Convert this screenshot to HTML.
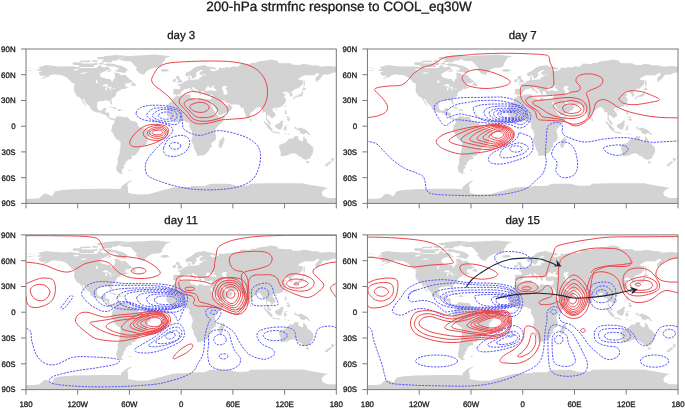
<!DOCTYPE html>
<html><head><meta charset="utf-8"><style>
html,body{margin:0;padding:0;background:#fff;width:685px;height:408px;overflow:hidden}
svg{display:block;will-change:transform}
text{font-family:"Liberation Sans",sans-serif;fill:#1a1a1a;stroke:#1a1a1a;stroke-width:0.3px;text-rendering:geometricPrecision}
</style></head><body>
<svg width="685" height="408" viewBox="0 0 685 408">
<defs>
<clipPath id="cp1"><rect x="26.0" y="49.0" width="310.30" height="154.40"/></clipPath>
<clipPath id="cp2"><rect x="367.45" y="49.0" width="310.55" height="154.40"/></clipPath>
<clipPath id="cp3"><rect x="26.0" y="234.9" width="310.30" height="154.70"/></clipPath>
<clipPath id="cp4"><rect x="367.45" y="234.9" width="310.55" height="154.70"/></clipPath>
</defs>
<text x="339" y="11.2" font-size="13.5" text-anchor="middle">200-hPa strmfnc response to COOL_eq30W</text>
<g clip-path="url(#cp1)"><path d="M40.7 79.0L39.4 79.5L41.5 78.6L45.0 76.6L45.8 75.8L41.5 75.9L39.8 74.7L38.5 73.4L39.4 72.2L42.4 70.9L38.1 70.9L36.3 69.9L40.7 68.7L38.1 67.2L46.3 65.0L51.9 65.8L59.6 66.4L64.8 66.6L70.8 66.2L77.7 67.0L82.0 67.9L88.1 67.9L96.7 67.9L99.3 64.9L103.6 67.4L107.9 66.6L110.5 69.6L107.0 71.3L105.3 71.3L100.1 73.9L100.1 75.6L100.1 75.8L101.9 77.3L106.2 78.6L110.5 79.0L112.2 82.0L113.1 79.5L114.8 78.2L114.8 74.7L113.9 72.8L118.2 73.0L121.7 75.6L125.1 74.5L127.7 77.3L129.4 79.0L132.9 81.6L132.0 82.0L129.4 83.1L125.1 83.7L125.6 84.6L125.1 85.9L126.0 86.7L129.4 86.7L124.3 88.9L120.8 88.9L120.8 90.3L117.4 91.5L116.5 93.2L115.6 94.5L116.1 95.9L113.9 97.0L111.3 99.2L111.8 102.2L112.2 104.3L110.9 104.3L109.6 101.3L107.9 100.5L104.4 100.2L104.0 101.3L100.1 100.7L97.1 102.6L97.1 105.6L97.1 107.8L98.4 109.9L99.7 110.6L102.7 110.2L103.1 108.2L106.2 107.8L105.7 110.3L105.0 112.5L108.7 112.6L109.4 113.3L109.2 115.9L109.0 116.8L110.9 118.5L112.6 118.1L114.3 118.7L114.6 119.4L113.9 119.8L112.2 119.9L110.9 119.7L107.3 117.6L107.2 116.5L105.7 115.0L102.7 114.3L100.1 112.5L98.0 112.7L94.1 111.4L90.2 109.0L90.5 107.5L89.4 106.3L87.2 104.3L85.5 102.4L83.9 99.2L82.2 98.9L82.9 100.5L84.4 103.0L86.8 106.5L86.1 106.0L84.4 104.8L82.5 102.2L81.6 100.0L80.2 98.3L79.0 97.0L77.2 96.6L75.6 94.0L74.4 92.3L74.0 90.2L74.3 86.7L73.7 84.7L75.1 85.0L75.1 84.2L73.4 83.3L71.3 82.5L70.4 80.7L68.7 79.5L66.5 77.3L63.9 76.0L60.9 75.0L57.0 74.7L53.6 74.3L51.4 75.2L50.1 74.9L48.4 76.9L46.3 77.3L44.1 78.2L41.5 79.0ZM118.2 59.3L123.4 57.1L129.4 55.9L142.4 55.3L155.3 54.6L163.9 55.4L170.8 56.3L165.6 58.0L164.8 60.2L162.2 63.6L162.2 65.7L158.7 67.4L152.7 67.9L148.4 70.0L145.8 72.2L144.1 74.7L142.4 74.6L139.8 73.4L137.6 71.3L135.5 69.2L137.2 67.4L134.6 65.7L132.9 63.6L130.3 61.2L124.3 61.0L118.2 59.3ZM125.1 73.0L127.7 69.2L122.5 66.2L113.9 64.0L107.9 63.2L103.6 64.4L108.7 66.2L113.9 66.6L119.1 68.3L117.4 70.0L113.9 70.9L120.8 72.2ZM79.4 67.0L94.1 67.0L94.1 63.6L86.3 63.6L79.4 63.6L78.6 65.3ZM73.4 64.9L81.2 65.0L81.2 62.3L73.4 62.3L72.5 63.6ZM103.6 61.0L116.5 60.6L120.8 58.4L127.7 55.9L116.5 55.0L103.6 56.3ZM101.9 62.3L112.2 62.3L112.2 60.6L101.9 60.6ZM80.3 62.3L90.6 62.0L90.6 60.6L80.3 60.8ZM97.5 59.3L107.0 59.3L107.0 56.7L97.5 57.1ZM94.1 64.9L97.5 64.9L97.5 62.7L94.1 63.2ZM99.3 64.4L103.6 64.4L103.6 62.7L99.3 62.7ZM92.4 61.9L97.5 61.9L97.5 60.2L92.4 60.2ZM105.3 71.7L108.7 71.7L112.2 70.9L108.7 69.6L106.2 70.4ZM160.5 70.0L162.2 69.2L167.4 69.2L169.5 70.4L168.2 71.0L165.6 71.8L161.8 71.5ZM107.9 107.5L110.5 106.4L114.8 107.3L117.2 108.9L114.3 109.1L112.2 107.5L109.6 107.3ZM117.0 110.3L118.4 109.1L120.9 109.4L122.2 110.2L119.6 111.1L117.0 110.5ZM113.7 110.4L115.5 110.4L115.3 110.9L113.9 110.8ZM123.2 110.3L124.6 110.4L124.5 110.8L123.2 110.8ZM130.0 85.4L133.3 81.9L135.5 84.2L135.7 85.9L135.0 86.2L132.9 85.4ZM114.5 118.9L116.1 117.2L119.1 115.6L119.5 117.2L120.8 115.9L122.5 117.2L126.0 117.1L128.1 117.2L129.0 118.9L131.6 121.1L134.6 121.2L136.8 122.5L138.1 124.7L138.1 126.6L139.3 127.1L142.8 128.3L145.8 128.7L148.0 129.4L150.7 130.7L151.2 132.6L150.7 134.3L149.3 135.6L147.6 137.5L147.5 141.2L146.7 143.4L145.4 145.5L142.8 146.2L139.8 148.1L139.3 150.6L137.2 152.8L135.5 155.1L133.8 156.1L131.6 155.8L130.7 155.4L132.0 157.5L131.5 158.9L127.7 159.7L127.5 161.2L125.1 161.4L126.0 162.7L124.9 164.8L123.0 166.1L124.3 167.4L122.2 169.3L121.7 171.2L122.1 172.9L124.3 173.4L120.0 173.8L116.9 171.2L116.1 167.4L117.4 163.9L117.8 162.2L117.6 158.4L119.5 154.1L119.6 151.1L120.4 147.6L120.6 142.0L119.5 141.0L116.5 139.3L115.3 137.8L112.6 132.6L111.2 131.3L111.1 130.1L112.2 128.3L111.8 126.6L112.2 125.3L113.5 124.1L114.3 122.8L114.4 120.2L114.1 119.8ZM176.3 95.3L177.4 94.7L179.3 94.7L180.5 93.9L181.3 92.9L180.9 92.3L181.9 91.0L183.9 90.3L183.8 89.2L185.3 89.0L186.8 89.2L187.6 88.6L188.7 88.1L189.9 88.5L190.2 89.4L191.8 90.4L193.2 91.2L194.6 91.8L194.7 93.4L195.0 93.6L195.9 92.7L195.7 91.5L197.1 91.8L196.2 91.2L194.9 90.6L193.2 89.7L191.8 88.3L191.8 87.4L193.0 87.1L193.6 87.4L194.3 88.2L195.8 89.1L197.2 89.8L197.9 90.3L197.9 91.6L198.6 92.2L199.3 93.3L199.9 94.6L200.8 95.0L201.1 93.7L201.8 93.4L200.8 92.6L201.0 91.6L201.8 91.2L203.6 91.2L204.1 91.8L203.7 92.4L204.4 93.3L204.6 94.5L205.5 94.7L206.7 95.1L207.5 94.7L208.7 94.9L210.0 95.1L211.1 94.6L212.4 94.8L212.1 95.7L212.0 96.5L211.3 97.9L210.7 99.4L209.0 99.4L209.2 100.6L210.1 102.0L210.6 102.4L211.2 100.9L211.5 102.1L212.7 104.1L213.5 105.4L214.9 107.5L215.6 109.0L216.7 110.2L217.9 112.0L218.0 113.5L218.5 115.0L218.6 115.4L219.9 115.2L222.5 114.2L224.2 113.3L226.1 112.6L228.9 111.1L230.1 110.3L231.0 109.9L231.6 108.7L232.7 106.9L231.7 106.0L230.3 105.6L229.7 104.5L229.8 103.6L229.0 104.3L227.7 105.5L226.0 105.6L225.6 105.2L225.6 104.0L225.1 103.9L224.5 104.3L224.4 103.7L223.8 103.0L223.0 101.8L222.4 100.6L223.2 100.5L224.3 100.4L225.5 102.3L227.3 103.2L228.4 103.5L229.7 102.9L230.6 104.2L232.4 104.4L234.2 104.6L236.7 104.6L238.6 104.4L239.2 105.0L240.2 106.0L240.6 107.0L241.9 108.4L243.4 107.3L243.7 108.0L243.9 109.7L244.4 112.5L245.4 114.3L246.0 115.9L246.9 117.8L248.0 119.3L248.6 118.6L249.5 117.4L249.9 116.3L250.4 114.7L250.2 113.2L251.2 112.1L252.1 112.0L253.8 110.3L254.8 109.3L256.1 108.4L256.1 107.8L257.2 107.6L257.9 107.4L259.2 106.9L260.3 107.0L260.7 108.2L261.3 109.0L262.4 110.1L262.5 112.5L263.4 112.6L264.8 111.7L265.4 112.0L265.9 114.6L266.1 116.8L265.9 119.2L267.6 121.7L267.9 122.8L268.5 123.8L270.4 125.1L271.0 125.0L270.3 122.3L269.2 120.9L267.6 119.8L267.6 118.9L266.7 117.4L267.3 115.5L267.3 114.6L268.1 115.3L269.5 115.7L269.9 116.8L271.2 117.2L271.7 118.8L273.2 117.3L275.3 116.2L275.4 114.6L274.9 113.1L273.6 112.0L272.3 110.1L273.0 108.5L274.2 107.7L275.9 107.8L276.1 108.8L276.8 107.8L279.0 107.2L281.6 106.5L283.3 105.1L284.2 103.9L285.3 102.2L286.3 100.6L285.4 99.8L286.1 99.2L285.3 98.1L284.0 96.5L284.8 95.3L286.7 94.3L285.3 93.8L283.7 94.3L282.9 93.2L282.6 92.7L283.7 92.3L285.4 91.2L286.3 91.5L285.7 92.9L286.7 92.3L288.3 92.0L289.2 93.9L290.2 94.0L290.0 96.5L291.0 96.5L292.6 95.9L292.7 94.5L291.8 93.1L291.0 92.1L292.9 91.0L293.8 89.9L295.2 89.1L297.8 88.6L299.8 87.0L302.3 84.6L303.0 81.4L302.7 80.3L300.4 80.0L299.2 79.7L297.7 79.2L299.7 77.7L302.4 76.3L304.7 75.3L307.9 75.3L311.3 75.6L314.1 75.3L316.2 73.4L319.3 73.1L319.1 74.3L317.3 76.4L316.2 77.0L315.5 79.0L316.2 82.5L317.8 80.8L319.1 79.7L320.8 78.0L321.2 77.7L321.6 76.4L322.9 74.9L324.4 74.4L327.9 74.7L329.8 73.9L331.6 73.2L334.1 72.6L335.6 72.8L335.9 70.9L338.0 70.4L340.2 71.0L342.8 70.9L345.2 69.6L343.2 68.7L339.7 67.4L336.3 67.0L332.9 66.3L327.7 66.1L324.2 66.5L319.9 66.5L317.3 65.3L312.2 65.4L307.0 64.2L301.8 64.0L300.1 64.9L294.9 64.9L292.3 64.4L290.6 63.2L287.2 63.3L282.9 63.2L278.5 62.9L277.7 61.0L276.0 60.4L270.8 59.6L266.5 60.6L262.2 61.0L257.9 61.4L256.1 62.7L250.5 63.1L250.8 64.3L248.4 64.1L245.8 63.8L243.6 63.8L241.1 63.6L240.2 64.9L238.7 65.5L238.9 66.6L236.7 66.8L233.3 66.2L231.6 67.1L228.1 67.7L227.3 67.1L223.0 68.0L219.2 67.4L218.9 69.4L215.9 70.8L213.0 71.2L211.1 70.8L210.9 69.6L209.6 69.0L211.3 68.8L214.3 69.5L216.7 68.9L216.1 68.0L212.2 66.9L209.6 66.7L207.0 66.2L205.3 65.3L203.4 65.2L201.0 65.7L197.5 66.2L194.9 67.4L193.6 68.3L191.9 69.8L190.2 70.9L188.5 71.8L185.9 72.8L185.5 73.9L185.5 75.2L186.1 75.7L187.2 76.4L188.5 76.2L189.8 75.6L190.3 74.8L190.8 75.5L191.3 76.2L192.0 77.7L192.3 78.6L193.5 78.5L194.9 78.0L195.5 76.9L195.6 76.0L197.3 75.1L196.2 74.1L196.1 72.7L197.5 71.7L199.7 70.4L200.4 69.8L203.0 70.2L202.7 70.6L199.7 72.2L199.5 73.7L200.1 74.5L201.0 74.8L203.6 74.4L207.0 74.7L205.3 75.2L201.8 75.2L201.4 75.8L202.2 76.3L201.8 77.3L199.7 76.9L199.3 78.2L199.4 78.9L198.1 79.5L197.1 79.3L195.4 79.5L193.4 80.0L191.9 79.5L190.6 79.9L189.9 79.5L190.5 77.8L190.2 76.7L188.6 77.2L188.1 78.2L188.6 79.0L188.8 79.9L187.2 80.5L185.3 80.7L184.6 81.8L183.3 82.4L182.5 83.1L181.3 83.7L180.0 83.7L179.5 83.6L179.9 84.4L178.6 84.3L177.1 84.7L177.4 85.2L179.0 85.6L180.1 86.6L180.1 87.9L179.9 89.0L177.9 89.0L174.3 88.7L173.1 89.4L173.6 90.2L173.4 91.9L173.0 93.0L173.6 94.5L174.7 94.3L175.6 94.6ZM-134.0 95.3L-132.9 94.7L-131.0 94.7L-129.8 93.9L-129.0 92.9L-129.4 92.3L-128.4 91.0L-126.4 90.3L-126.5 89.2L-125.0 89.0L-123.5 89.2L-122.7 88.6L-121.6 88.1L-120.4 88.5L-120.1 89.4L-118.5 90.4L-117.1 91.2L-115.7 91.8L-115.6 93.4L-115.3 93.6L-114.4 92.7L-114.6 91.5L-113.2 91.8L-114.1 91.2L-115.4 90.6L-117.1 89.7L-118.5 88.3L-118.5 87.4L-117.3 87.1L-116.7 87.4L-116.0 88.2L-114.5 89.1L-113.1 89.8L-112.4 90.3L-112.4 91.6L-111.7 92.2L-111.0 93.3L-110.4 94.6L-109.5 95.0L-109.2 93.7L-108.5 93.4L-109.5 92.6L-109.3 91.6L-108.5 91.2L-106.7 91.2L-106.2 91.8L-106.6 92.4L-105.9 93.3L-105.7 94.5L-104.8 94.7L-103.6 95.1L-102.8 94.7L-101.6 94.9L-100.3 95.1L-99.2 94.6L-97.9 94.8L-98.2 95.7L-98.3 96.5L-99.0 97.9L-99.6 99.4L-101.3 99.4L-101.1 100.6L-100.2 102.0L-99.7 102.4L-99.1 100.9L-98.8 102.1L-97.6 104.1L-96.8 105.4L-95.4 107.5L-94.7 109.0L-93.6 110.2L-92.4 112.0L-92.3 113.5L-91.8 115.0L-91.7 115.4L-90.4 115.2L-87.8 114.2L-86.1 113.3L-84.2 112.6L-81.4 111.1L-80.2 110.3L-79.3 109.9L-78.7 108.7L-77.6 106.9L-78.6 106.0L-80.0 105.6L-80.6 104.5L-80.5 103.6L-81.3 104.3L-82.6 105.5L-84.3 105.6L-84.7 105.2L-84.7 104.0L-85.2 103.9L-85.8 104.3L-85.9 103.7L-86.5 103.0L-87.3 101.8L-87.9 100.6L-87.1 100.5L-86.0 100.4L-84.8 102.3L-83.0 103.2L-81.9 103.5L-80.6 102.9L-79.7 104.2L-77.9 104.4L-76.1 104.6L-73.6 104.6L-71.7 104.4L-71.1 105.0L-70.1 106.0L-69.7 107.0L-68.4 108.4L-66.9 107.3L-66.6 108.0L-66.4 109.7L-65.9 112.5L-64.9 114.3L-64.3 115.9L-63.4 117.8L-62.3 119.3L-61.7 118.6L-60.8 117.4L-60.4 116.3L-59.9 114.7L-60.1 113.2L-59.1 112.1L-58.2 112.0L-56.5 110.3L-55.5 109.3L-54.2 108.4L-54.2 107.8L-53.1 107.6L-52.4 107.4L-51.1 106.9L-50.0 107.0L-49.6 108.2L-49.0 109.0L-47.9 110.1L-47.8 112.5L-46.9 112.6L-45.5 111.7L-44.9 112.0L-44.4 114.6L-44.2 116.8L-44.4 119.2L-42.7 121.7L-42.4 122.8L-41.8 123.8L-39.9 125.1L-39.3 125.0L-40.0 122.3L-41.1 120.9L-42.7 119.8L-42.7 118.9L-43.6 117.4L-43.0 115.5L-43.0 114.6L-42.2 115.3L-40.8 115.7L-40.4 116.8L-39.1 117.2L-38.6 118.8L-37.1 117.3L-35.0 116.2L-34.9 114.6L-35.4 113.1L-36.7 112.0L-38.0 110.1L-37.3 108.5L-36.1 107.7L-34.4 107.8L-34.2 108.8L-33.5 107.8L-31.3 107.2L-28.7 106.5L-27.0 105.1L-26.1 103.9L-25.0 102.2L-24.0 100.6L-24.9 99.8L-24.2 99.2L-25.0 98.1L-26.3 96.5L-25.5 95.3L-23.6 94.3L-25.0 93.8L-26.6 94.3L-27.4 93.2L-27.7 92.7L-26.6 92.3L-24.9 91.2L-24.0 91.5L-24.6 92.9L-23.6 92.3L-22.0 92.0L-21.1 93.9L-20.1 94.0L-20.3 96.5L-19.3 96.5L-17.7 95.9L-17.6 94.5L-18.5 93.1L-19.3 92.1L-17.4 91.0L-16.5 89.9L-15.1 89.1L-12.5 88.6L-10.5 87.0L-8.0 84.6L-7.3 81.4L-7.6 80.3L-9.9 80.0L-11.1 79.7L-12.6 79.2L-10.6 77.7L-7.9 76.3L-5.6 75.3L-2.4 75.3L1.0 75.6L3.8 75.3L5.9 73.4L9.0 73.1L8.8 74.3L7.0 76.4L5.9 77.0L5.2 79.0L5.9 82.5L7.5 80.8L8.8 79.7L10.5 78.0L10.9 77.7L11.3 76.4L12.6 74.9L14.1 74.4L17.6 74.7L19.5 73.9L21.3 73.2L23.8 72.6L25.3 72.8L25.6 70.9L27.7 70.4L29.9 71.0L32.5 70.9L34.9 69.6L32.9 68.7L29.4 67.4L26.0 67.0L22.6 66.3L17.4 66.1L13.9 66.5L9.6 66.5L7.0 65.3L1.9 65.4L-3.3 64.2L-8.5 64.0L-10.2 64.9L-15.4 64.9L-18.0 64.4L-19.7 63.2L-23.1 63.3L-27.4 63.2L-31.8 62.9L-32.6 61.0L-34.3 60.4L-39.5 59.6L-43.8 60.6L-48.1 61.0L-52.4 61.4L-54.2 62.7L-59.8 63.1L-59.5 64.3L-61.9 64.1L-64.5 63.8L-66.7 63.8L-69.2 63.6L-70.1 64.9L-71.6 65.5L-71.4 66.6L-73.6 66.8L-77.0 66.2L-78.7 67.1L-82.2 67.7L-83.0 67.1L-87.3 68.0L-91.1 67.4L-91.4 69.4L-94.4 70.8L-97.3 71.2L-99.2 70.8L-99.4 69.6L-100.7 69.0L-99.0 68.8L-96.0 69.5L-93.6 68.9L-94.2 68.0L-98.1 66.9L-100.7 66.7L-103.3 66.2L-105.0 65.3L-106.9 65.2L-109.3 65.7L-112.8 66.2L-115.4 67.4L-116.7 68.3L-118.4 69.8L-120.1 70.9L-121.8 71.8L-124.4 72.8L-124.8 73.9L-124.8 75.2L-124.2 75.7L-123.1 76.4L-121.8 76.2L-120.5 75.6L-120.0 74.8L-119.5 75.5L-119.0 76.2L-118.3 77.7L-118.0 78.6L-116.8 78.5L-115.4 78.0L-114.8 76.9L-114.7 76.0L-113.0 75.1L-114.1 74.1L-114.2 72.7L-112.8 71.7L-110.6 70.4L-109.9 69.8L-107.3 70.2L-107.6 70.6L-110.6 72.2L-110.8 73.7L-110.2 74.5L-109.3 74.8L-106.7 74.4L-103.3 74.7L-105.0 75.2L-108.5 75.2L-108.9 75.8L-108.1 76.3L-108.5 77.3L-110.6 76.9L-111.0 78.2L-110.9 78.9L-112.2 79.5L-113.2 79.3L-114.9 79.5L-116.9 80.0L-118.4 79.5L-119.7 79.9L-120.4 79.5L-119.8 77.8L-120.1 76.7L-121.7 77.2L-122.2 78.2L-121.7 79.0L-121.5 79.9L-123.1 80.5L-125.0 80.7L-125.7 81.8L-127.0 82.4L-127.8 83.1L-129.0 83.7L-130.3 83.7L-130.8 83.6L-130.4 84.4L-131.7 84.3L-133.2 84.7L-132.9 85.2L-131.3 85.6L-130.2 86.6L-130.2 87.9L-130.4 89.0L-132.4 89.0L-136.0 88.7L-137.2 89.4L-136.7 90.2L-136.9 91.9L-137.3 93.0L-136.7 94.5L-135.6 94.3L-134.7 94.6ZM209.0 99.4L207.0 99.4L205.3 99.7L202.7 99.1L201.0 98.3L200.1 98.0L198.4 98.8L197.5 100.2L195.8 99.6L194.5 98.5L192.4 98.0L191.1 97.7L189.9 97.0L190.7 96.0L190.2 94.7L190.6 94.4L189.6 94.2L188.0 94.5L185.5 94.6L183.7 94.6L182.0 94.9L180.3 95.7L179.3 96.1L176.6 95.4L176.0 95.5L175.3 97.0L173.8 97.6L172.7 99.3L172.8 100.5L171.2 102.0L169.9 102.6L168.7 103.7L167.4 105.6L166.5 107.8L167.1 109.5L166.9 111.6L166.1 113.6L166.7 114.6L166.8 115.6L167.8 116.3L168.7 117.2L169.7 118.1L170.4 119.5L171.7 120.4L173.0 121.5L174.7 122.4L176.8 121.8L179.4 122.1L181.2 121.4L182.9 120.8L185.0 120.8L186.3 122.5L187.6 122.3L188.7 122.6L189.3 123.6L189.6 125.3L189.2 127.1L190.6 129.2L191.5 130.5L192.4 133.1L192.8 135.2L191.9 137.8L191.3 140.4L191.9 142.1L193.6 145.5L194.1 148.9L195.4 150.7L196.7 153.2L196.9 155.4L198.4 156.1L200.5 155.4L203.1 155.4L204.4 154.9L207.0 152.8L209.2 150.6L209.5 148.5L211.7 146.8L211.6 145.1L211.1 143.4L212.6 142.3L215.2 140.4L216.1 138.6L216.1 135.6L215.2 132.6L214.8 130.5L215.9 128.6L216.9 127.5L218.6 125.5L220.8 123.6L222.5 121.9L223.8 119.3L225.3 116.3L223.4 116.5L220.8 117.0L219.1 117.3L218.4 116.3L218.0 115.5L216.9 114.4L215.6 112.9L214.8 111.6L213.9 110.3L213.2 108.2L212.9 107.3L211.7 106.0L211.3 104.3L210.3 102.6L209.2 100.6ZM223.6 136.5L224.7 139.5L223.8 141.6L223.0 144.2L221.7 147.6L219.9 148.1L218.8 146.4L218.5 144.6L219.4 143.2L219.1 140.8L220.8 139.8L222.5 137.8ZM250.1 117.8L251.0 118.9L251.7 120.2L251.0 121.1L250.2 121.1L249.9 119.8ZM176.2 83.3L178.6 82.8L182.4 82.3L182.6 81.0L181.3 80.3L180.9 79.9L179.9 79.0L179.4 78.2L179.6 76.8L178.4 75.9L176.8 75.9L175.8 76.9L176.3 78.2L177.0 79.2L178.4 79.9L178.6 80.6L177.2 80.9L177.5 81.6L176.7 81.9L178.1 82.1L177.3 82.8ZM176.0 81.4L175.8 80.1L176.3 79.4L176.0 78.9L174.7 78.8L173.8 79.4L172.5 79.9L173.0 80.7L172.3 81.6L173.0 82.0L174.3 81.8L175.7 81.4ZM294.0 97.0L295.4 95.7L297.9 95.6L299.1 94.2L301.4 93.4L301.8 91.9L302.9 90.7L303.5 92.3L302.7 94.0L302.5 95.7L301.6 96.2L300.8 96.5L299.2 96.5L298.2 97.5L297.5 96.5L295.8 96.8L294.1 97.1ZM292.9 97.5L294.1 97.1L294.8 98.3L294.1 99.4L293.4 99.4L293.0 98.2ZM295.4 97.9L296.2 97.6L297.3 97.2L297.1 96.9L295.8 96.9L295.2 97.4ZM301.8 90.6L303.1 89.7L304.7 90.2L306.8 89.1L305.3 88.5L303.4 87.3L302.9 88.9L302.1 89.1L301.8 90.2ZM303.5 86.7L304.8 86.3L304.6 84.2L305.3 84.0L304.2 79.6L303.7 80.3L303.5 82.5L303.5 85.0ZM284.7 106.5L285.3 107.4L286.2 104.9L285.8 104.5L284.8 105.6ZM274.8 109.7L275.5 110.6L276.8 109.4L276.4 109.0L275.1 109.1ZM284.6 112.5L285.0 110.3L286.5 110.3L286.3 112.0L286.7 114.2L288.0 115.0L287.2 114.6L285.4 114.4L285.1 113.8ZM286.3 120.2L287.2 118.9L289.3 118.1L290.2 119.8L289.3 121.3L288.0 120.6ZM286.3 117.2L287.6 116.3L289.3 116.3L288.9 117.6L287.2 118.1ZM263.3 121.4L265.2 121.7L267.6 124.1L270.4 126.6L271.2 127.7L272.5 128.8L272.3 131.2L271.2 131.3L269.5 129.6L268.2 128.3L266.9 126.6L266.1 124.7L264.3 123.2ZM271.8 132.0L272.9 131.3L274.7 131.8L276.4 132.1L278.1 132.1L279.8 132.8L279.8 133.7L276.8 133.2L274.7 132.9L272.9 132.5ZM275.1 124.9L275.7 124.5L277.3 124.1L278.5 123.5L280.7 121.7L282.0 120.2L283.9 121.7L282.9 122.3L282.6 125.3L283.6 125.3L282.4 126.2L281.7 127.9L281.1 129.4L279.8 129.6L277.4 128.8L276.1 127.7L275.1 126.6L275.1 125.3ZM284.2 130.9L285.0 130.9L284.8 128.6L285.7 130.2L287.0 130.1L285.9 127.9L287.3 127.1L285.4 127.1L285.0 125.8L287.2 125.4L288.9 124.9L285.3 125.1L284.4 126.2L283.7 129.2ZM294.1 127.1L295.4 126.5L297.5 129.0L299.7 127.5L302.7 128.4L306.1 130.1L307.0 130.9L308.3 131.8L308.7 133.1L310.9 135.2L308.3 134.8L307.0 133.1L305.3 132.9L304.0 134.2L302.7 134.0L301.0 133.2L300.1 133.4L299.9 130.9L297.9 130.0L296.2 129.5L294.9 128.6L294.5 127.5ZM287.6 135.0L288.9 133.9L290.8 133.4L289.8 134.2L288.3 134.9ZM283.5 133.7L284.6 133.3L287.0 133.3L287.0 133.7L284.6 133.8ZM279.0 145.1L279.4 148.5L280.2 151.1L280.9 153.2L280.3 155.0L281.6 156.2L282.9 156.2L287.6 155.3L289.8 153.9L292.3 153.4L294.1 153.2L296.7 154.3L298.0 156.1L298.8 155.4L299.9 156.8L301.4 157.1L302.3 158.8L304.8 159.5L307.3 159.7L308.7 158.6L310.4 158.4L310.6 156.9L311.6 155.2L312.6 153.6L313.5 150.8L313.2 147.6L311.1 145.5L309.6 143.8L307.3 142.5L306.6 139.9L306.4 139.0L304.8 138.2L304.0 135.4L303.2 137.4L303.1 140.4L302.3 141.4L301.0 140.8L299.2 139.8L297.9 139.1L299.0 136.9L298.4 136.5L295.5 135.9L294.1 136.7L292.8 139.0L291.0 138.2L289.3 138.6L287.6 140.4L286.5 141.6L285.4 142.9L283.3 143.6L281.7 143.9L279.9 144.9ZM305.8 161.1L309.0 161.3L308.7 163.3L307.0 163.6L306.3 162.4ZM330.0 155.7L331.6 157.5L332.8 158.4L335.0 158.5L333.7 159.9L332.9 161.4L332.0 161.8L331.6 160.3L331.0 159.8L331.6 157.9ZM330.0 160.9L331.4 162.0L330.7 163.1L328.8 164.4L327.2 166.2L324.7 165.7L326.0 163.9L328.5 162.2ZM26.0 67.0L30.3 68.3L34.6 69.5L32.9 71.0L29.4 70.1L26.0 70.4ZM26.0 198.8L32.9 198.8L38.9 198.3L42.4 195.3L45.0 193.6L48.4 194.4L51.9 196.5L54.4 192.2L55.3 191.2L62.2 190.1L74.3 189.2L86.3 189.1L97.5 188.8L112.2 188.8L120.8 189.0L121.2 186.7L123.0 185.2L126.0 183.0L129.4 181.1L132.0 180.2L131.2 181.3L128.1 183.2L127.3 185.4L128.1 188.0L128.1 192.7L132.9 194.0L138.1 194.5L148.4 194.2L156.6 191.9L162.6 190.2L168.2 188.8L173.0 187.6L181.2 187.1L189.8 187.1L191.5 186.0L205.3 186.0L207.0 185.0L211.3 183.7L219.9 183.7L228.6 183.7L237.2 185.8L241.5 185.8L248.4 185.4L250.1 183.7L266.5 183.2L302.7 183.2L310.4 185.0L319.1 186.2L328.0 188.0L324.2 189.7L321.6 192.2L322.5 195.7L327.7 198.0L336.3 198.0L337.2 203.4L25.1 203.4ZM-284.3 198.8L-277.4 198.8L-271.4 198.3L-267.9 195.3L-265.3 193.6L-261.9 194.4L-258.4 196.5L-255.9 192.2L-255.0 191.2L-248.1 190.1L-236.0 189.2L-224.0 189.1L-212.8 188.8L-198.1 188.8L-189.5 189.0L-189.1 186.7L-187.3 185.2L-184.3 183.0L-180.9 181.1L-178.3 180.2L-179.1 181.3L-182.2 183.2L-183.0 185.4L-182.2 188.0L-182.2 192.7L-177.4 194.0L-172.2 194.5L-161.9 194.2L-153.7 191.9L-147.7 190.2L-142.1 188.8L-137.3 187.6L-129.2 187.1L-120.5 187.1L-118.8 186.0L-105.0 186.0L-103.3 185.0L-99.0 183.7L-90.4 183.7L-81.7 183.7L-73.1 185.8L-68.8 185.8L-61.9 185.4L-60.2 183.7L-43.8 183.2L-7.6 183.2L0.1 185.0L8.8 186.2L17.7 188.0L13.9 189.7L11.3 192.2L12.2 195.7L17.4 198.0L26.0 198.0L26.9 203.4L-285.2 203.4ZM128.3 170.1L131.0 170.2L131.4 170.5L130.5 171.1L129.0 171.0Z" fill="#d3d3d3"/><path d="M100.1 75.6L101.4 77.3L106.2 78.6L110.2 78.9L112.2 82.0L113.1 79.5L114.8 78.2L114.8 74.7L113.9 72.8L112.2 71.7L108.7 72.2L105.3 71.3L102.7 72.2L100.1 73.9ZM205.3 90.5L205.8 89.0L206.7 87.3L207.7 86.3L209.2 86.7L210.0 88.0L211.7 87.5L212.7 87.3L213.9 88.0L215.2 88.9L217.0 90.5L215.2 91.0L212.6 90.8L210.9 90.2L208.7 90.4L206.3 90.9ZM211.5 87.3L212.9 87.3L214.2 86.5L214.9 85.7L213.5 85.8L211.5 86.6ZM223.4 86.3L225.5 85.9L226.8 86.1L227.0 87.3L225.4 87.9L226.6 90.2L227.7 91.0L226.8 92.3L227.6 94.2L225.1 94.7L223.4 94.0L223.6 91.9L223.0 90.3L221.9 88.9L222.1 87.2ZM101.8 86.1L103.6 86.2L106.2 86.3L108.3 86.3L108.2 85.5L107.0 84.3L104.9 84.3L103.6 84.9L101.9 85.9ZM105.5 90.4L106.4 90.3L106.9 88.9L107.5 87.2L108.1 86.8L106.6 86.7L105.6 87.8L105.4 89.3ZM108.2 86.8L109.2 86.7L110.9 86.7L111.9 87.2L110.8 87.8L110.7 89.1L110.0 89.3L109.2 88.5L109.4 87.6L108.3 87.2ZM109.2 90.4L110.9 90.6L113.1 89.5L111.8 89.6L110.0 90.0ZM112.4 89.1L114.8 89.1L115.5 88.4L113.9 88.5L112.6 88.7ZM95.8 82.9L98.0 82.9L97.7 81.6L96.9 79.9L96.0 80.3L95.8 82.0ZM80.3 73.9L83.8 73.7L87.2 72.8L85.5 72.3L82.0 72.8ZM73.4 70.4L76.9 70.3L79.4 69.2L76.9 68.7L74.3 69.2Z" fill="#fff"/>
<path d="M151.6 79.6C151.6 77.9 152.7 76.3 153.8 74.4C154.9 72.5 155.8 69.8 158.0 68.0C160.2 66.2 162.3 64.5 166.9 63.4C171.5 62.4 178.7 62.1 185.8 61.7C193.0 61.3 201.8 61.0 209.8 61.0C217.8 61.0 227.0 61.1 233.8 62.0C240.7 62.9 246.2 64.1 250.9 66.2C255.6 68.3 259.2 71.3 261.9 74.7C264.6 78.1 266.4 82.4 267.1 86.7C267.9 91.0 267.7 96.3 266.4 100.5C265.1 104.7 262.6 109.0 259.5 111.8C256.4 114.6 252.3 116.3 247.5 117.5C242.7 118.7 235.3 118.8 230.9 119.2C226.5 119.6 224.1 119.5 221.2 120.0C218.3 120.5 216.2 121.4 213.3 122.0C210.4 122.6 206.6 123.6 203.7 123.8C200.8 124.0 198.2 124.1 195.8 123.4C193.5 122.7 191.3 121.0 189.6 119.4C187.8 117.9 186.9 115.8 185.3 114.1C183.7 112.4 181.7 111.2 180.0 109.5C178.3 107.8 176.9 106.1 175.0 103.9C173.1 101.7 170.8 98.7 168.5 96.5C166.2 94.3 163.6 92.6 161.2 90.6C158.8 88.6 155.4 86.5 153.8 84.7C152.2 82.9 151.6 81.3 151.6 79.6Z" fill="none" stroke="#e8454a" stroke-width="1.0"/>
<path d="M179.1 101.4C179.1 99.4 181.1 96.8 183.2 95.2C185.2 93.6 188.5 92.0 191.4 91.6C194.3 91.2 197.3 91.9 200.5 92.7C203.7 93.5 207.4 94.8 210.8 96.2C214.2 97.6 218.2 99.2 221.0 101.3C223.8 103.3 226.7 106.4 227.6 108.5C228.5 110.6 227.6 112.6 226.5 114.1C225.4 115.6 223.1 116.7 221.2 117.6C219.3 118.5 217.6 119.0 215.1 119.6C212.6 120.2 209.2 121.0 206.3 121.2C203.4 121.4 200.0 121.3 197.5 120.7C195.0 120.1 193.0 119.0 191.4 117.6C189.8 116.2 189.3 114.1 187.9 112.4C186.5 110.7 184.5 109.3 183.0 107.5C181.5 105.7 179.1 103.5 179.1 101.4Z" fill="none" stroke="#e8454a" stroke-width="1.0"/>
<path d="M184.2 103.4C184.5 102.4 185.4 101.1 187.3 100.3C189.2 99.5 192.3 98.8 195.4 98.8C198.5 98.8 202.6 99.3 205.7 100.3C208.8 101.3 211.8 103.4 213.8 104.9C215.8 106.4 217.1 107.9 217.5 109.2C217.9 110.5 217.2 111.5 216.5 112.6C215.8 113.7 215.0 115.1 213.3 115.9C211.6 116.7 208.9 117.4 206.3 117.6C203.7 117.8 199.7 117.7 197.5 117.2C195.3 116.7 194.6 115.8 193.2 114.6C191.8 113.4 190.1 111.1 188.8 109.8C187.5 108.5 186.3 107.6 185.5 106.5C184.7 105.4 183.9 104.4 184.2 103.4Z" fill="none" stroke="#e8454a" stroke-width="1.0"/>
<path d="M190.3 105.4C191.5 104.2 195.9 102.7 198.5 102.4C201.1 102.1 203.9 102.5 205.7 103.4C207.5 104.3 209.4 106.6 209.2 108.0C209.0 109.4 206.5 111.1 204.6 111.8C202.7 112.5 199.7 112.5 197.5 112.1C195.3 111.7 192.6 110.6 191.4 109.5C190.2 108.4 189.1 106.6 190.3 105.4Z" fill="none" stroke="#e8454a" stroke-width="1.0"/>
<path d="M129.7 142.6C129.7 141.1 130.9 139.0 132.1 137.2C133.3 135.4 135.1 133.4 136.9 131.7C138.7 130.0 140.8 128.1 143.1 126.9C145.4 125.7 148.0 124.9 150.6 124.5C153.2 124.1 156.4 124.2 158.9 124.5C161.4 124.8 164.1 125.2 165.7 126.2C167.3 127.2 168.3 128.8 168.5 130.3C168.7 131.8 168.1 133.6 167.1 135.1C166.1 136.6 164.2 137.9 162.3 139.2C160.4 140.4 158.0 141.6 155.5 142.6C153.0 143.6 150.1 144.7 147.2 145.4C144.3 146.1 140.8 146.7 138.3 146.8C135.8 146.9 133.5 146.8 132.1 146.1C130.7 145.4 129.7 144.1 129.7 142.6Z" fill="none" stroke="#e8454a" stroke-width="1.0"/>
<path d="M167.5 132.4C167.5 133.4 167.3 134.4 166.9 135.3C166.5 136.2 165.8 137.1 164.9 137.8C164.1 138.5 162.9 139.1 161.8 139.6C160.6 140.0 159.2 140.3 157.8 140.4C156.5 140.6 155.0 140.5 153.6 140.3C152.2 140.2 150.8 139.8 149.6 139.4C148.4 139.0 147.2 138.4 146.3 137.9C145.4 137.3 144.6 136.6 144.1 135.9C143.6 135.2 143.3 134.4 143.2 133.7C143.2 132.9 143.4 132.1 143.8 131.4C144.3 130.6 145.0 129.8 145.8 129.2C146.7 128.5 147.8 127.8 149.0 127.3C150.2 126.8 151.5 126.3 152.9 126.0C154.2 125.7 155.7 125.5 157.1 125.5C158.4 125.5 159.9 125.6 161.1 125.9C162.3 126.2 163.5 126.7 164.4 127.4C165.3 128.0 166.1 128.8 166.6 129.6C167.1 130.5 167.4 131.5 167.5 132.4Z" fill="none" stroke="#e8454a" stroke-width="1.0"/>
<path d="M166.0 132.3C166.0 133.1 165.8 134.0 165.4 134.7C165.0 135.5 164.3 136.2 163.5 136.8C162.7 137.3 161.6 137.8 160.5 138.0C159.4 138.3 158.2 138.4 157.0 138.4C155.8 138.4 154.5 138.2 153.4 137.9C152.3 137.6 151.2 137.2 150.3 136.7C149.5 136.3 148.7 135.7 148.2 135.1C147.7 134.6 147.4 133.9 147.4 133.3C147.4 132.6 147.6 132.0 148.0 131.3C148.4 130.7 149.1 130.1 150.0 129.5C150.8 129.0 151.8 128.4 152.9 128.0C154.0 127.7 155.2 127.3 156.4 127.2C157.6 127.1 158.9 127.1 160.0 127.2C161.1 127.4 162.2 127.7 163.1 128.2C163.9 128.6 164.7 129.3 165.2 130.0C165.7 130.7 165.9 131.5 166.0 132.3Z" fill="none" stroke="#e8454a" stroke-width="1.0"/>
<path d="M164.5 132.3C164.5 132.8 164.3 133.4 164.0 133.9C163.6 134.4 163.1 134.9 162.4 135.3C161.8 135.6 160.9 135.9 160.0 136.1C159.1 136.3 158.1 136.4 157.2 136.4C156.2 136.4 155.2 136.3 154.3 136.1C153.4 135.9 152.5 135.6 151.8 135.3C151.1 135.0 150.5 134.6 150.1 134.2C149.7 133.8 149.5 133.3 149.5 132.9C149.5 132.5 149.7 132.0 150.0 131.6C150.4 131.1 150.9 130.7 151.6 130.3C152.3 129.9 153.1 129.6 154.0 129.3C154.9 129.1 155.9 128.9 156.8 128.8C157.8 128.7 158.8 128.7 159.7 128.8C160.6 129.0 161.5 129.2 162.2 129.5C162.9 129.8 163.5 130.3 163.9 130.7C164.2 131.2 164.5 131.8 164.5 132.3Z" fill="none" stroke="#e8454a" stroke-width="1.0"/>
<path d="M162.5 132.4C162.5 132.8 162.3 133.2 162.0 133.5C161.7 133.8 161.2 134.2 160.6 134.4C160.0 134.6 159.2 134.8 158.5 134.8C157.7 134.9 156.9 134.9 156.1 134.8C155.4 134.8 154.6 134.6 154.0 134.4C153.4 134.2 152.9 133.9 152.6 133.6C152.2 133.4 152.0 133.0 152.0 132.7C152.0 132.4 152.2 132.0 152.5 131.7C152.8 131.4 153.3 131.1 153.9 130.9C154.5 130.7 155.3 130.5 156.0 130.3C156.8 130.2 157.6 130.2 158.3 130.2C159.1 130.2 159.9 130.3 160.5 130.5C161.1 130.7 161.6 131.0 161.9 131.3C162.3 131.6 162.5 132.0 162.5 132.4Z" fill="none" stroke="#e8454a" stroke-width="1.0"/>
<path d="M136.1 113.1C136.4 111.5 137.8 109.1 140.2 107.8C142.6 106.5 146.7 105.6 150.8 105.3C154.9 105.0 160.8 105.3 164.7 105.7C168.6 106.1 171.9 106.8 174.5 107.8C177.1 108.8 179.0 109.7 180.2 111.4C181.4 113.1 181.5 115.8 181.9 118.0C182.3 120.2 182.4 122.7 182.7 124.5C183.0 126.3 182.2 127.3 183.6 128.8C185.0 130.3 188.3 132.4 191.2 133.5C194.0 134.6 197.5 135.6 200.7 135.4C203.9 135.2 207.0 133.4 210.2 132.6C213.4 131.8 215.6 130.5 219.7 130.7C223.8 130.8 230.2 132.2 234.9 133.5C239.7 134.8 244.4 136.2 248.2 138.3C252.0 140.4 255.6 143.1 257.6 145.9C259.7 148.8 260.3 151.6 260.5 155.4C260.7 159.2 260.0 164.5 258.6 168.6C257.2 172.7 255.3 177.0 252.0 180.0C248.7 183.0 244.1 185.1 238.7 186.7C233.3 188.3 226.7 189.0 219.7 189.5C212.7 190.0 203.8 190.0 196.9 189.5C190.0 189.0 184.3 188.1 178.0 186.7C171.7 185.3 164.1 182.9 159.0 181.0C153.9 179.1 149.9 177.7 147.6 175.3C145.3 172.9 145.3 169.4 145.3 166.7C145.3 164.0 145.9 162.0 147.6 159.2C149.2 156.4 152.3 152.9 155.2 149.7C158.0 146.5 162.2 142.7 164.7 140.2C167.2 137.7 169.0 136.3 170.4 134.6C171.8 132.9 172.9 131.4 172.9 130.0C172.9 128.6 171.8 127.2 170.4 126.2C169.0 125.2 166.6 124.4 164.7 123.7C162.8 123.0 161.1 122.5 159.0 122.1C156.9 121.7 154.8 121.6 152.4 121.3C150.0 121.0 146.6 120.7 144.3 120.0C142.0 119.3 139.9 118.4 138.5 117.2C137.1 116.0 135.8 114.7 136.1 113.1Z" fill="none" stroke="#5656fa" stroke-width="1.0" stroke-dasharray="2.2 1.1"/>
<path d="M146.7 114.7C147.1 113.1 150.1 110.2 152.4 109.0C154.7 107.8 157.9 107.9 160.6 107.8C163.3 107.7 166.2 107.8 168.8 108.2C171.4 108.6 174.3 109.2 176.2 110.2C178.1 111.2 179.5 112.3 180.2 113.9C180.9 115.5 180.6 118.0 180.2 119.6C179.8 121.2 179.0 122.9 177.8 123.7C176.6 124.5 175.1 124.6 172.9 124.5C170.7 124.4 167.4 123.4 164.7 122.9C162.0 122.4 158.9 122.0 156.5 121.3C154.1 120.6 151.6 119.9 150.0 118.8C148.4 117.7 146.3 116.3 146.7 114.7Z" fill="none" stroke="#5656fa" stroke-width="1.0" stroke-dasharray="2.2 1.1"/>
<path d="M152.4 114.7C153.2 113.4 156.5 111.1 159.0 110.2C161.5 109.3 164.6 109.2 167.2 109.4C169.8 109.6 172.9 110.4 174.5 111.4C176.1 112.4 176.9 114.1 177.0 115.5C177.1 116.9 176.7 118.6 175.3 119.6C173.9 120.6 171.4 121.2 168.8 121.3C166.2 121.4 162.2 121.0 159.8 120.4C157.4 119.9 155.3 119.0 154.1 118.0C152.9 117.0 151.6 116.0 152.4 114.7Z" fill="none" stroke="#5656fa" stroke-width="1.0" stroke-dasharray="2.2 1.1"/>
<path d="M158.2 115.1C158.8 114.2 161.2 112.8 163.1 112.3C165.0 111.8 168.0 111.8 169.6 112.3C171.2 112.8 172.6 114.1 172.9 115.1C173.2 116.1 172.6 117.7 171.2 118.4C169.8 119.1 166.6 119.3 164.7 119.2C162.8 119.1 160.9 118.3 159.8 117.6C158.7 116.9 157.6 116.0 158.2 115.1Z" fill="none" stroke="#5656fa" stroke-width="1.0" stroke-dasharray="2.2 1.1"/>
<path d="M163.7 147.8C164.5 145.7 165.8 141.3 168.5 139.2C171.2 137.1 176.7 135.7 179.8 135.4C183.0 135.1 185.8 135.9 187.4 137.3C189.1 138.7 190.0 141.6 189.7 144.0C189.4 146.4 187.8 149.5 185.5 151.6C183.2 153.7 179.2 155.7 176.1 156.3C172.9 156.9 168.7 156.2 166.6 155.4C164.5 154.6 164.2 152.9 163.7 151.6C163.2 150.3 162.9 149.9 163.7 147.8Z" fill="none" stroke="#5656fa" stroke-width="1.0" stroke-dasharray="2.2 1.1"/>
<path d="M180.8 145.9C180.8 146.6 180.4 147.4 179.7 147.9C179.1 148.4 177.9 148.9 176.9 149.1C175.8 149.3 174.4 149.3 173.3 149.1C172.3 148.9 171.1 148.4 170.5 147.9C169.8 147.4 169.4 146.6 169.4 145.9C169.4 145.2 169.8 144.4 170.5 143.9C171.1 143.4 172.3 142.9 173.3 142.7C174.4 142.5 175.8 142.5 176.9 142.7C177.9 142.9 179.1 143.4 179.7 143.9C180.4 144.4 180.8 145.2 180.8 145.9Z" fill="none" stroke="#5656fa" stroke-width="1.0" stroke-dasharray="2.2 1.1"/>
</g>
<rect x="26.0" y="49.0" width="310.30" height="154.40" fill="none" stroke="#7a7a7a" stroke-width="1"/>
<line x1="21.0" y1="49.0" x2="26.0" y2="49.0" stroke="#7a7a7a" stroke-width="1"/>
<text x="15.6" y="51.8" font-size="7.9" text-anchor="end">90N</text>
<line x1="21.0" y1="74.7" x2="26.0" y2="74.7" stroke="#7a7a7a" stroke-width="1"/>
<text x="15.6" y="77.5" font-size="7.9" text-anchor="end">60N</text>
<line x1="21.0" y1="100.5" x2="26.0" y2="100.5" stroke="#7a7a7a" stroke-width="1"/>
<text x="15.6" y="103.3" font-size="7.9" text-anchor="end">30N</text>
<line x1="21.0" y1="126.2" x2="26.0" y2="126.2" stroke="#7a7a7a" stroke-width="1"/>
<text x="15.6" y="129.0" font-size="7.9" text-anchor="end">0</text>
<line x1="21.0" y1="151.9" x2="26.0" y2="151.9" stroke="#7a7a7a" stroke-width="1"/>
<text x="15.6" y="154.7" font-size="7.9" text-anchor="end">30S</text>
<line x1="21.0" y1="177.7" x2="26.0" y2="177.7" stroke="#7a7a7a" stroke-width="1"/>
<text x="15.6" y="180.5" font-size="7.9" text-anchor="end">60S</text>
<line x1="21.0" y1="203.4" x2="26.0" y2="203.4" stroke="#7a7a7a" stroke-width="1"/>
<text x="15.6" y="206.2" font-size="7.9" text-anchor="end">90S</text>
<line x1="26.0" y1="203.4" x2="26.0" y2="208.4" stroke="#7a7a7a" stroke-width="1"/>
<line x1="77.7" y1="203.4" x2="77.7" y2="208.4" stroke="#7a7a7a" stroke-width="1"/>
<line x1="129.4" y1="203.4" x2="129.4" y2="208.4" stroke="#7a7a7a" stroke-width="1"/>
<line x1="181.2" y1="203.4" x2="181.2" y2="208.4" stroke="#7a7a7a" stroke-width="1"/>
<line x1="232.9" y1="203.4" x2="232.9" y2="208.4" stroke="#7a7a7a" stroke-width="1"/>
<line x1="284.6" y1="203.4" x2="284.6" y2="208.4" stroke="#7a7a7a" stroke-width="1"/>
<line x1="336.3" y1="203.4" x2="336.3" y2="208.4" stroke="#7a7a7a" stroke-width="1"/>
<text x="181.2" y="38.5" font-size="11.5" text-anchor="middle">day 3</text>
<g clip-path="url(#cp2)"><path d="M382.1 79.0L380.8 79.5L383.0 78.6L386.4 76.6L387.3 75.8L383.0 75.9L381.3 74.7L380.0 73.4L380.8 72.2L383.8 70.9L379.5 70.9L377.8 69.9L382.1 68.7L379.5 67.2L387.7 65.0L393.3 65.8L401.1 66.4L406.3 66.6L412.3 66.2L419.2 67.0L423.5 67.9L429.6 67.9L438.2 67.9L440.8 64.9L445.1 67.4L449.4 66.6L452.0 69.6L448.5 71.3L446.8 71.3L441.6 73.9L441.6 75.6L441.6 75.8L443.4 77.3L447.7 78.6L452.0 79.0L453.7 82.0L454.6 79.5L456.3 78.2L456.3 74.7L455.4 72.8L459.8 73.0L463.2 75.6L466.7 74.5L469.2 77.3L471.0 79.0L474.4 81.6L473.6 82.0L471.0 83.1L466.7 83.7L467.1 84.6L466.7 85.9L467.5 86.7L471.0 86.7L465.8 88.9L462.3 88.9L462.3 90.3L458.9 91.5L458.0 93.2L457.2 94.5L457.6 95.9L455.4 97.0L452.9 99.2L453.3 102.2L453.7 104.3L452.4 104.3L451.1 101.3L449.4 100.5L446.0 100.2L445.5 101.3L441.6 100.7L438.6 102.6L438.6 105.6L438.6 107.8L439.9 109.9L441.2 110.6L444.2 110.2L444.7 108.2L447.7 107.8L447.2 110.3L446.6 112.5L450.3 112.6L450.9 113.3L450.7 115.9L450.5 116.8L452.4 118.5L454.1 118.1L455.9 118.7L456.1 119.4L455.4 119.8L453.7 119.9L452.4 119.7L448.8 117.6L448.7 116.5L447.2 115.0L444.2 114.3L441.6 112.5L439.5 112.7L435.6 111.4L431.7 109.0L432.0 107.5L430.9 106.3L428.7 104.3L427.0 102.4L425.4 99.2L423.7 98.9L424.4 100.5L425.9 103.0L428.3 106.5L427.6 106.0L425.9 104.8L424.0 102.2L423.1 100.0L421.7 98.3L420.5 97.0L418.7 96.6L417.1 94.0L415.9 92.3L415.5 90.2L415.8 86.7L415.2 84.7L416.6 85.0L416.6 84.2L414.9 83.3L412.7 82.5L411.9 80.7L410.2 79.5L408.0 77.3L405.4 76.0L402.4 75.0L398.5 74.7L395.1 74.3L392.9 75.2L391.6 74.9L389.9 76.9L387.7 77.3L385.6 78.2L383.0 79.0ZM459.8 59.3L464.9 57.1L471.0 55.9L483.9 55.3L496.8 54.6L505.5 55.4L512.4 56.3L507.2 58.0L506.3 60.2L503.7 63.6L503.7 65.7L500.3 67.4L494.3 67.9L489.9 70.0L487.4 72.2L485.6 74.7L483.9 74.6L481.3 73.4L479.2 71.3L477.0 69.2L478.7 67.4L476.1 65.7L474.4 63.6L471.8 61.2L465.8 61.0L459.8 59.3ZM466.7 73.0L469.2 69.2L464.1 66.2L455.4 64.0L449.4 63.2L445.1 64.4L450.3 66.2L455.4 66.6L460.6 68.3L458.9 70.0L455.4 70.9L462.3 72.2ZM420.9 67.0L435.6 67.0L435.6 63.6L427.8 63.6L420.9 63.6L420.1 65.3ZM414.9 64.9L422.7 65.0L422.7 62.3L414.9 62.3L414.0 63.6ZM445.1 61.0L458.0 60.6L462.3 58.4L469.2 55.9L458.0 55.0L445.1 56.3ZM443.4 62.3L453.7 62.3L453.7 60.6L443.4 60.6ZM421.8 62.3L432.1 62.0L432.1 60.6L421.8 60.8ZM439.0 59.3L448.5 59.3L448.5 56.7L439.0 57.1ZM435.6 64.9L439.0 64.9L439.0 62.7L435.6 63.2ZM440.8 64.4L445.1 64.4L445.1 62.7L440.8 62.7ZM433.9 61.9L439.0 61.9L439.0 60.2L433.9 60.2ZM446.8 71.7L450.3 71.7L453.7 70.9L450.3 69.6L447.7 70.4ZM502.0 70.0L503.7 69.2L508.9 69.2L511.1 70.4L509.8 71.0L507.2 71.8L503.3 71.5ZM449.4 107.5L452.0 106.4L456.3 107.3L458.7 108.9L455.9 109.1L453.7 107.5L451.1 107.3ZM458.5 110.3L459.9 109.1L462.4 109.4L463.7 110.2L461.1 111.1L458.5 110.5ZM455.2 110.4L457.0 110.4L456.8 110.9L455.4 110.8ZM464.8 110.3L466.1 110.4L466.0 110.8L464.8 110.8ZM471.6 85.4L474.8 81.9L477.0 84.2L477.3 85.9L476.6 86.2L474.4 85.4ZM456.0 118.9L457.6 117.2L460.6 115.6L461.0 117.2L462.3 115.9L464.1 117.2L467.5 117.1L469.7 117.2L470.5 118.9L473.1 121.1L476.1 121.2L478.3 122.5L479.6 124.7L479.6 126.6L480.9 127.1L484.3 128.3L487.4 128.7L489.5 129.4L492.3 130.7L492.7 132.6L492.3 134.3L490.8 135.6L489.2 137.5L489.1 141.2L488.2 143.4L486.9 145.5L484.3 146.2L481.3 148.1L480.8 150.6L478.7 152.8L477.0 155.1L475.4 156.1L473.1 155.8L472.3 155.4L473.6 157.5L473.0 158.9L469.2 159.7L469.0 161.2L466.7 161.4L467.5 162.7L466.4 164.8L464.5 166.1L465.8 167.4L463.7 169.3L463.2 171.2L463.6 172.9L465.8 173.4L461.5 173.8L458.5 171.2L457.6 167.4L458.9 163.9L459.3 162.2L459.1 158.4L461.0 154.1L461.1 151.1L461.9 147.6L462.2 142.0L461.0 141.0L458.0 139.3L456.8 137.8L454.1 132.6L452.7 131.3L452.6 130.1L453.7 128.3L453.3 126.6L453.7 125.3L455.0 124.1L455.9 122.8L456.0 120.2L455.6 119.8ZM517.9 95.3L518.9 94.7L520.9 94.7L522.1 93.9L522.9 92.9L522.5 92.3L523.5 91.0L525.5 90.3L525.4 89.2L526.9 89.0L528.4 89.2L529.2 88.6L530.3 88.1L531.5 88.5L531.8 89.4L533.3 90.4L534.8 91.2L536.2 91.8L536.3 93.4L536.6 93.6L537.5 92.7L537.3 91.5L538.7 91.8L537.8 91.2L536.5 90.6L534.8 89.7L533.4 88.3L533.3 87.4L534.5 87.1L535.2 87.4L535.9 88.2L537.4 89.1L538.8 89.8L539.5 90.3L539.5 91.6L540.2 92.2L540.9 93.3L541.4 94.6L542.4 95.0L542.7 93.7L543.4 93.4L542.4 92.6L542.6 91.6L543.4 91.2L545.2 91.2L545.7 91.8L545.3 92.4L546.0 93.3L546.2 94.5L547.1 94.7L548.3 95.1L549.1 94.7L550.3 94.9L551.6 95.1L552.7 94.6L554.0 94.8L553.7 95.7L553.6 96.5L552.9 97.9L552.3 99.4L550.6 99.4L550.8 100.6L551.7 102.0L552.2 102.4L552.8 100.9L553.1 102.1L554.3 104.1L555.1 105.4L556.5 107.5L557.2 109.0L558.3 110.2L559.5 112.0L559.6 113.5L560.1 115.0L560.2 115.4L561.5 115.2L564.1 114.2L565.9 113.3L567.8 112.6L570.5 111.1L571.7 110.3L572.6 109.9L573.2 108.7L574.3 106.9L573.3 106.0L571.9 105.6L571.3 104.5L571.4 103.6L570.6 104.3L569.3 105.5L567.6 105.6L567.2 105.2L567.2 104.0L566.7 103.9L566.1 104.3L566.0 103.7L565.4 103.0L564.6 101.8L564.0 100.6L564.8 100.5L565.9 100.4L567.1 102.3L568.9 103.2L570.0 103.5L571.3 102.9L572.2 104.2L574.1 104.4L575.9 104.6L578.4 104.6L580.3 104.4L580.8 105.0L581.8 106.0L582.2 107.0L583.5 108.4L585.0 107.3L585.4 108.0L585.5 109.7L586.0 112.5L587.0 114.3L587.6 115.9L588.5 117.8L589.6 119.3L590.2 118.6L591.1 117.4L591.6 116.3L592.0 114.7L591.8 113.2L592.9 112.1L593.7 112.0L595.4 110.3L596.5 109.3L597.7 108.4L597.8 107.8L598.8 107.6L599.5 107.4L600.8 106.9L601.9 107.0L602.3 108.2L603.0 109.0L604.1 110.1L604.2 112.5L605.0 112.6L606.4 111.7L607.0 112.0L607.5 114.6L607.8 116.8L607.5 119.2L609.2 121.7L609.5 122.8L610.1 123.8L612.0 125.1L612.6 125.0L611.9 122.3L610.9 120.9L609.2 119.8L609.2 118.9L608.4 117.4L608.9 115.5L609.0 114.6L609.8 115.3L611.1 115.7L611.6 116.8L612.9 117.2L613.3 118.8L614.9 117.3L616.9 116.2L617.0 114.6L616.6 113.1L615.2 112.0L613.9 110.1L614.7 108.5L615.9 107.7L617.5 107.8L617.8 108.8L618.5 107.8L620.6 107.2L623.2 106.5L624.9 105.1L625.9 103.9L626.9 102.2L628.0 100.6L627.1 99.8L627.8 99.2L626.9 98.1L625.6 96.5L626.5 95.3L628.4 94.3L626.9 93.8L625.4 94.3L624.5 93.2L624.3 92.7L625.4 92.3L627.1 91.2L628.0 91.5L627.4 92.9L628.4 92.3L630.0 92.0L630.8 93.9L631.8 94.0L631.7 96.5L632.7 96.5L634.3 95.9L634.4 94.5L633.5 93.1L632.7 92.1L634.6 91.0L635.5 89.9L636.9 89.1L639.4 88.6L641.5 87.0L643.9 84.6L644.7 81.4L644.4 80.3L642.0 80.0L640.9 79.7L639.4 79.2L641.3 77.7L644.1 76.3L646.3 75.3L649.5 75.3L653.0 75.6L655.7 75.3L657.9 73.4L661.0 73.1L660.7 74.3L659.0 76.4L657.9 77.0L657.2 79.0L657.9 82.5L659.5 80.8L660.8 79.7L662.5 78.0L662.9 77.7L663.3 76.4L664.6 74.9L666.1 74.4L669.6 74.7L671.5 73.9L673.3 73.2L675.8 72.6L677.3 72.8L677.6 70.9L679.7 70.4L681.9 71.0L684.5 70.9L686.9 69.6L684.9 68.7L681.5 67.4L678.0 67.0L674.5 66.3L669.4 66.1L665.9 66.5L661.6 66.5L659.0 65.3L653.8 65.4L648.7 64.2L643.5 64.0L641.8 64.9L636.6 64.9L634.0 64.4L632.3 63.2L628.8 63.3L624.5 63.2L620.2 62.9L619.3 61.0L617.6 60.4L612.4 59.6L608.1 60.6L603.8 61.0L599.5 61.4L597.8 62.7L592.2 63.1L592.4 64.3L590.0 64.1L587.4 63.8L585.3 63.8L582.7 63.6L581.8 64.9L580.3 65.5L580.5 66.6L578.4 66.8L574.9 66.2L573.2 67.1L569.7 67.7L568.9 67.1L564.6 68.0L560.9 67.4L560.5 69.4L557.5 70.8L554.6 71.2L552.7 70.8L552.5 69.6L551.2 69.0L552.9 68.8L555.9 69.5L558.3 68.9L557.7 68.0L553.8 66.9L551.2 66.7L548.6 66.2L546.9 65.3L545.0 65.2L542.6 65.7L539.1 66.2L536.5 67.4L535.2 68.3L533.5 69.8L531.8 70.9L530.1 71.8L527.5 72.8L527.0 73.9L527.0 75.2L527.6 75.7L528.8 76.4L530.1 76.2L531.4 75.6L531.9 74.8L532.4 75.5L532.9 76.2L533.6 77.7L533.9 78.6L535.1 78.5L536.5 78.0L537.0 76.9L537.2 76.0L538.9 75.1L537.8 74.1L537.6 72.7L539.1 71.7L541.3 70.4L542.0 69.8L544.6 70.2L544.3 70.6L541.3 72.2L541.1 73.7L541.7 74.5L542.6 74.8L545.2 74.4L548.6 74.7L546.9 75.2L543.4 75.2L543.0 75.8L543.8 76.3L543.4 77.3L541.3 76.9L540.8 78.2L541.0 78.9L539.7 79.5L538.7 79.3L537.0 79.5L535.0 80.0L533.5 79.5L532.2 79.9L531.5 79.5L532.1 77.8L531.8 76.7L530.1 77.2L529.7 78.2L530.1 79.0L530.4 79.9L528.8 80.5L526.9 80.7L526.2 81.8L524.9 82.4L524.1 83.1L522.9 83.7L521.6 83.7L521.1 83.6L521.4 84.4L520.1 84.3L518.7 84.7L519.0 85.2L520.6 85.6L521.7 86.6L521.7 87.9L521.4 89.0L519.4 89.0L515.8 88.7L514.7 89.4L515.1 90.2L515.0 91.9L514.5 93.0L515.1 94.5L516.3 94.3L517.2 94.6ZM207.3 95.3L208.4 94.7L210.4 94.7L211.6 93.9L212.3 92.9L211.9 92.3L213.0 91.0L214.9 90.3L214.8 89.2L216.3 89.0L217.9 89.2L218.6 88.6L219.8 88.1L221.0 88.5L221.2 89.4L222.8 90.4L224.3 91.2L225.6 91.8L225.7 93.4L226.1 93.6L226.9 92.7L226.8 91.5L228.1 91.8L227.3 91.2L226.0 90.6L224.3 89.7L222.9 88.3L222.8 87.4L224.0 87.1L224.7 87.4L225.4 88.2L226.8 89.1L228.2 89.8L228.9 90.3L228.9 91.6L229.6 92.2L230.4 93.3L230.9 94.6L231.8 95.0L232.2 93.7L232.9 93.4L231.8 92.6L232.0 91.6L232.9 91.2L234.6 91.2L235.1 91.8L234.8 92.4L235.5 93.3L235.6 94.5L236.6 94.7L237.8 95.1L238.6 94.7L239.8 94.9L241.1 95.1L242.1 94.6L243.4 94.8L243.1 95.7L243.1 96.5L242.4 97.9L241.8 99.4L240.0 99.4L240.2 100.6L241.2 102.0L241.7 102.4L242.3 100.9L242.5 102.1L243.7 104.1L244.5 105.4L245.9 107.5L246.7 109.0L247.7 110.2L248.9 112.0L249.1 113.5L249.5 115.0L249.7 115.4L251.0 115.2L253.6 114.2L255.3 113.3L257.2 112.6L260.0 111.1L261.2 110.3L262.0 109.9L262.6 108.7L263.8 106.9L262.7 106.0L261.3 105.6L260.7 104.5L260.8 103.6L260.1 104.3L258.8 105.5L257.0 105.6L256.7 105.2L256.7 104.0L256.2 103.9L255.6 104.3L255.5 103.7L254.9 103.0L254.0 101.8L253.5 100.6L254.3 100.5L255.4 100.4L256.5 102.3L258.3 103.2L259.4 103.5L260.7 102.9L261.7 104.2L263.5 104.4L265.3 104.6L267.8 104.6L269.7 104.4L270.2 105.0L271.3 106.0L271.7 107.0L273.0 108.4L274.5 107.3L274.8 108.0L275.0 109.7L275.5 112.5L276.4 114.3L277.0 115.9L278.0 117.8L279.0 119.3L279.6 118.6L280.6 117.4L281.0 116.3L281.4 114.7L281.3 113.2L282.3 112.1L283.2 112.0L284.9 110.3L285.9 109.3L287.1 108.4L287.2 107.8L288.3 107.6L288.9 107.4L290.2 106.9L291.4 107.0L291.8 108.2L292.4 109.0L293.5 110.1L293.6 112.5L294.5 112.6L295.9 111.7L296.5 112.0L297.0 114.6L297.2 116.8L297.0 119.2L298.7 121.7L299.0 122.8L299.6 123.8L301.5 125.1L302.1 125.0L301.4 122.3L300.3 120.9L298.7 119.8L298.7 118.9L297.8 117.4L298.4 115.5L298.4 114.6L299.2 115.3L300.6 115.7L301.0 116.8L302.3 117.2L302.8 118.8L304.3 117.3L306.4 116.2L306.5 114.6L306.0 113.1L304.6 112.0L303.4 110.1L304.1 108.5L305.3 107.7L307.0 107.8L307.2 108.8L307.9 107.8L310.1 107.2L312.7 106.5L314.4 105.1L315.3 103.9L316.4 102.2L317.4 100.6L316.6 99.8L317.2 99.2L316.4 98.1L315.1 96.5L316.0 95.3L317.8 94.3L316.4 93.8L314.8 94.3L314.0 93.2L313.7 92.7L314.8 92.3L316.6 91.2L317.4 91.5L316.8 92.9L317.8 92.3L319.4 92.0L320.3 93.9L321.3 94.0L321.1 96.5L322.2 96.5L323.7 95.9L323.8 94.5L322.9 93.1L322.2 92.1L324.1 91.0L324.9 89.9L326.3 89.1L328.9 88.6L331.0 87.0L333.4 84.6L334.2 81.4L333.8 80.3L331.5 80.0L330.4 79.7L328.8 79.2L330.8 77.7L333.5 76.3L335.8 75.3L339.0 75.3L342.4 75.6L345.2 75.3L347.4 73.4L350.5 73.1L350.2 74.3L348.5 76.4L347.4 77.0L346.7 79.0L347.4 82.5L348.9 80.8L350.3 79.7L351.9 78.0L352.4 77.7L352.8 76.4L354.1 74.9L355.5 74.4L359.1 74.7L361.0 73.9L362.7 73.2L365.3 72.6L366.8 72.8L367.0 70.9L369.2 70.4L371.3 71.0L373.9 70.9L376.3 69.6L374.4 68.7L370.9 67.4L367.4 67.0L364.0 66.3L358.8 66.1L355.4 66.5L351.1 66.5L348.5 65.3L343.3 65.4L338.1 64.2L332.9 64.0L331.2 64.9L326.0 64.9L323.5 64.4L321.7 63.2L318.3 63.3L314.0 63.2L309.7 62.9L308.8 61.0L307.1 60.4L301.9 59.6L297.6 60.6L293.3 61.0L288.9 61.4L287.2 62.7L281.6 63.1L281.9 64.3L279.5 64.1L276.9 63.8L274.7 63.8L272.1 63.6L271.3 64.9L269.8 65.5L270.0 66.6L267.8 66.8L264.4 66.2L262.6 67.1L259.2 67.7L258.3 67.1L254.0 68.0L250.3 67.4L250.0 69.4L246.9 70.8L244.1 71.2L242.2 70.8L241.9 69.6L240.6 69.0L242.4 68.8L245.4 69.5L247.7 68.9L247.1 68.0L243.2 66.9L240.6 66.7L238.1 66.2L236.3 65.3L234.4 65.2L232.0 65.7L228.6 66.2L226.0 67.4L224.7 68.3L223.0 69.8L221.2 70.9L219.5 71.8L216.9 72.8L216.5 73.9L216.5 75.2L217.1 75.7L218.2 76.4L219.5 76.2L220.8 75.6L221.3 74.8L221.8 75.5L222.4 76.2L223.0 77.7L223.3 78.6L224.5 78.5L226.0 78.0L226.5 76.9L226.7 76.0L228.3 75.1L227.3 74.1L227.1 72.7L228.6 71.7L230.7 70.4L231.4 69.8L234.1 70.2L233.7 70.6L230.7 72.2L230.5 73.7L231.2 74.5L232.0 74.8L234.6 74.4L238.1 74.7L236.3 75.2L232.9 75.2L232.4 75.8L233.2 76.3L232.9 77.3L230.7 76.9L230.3 78.2L230.5 78.9L229.2 79.5L228.1 79.3L226.4 79.5L224.4 80.0L223.0 79.5L221.7 79.9L221.0 79.5L221.6 77.8L221.2 76.7L219.6 77.2L219.2 78.2L219.6 79.0L219.9 79.9L218.2 80.5L216.3 80.7L215.6 81.8L214.3 82.4L213.6 83.1L212.3 83.7L211.1 83.7L210.5 83.6L210.9 84.4L209.6 84.3L208.1 84.7L208.5 85.2L210.0 85.6L211.1 86.6L211.1 87.9L210.9 89.0L208.9 89.0L205.3 88.7L204.2 89.4L204.6 90.2L204.4 91.9L204.0 93.0L204.6 94.5L205.7 94.3L206.7 94.6ZM550.6 99.4L548.6 99.4L546.9 99.7L544.3 99.1L542.6 98.3L541.7 98.0L540.0 98.8L539.1 100.2L537.4 99.6L536.1 98.5L533.9 98.0L532.6 97.7L531.4 97.0L532.3 96.0L531.8 94.7L532.2 94.4L531.2 94.2L529.6 94.5L527.0 94.6L525.3 94.6L523.6 94.9L521.9 95.7L520.8 96.1L518.2 95.4L517.5 95.5L516.9 97.0L515.4 97.6L514.3 99.3L514.4 100.5L512.8 102.0L511.5 102.6L510.2 103.7L508.9 105.6L508.1 107.8L508.7 109.5L508.5 111.6L507.6 113.6L508.2 114.6L508.3 115.6L509.4 116.3L510.2 117.2L511.3 118.1L511.9 119.5L513.2 120.4L514.5 121.5L516.3 122.4L518.4 121.8L521.0 122.1L522.7 121.4L524.5 120.8L526.6 120.8L527.9 122.5L529.2 122.3L530.3 122.6L530.9 123.6L531.2 125.3L530.7 127.1L532.2 129.2L533.1 130.5L533.9 133.1L534.4 135.2L533.5 137.8L532.9 140.4L533.5 142.1L535.1 145.5L535.7 148.9L537.0 150.7L538.3 153.2L538.5 155.4L540.0 156.1L542.1 155.4L544.7 155.4L546.0 154.9L548.6 152.8L550.8 150.6L551.1 148.5L553.3 146.8L553.2 145.1L552.7 143.4L554.2 142.3L556.8 140.4L557.7 138.6L557.7 135.6L556.8 132.6L556.4 130.5L557.5 128.6L558.5 127.5L560.2 125.5L562.4 123.6L564.1 121.9L565.4 119.3L566.9 116.3L565.0 116.5L562.4 117.0L560.7 117.3L560.0 116.3L559.6 115.5L558.5 114.4L557.2 112.9L556.4 111.6L555.5 110.3L554.8 108.2L554.5 107.3L553.3 106.0L552.9 104.3L551.9 102.6L550.8 100.6ZM565.3 136.5L566.3 139.5L565.4 141.6L564.6 144.2L563.3 147.6L561.5 148.1L560.4 146.4L560.1 144.6L561.0 143.2L560.7 140.8L562.4 139.8L564.1 137.8ZM591.7 117.8L592.6 118.9L593.4 120.2L592.6 121.1L591.8 121.1L591.6 119.8ZM517.8 83.3L520.1 82.8L523.9 82.3L524.2 81.0L522.9 80.3L522.5 79.9L521.4 79.0L521.0 78.2L521.2 76.8L520.0 75.9L518.4 75.9L517.4 76.9L517.9 78.2L518.6 79.2L520.0 79.9L520.1 80.6L518.8 80.9L519.1 81.6L518.2 81.9L519.7 82.1L518.8 82.8ZM517.5 81.4L517.4 80.1L517.9 79.4L517.5 78.9L516.3 78.8L515.4 79.4L514.1 79.9L514.5 80.7L513.8 81.6L514.5 82.0L515.8 81.8L517.3 81.4ZM635.6 97.0L637.0 95.7L639.6 95.6L640.7 94.2L643.1 93.4L643.5 91.9L644.6 90.7L645.2 92.3L644.4 94.0L644.2 95.7L643.2 96.2L642.5 96.5L640.9 96.5L639.9 97.5L639.2 96.5L637.5 96.8L635.7 97.1ZM634.6 97.5L635.7 97.1L636.4 98.3L635.7 99.4L635.0 99.4L634.7 98.2ZM637.0 97.9L637.9 97.6L638.9 97.2L638.7 96.9L637.5 96.9L636.9 97.4ZM643.5 90.6L644.8 89.7L646.3 90.2L648.5 89.1L646.9 88.5L645.0 87.3L644.6 88.9L643.8 89.1L643.5 90.2ZM645.2 86.7L646.5 86.3L646.3 84.2L646.9 84.0L645.9 79.6L645.4 80.3L645.2 82.5L645.1 85.0ZM626.3 106.5L626.9 107.4L627.9 104.9L627.4 104.5L626.4 105.6ZM616.4 109.7L617.2 110.6L618.5 109.4L618.0 109.0L616.8 109.1ZM626.2 112.5L626.7 110.3L628.1 110.3L628.0 112.0L628.4 114.2L629.7 115.0L628.8 114.6L627.1 114.4L626.8 113.8ZM628.0 120.2L628.8 118.9L631.0 118.1L631.8 119.8L631.0 121.3L629.7 120.6ZM628.0 117.2L629.3 116.3L631.0 116.3L630.6 117.6L628.8 118.1ZM604.9 121.4L606.8 121.7L609.2 124.1L612.0 126.6L612.9 127.7L614.2 128.8L614.0 131.2L612.9 131.3L611.1 129.6L609.9 128.3L608.6 126.6L607.7 124.7L606.0 123.2ZM613.5 132.0L614.6 131.3L616.3 131.8L618.0 132.1L619.8 132.1L621.4 132.8L621.5 133.7L618.5 133.2L616.3 132.9L614.6 132.5ZM616.8 124.9L617.4 124.5L618.9 124.1L620.2 123.5L622.4 121.7L623.7 120.2L625.6 121.7L624.5 122.3L624.3 125.3L625.3 125.3L624.1 126.2L623.4 127.9L622.8 129.4L621.5 129.6L619.1 128.8L617.7 127.7L616.8 126.6L616.8 125.3ZM625.8 130.9L626.7 130.9L626.5 128.6L627.4 130.2L628.7 130.1L627.5 127.9L629.0 127.1L627.1 127.1L626.7 125.8L628.8 125.4L630.6 124.9L626.9 125.1L626.1 126.2L625.4 129.2ZM635.7 127.1L637.0 126.5L639.2 129.0L641.3 127.5L644.4 128.4L647.8 130.1L648.7 130.9L650.0 131.8L650.4 133.1L652.6 135.2L650.0 134.8L648.7 133.1L646.9 132.9L645.7 134.2L644.4 134.0L642.6 133.2L641.8 133.4L641.6 130.9L639.6 130.0L637.9 129.5L636.6 128.6L636.2 127.5ZM629.3 135.0L630.6 133.9L632.5 133.4L631.4 134.2L630.0 134.9ZM625.2 133.7L626.2 133.3L628.7 133.3L628.7 133.7L626.2 133.8ZM620.6 145.1L621.1 148.5L621.8 151.1L622.5 153.2L621.9 155.0L623.2 156.2L624.5 156.2L629.3 155.3L631.4 153.9L634.0 153.4L635.7 153.2L638.3 154.3L639.7 156.1L640.5 155.4L641.6 156.8L643.1 157.1L643.9 158.8L646.5 159.5L648.9 159.7L650.4 158.6L652.0 158.4L652.3 156.9L653.2 155.2L654.3 153.6L655.2 150.8L654.9 147.6L652.8 145.5L651.3 143.8L648.9 142.5L648.2 139.9L648.1 139.0L646.5 138.2L645.7 135.4L644.9 137.4L644.8 140.4L643.9 141.4L642.6 140.8L640.9 139.8L639.6 139.1L640.6 136.9L640.0 136.5L637.2 135.9L635.7 136.7L634.4 139.0L632.7 138.2L631.0 138.6L629.3 140.4L628.1 141.6L627.1 142.9L624.9 143.6L623.4 143.9L621.6 144.9ZM647.5 161.1L650.7 161.3L650.4 163.3L648.7 163.6L648.0 162.4ZM671.7 155.7L673.3 157.5L674.5 158.4L676.7 158.5L675.4 159.9L674.5 161.4L673.7 161.8L673.3 160.3L672.7 159.8L673.3 157.9ZM671.7 160.9L673.1 162.0L672.4 163.1L670.5 164.4L668.9 166.2L666.4 165.7L667.6 163.9L670.2 162.2ZM367.4 67.0L371.8 68.3L376.1 69.5L374.4 71.0L370.9 70.1L367.4 70.4ZM367.4 198.8L374.4 198.8L380.4 198.3L383.8 195.3L386.4 193.6L389.9 194.4L393.3 196.5L395.9 192.2L396.8 191.2L403.7 190.1L415.8 189.2L427.8 189.1L439.0 188.8L453.7 188.8L462.3 189.0L462.8 186.7L464.5 185.2L467.5 183.0L471.0 181.1L473.6 180.2L472.7 181.3L469.7 183.2L468.8 185.4L469.7 188.0L469.7 192.7L474.4 194.0L479.6 194.5L489.9 194.2L498.1 191.9L504.2 190.2L509.8 188.8L514.5 187.6L522.7 187.1L531.4 187.1L533.1 186.0L546.9 186.0L548.6 185.0L552.9 183.7L561.5 183.7L570.2 183.7L578.8 185.8L583.1 185.8L590.0 185.4L591.7 183.7L608.1 183.2L644.4 183.2L652.1 185.0L660.7 186.2L669.7 188.0L665.9 189.7L663.3 192.2L664.2 195.7L669.4 198.0L678.0 198.0L678.9 203.4L366.6 203.4ZM56.9 198.8L63.8 198.8L69.8 198.3L73.3 195.3L75.9 193.6L79.3 194.4L82.8 196.5L85.4 192.2L86.2 191.2L93.1 190.1L105.2 189.2L117.3 189.1L128.5 188.8L143.2 188.8L151.8 189.0L152.2 186.7L153.9 185.2L157.0 183.0L160.4 181.1L163.0 180.2L162.1 181.3L159.1 183.2L158.3 185.4L159.1 188.0L159.1 192.7L163.9 194.0L169.0 194.5L179.4 194.2L187.6 191.9L193.6 190.2L199.2 188.8L204.0 187.6L212.2 187.1L220.8 187.1L222.5 186.0L236.3 186.0L238.1 185.0L242.4 183.7L251.0 183.7L259.6 183.7L268.2 185.8L272.6 185.8L279.5 185.4L281.2 183.7L297.6 183.2L333.8 183.2L341.6 185.0L350.2 186.2L359.2 188.0L355.4 189.7L352.8 192.2L353.6 195.7L358.8 198.0L367.4 198.0L368.3 203.4L56.0 203.4ZM469.8 170.1L472.5 170.2L473.0 170.5L472.0 171.1L470.5 171.0Z" fill="#d3d3d3"/><path d="M441.6 75.6L442.9 77.3L447.7 78.6L451.7 78.9L453.7 82.0L454.6 79.5L456.3 78.2L456.3 74.7L455.4 72.8L453.7 71.7L450.3 72.2L446.8 71.3L444.2 72.2L441.6 73.9ZM546.9 90.5L547.4 89.0L548.3 87.3L549.3 86.3L550.8 86.7L551.6 88.0L553.3 87.5L554.3 87.3L555.5 88.0L556.8 88.9L558.6 90.5L556.8 91.0L554.2 90.8L552.5 90.2L550.3 90.4L547.9 90.9ZM553.1 87.3L554.5 87.3L555.8 86.5L556.5 85.7L555.1 85.8L553.1 86.6ZM565.0 86.3L567.2 85.9L568.4 86.1L568.6 87.3L567.0 87.9L568.2 90.2L569.3 91.0L568.4 92.3L569.2 94.2L566.7 94.7L565.0 94.0L565.3 91.9L564.6 90.3L563.5 88.9L563.7 87.2ZM443.3 86.1L445.1 86.2L447.7 86.3L449.8 86.3L449.7 85.5L448.5 84.3L446.4 84.3L445.1 84.9L443.4 85.9ZM447.0 90.4L447.9 90.3L448.4 88.9L449.0 87.2L449.6 86.8L448.1 86.7L447.2 87.8L446.9 89.3ZM449.7 86.8L450.7 86.7L452.4 86.7L453.5 87.2L452.3 87.8L452.2 89.1L451.6 89.3L450.7 88.5L450.9 87.6L449.8 87.2ZM450.7 90.4L452.4 90.6L454.6 89.5L453.3 89.6L451.6 90.0ZM453.9 89.1L456.3 89.1L457.0 88.4L455.4 88.5L454.1 88.7ZM437.3 82.9L439.5 82.9L439.2 81.6L438.4 79.9L437.5 80.3L437.3 82.0ZM421.8 73.9L425.2 73.7L428.7 72.8L427.0 72.3L423.5 72.8ZM414.9 70.4L418.3 70.3L420.9 69.2L418.3 68.7L415.8 69.2Z" fill="#fff"/>
<path d="M360.0 118.0C361.2 118.0 364.1 118.0 367.0 117.7C369.9 117.4 374.3 116.8 377.3 116.0C380.3 115.2 383.3 114.0 385.0 112.6C386.7 111.2 387.6 109.3 387.6 107.4C387.6 105.5 386.4 103.5 385.0 101.4C383.6 99.3 380.7 96.4 379.0 94.6C377.3 92.8 375.0 91.4 374.7 90.3C374.4 89.2 374.9 88.4 377.3 87.7C379.7 87.0 385.3 86.4 389.3 86.0C393.3 85.6 398.2 86.1 401.3 85.1C404.4 84.1 406.2 81.8 408.2 79.9C410.2 78.0 411.0 75.9 413.3 73.9C415.6 71.9 419.0 69.3 421.9 67.9C424.8 66.5 427.9 66.3 430.5 65.3C433.1 64.3 435.0 63.2 437.3 61.9C439.6 60.6 441.1 58.6 444.2 57.6C447.3 56.6 452.4 56.3 456.2 55.9C460.0 55.5 463.5 55.3 467.0 55.0C470.5 54.7 471.2 54.4 477.2 54.1C483.2 53.8 494.3 53.3 502.9 53.3C511.5 53.2 521.5 53.5 528.6 53.8C535.8 54.1 542.4 54.4 545.8 55.0C549.2 55.6 548.5 56.3 549.2 57.6C549.9 58.9 549.4 61.0 550.0 62.7C550.6 64.4 552.0 65.9 552.6 67.9C553.2 69.9 553.3 72.0 553.5 74.7C553.7 77.4 554.0 82.0 553.8 84.0C553.6 86.0 553.5 86.2 552.3 86.9C551.1 87.6 549.0 88.5 546.4 88.4C543.8 88.3 540.2 87.0 536.6 86.5C533.0 86.0 527.4 85.4 524.8 85.5C522.2 85.6 521.6 85.9 520.9 86.9C520.2 88.0 520.3 89.8 520.4 91.8C520.5 93.8 520.5 96.6 521.4 98.7C522.3 100.8 524.1 103.0 525.8 104.6C527.5 106.2 530.1 107.2 531.7 108.5C533.3 109.8 534.8 110.9 535.6 112.4C536.4 113.9 536.0 116.1 536.6 117.3C537.2 118.5 537.9 119.3 539.5 119.8C541.1 120.3 543.6 120.1 546.4 120.3C549.2 120.5 552.9 120.5 556.2 120.8C559.5 121.0 563.2 121.0 566.0 121.8C568.8 122.6 570.6 125.1 572.9 125.6C575.2 126.1 577.4 125.8 579.7 125.0C582.0 124.2 584.6 122.5 586.6 120.8C588.6 119.1 590.5 116.8 591.8 114.7C593.1 112.6 593.6 109.9 594.3 107.9C595.0 105.9 595.0 104.0 596.0 102.7C597.0 101.4 598.7 100.7 600.0 100.2C601.3 99.7 602.3 99.3 603.9 99.6C605.5 99.9 607.3 100.5 609.8 101.8C612.2 103.1 615.7 106.0 618.6 107.6C621.5 109.2 624.0 110.2 627.4 111.3C630.8 112.4 635.3 113.4 639.2 114.3C643.1 115.2 646.7 116.0 650.9 116.5C655.1 117.0 659.7 117.4 664.2 117.6C668.7 117.8 674.5 117.8 678.0 117.9C681.5 118.0 683.8 118.0 685.0 118.0" fill="none" stroke="#e8454a" stroke-width="1.0"/>
<path d="M462.6 76.4C463.5 75.0 465.3 72.6 468.0 71.5C470.7 70.4 474.5 69.3 478.9 69.6C483.3 69.8 489.2 71.2 494.3 73.0C499.4 74.8 508.0 78.5 509.7 80.7C511.4 82.9 508.6 84.6 504.6 85.9C500.6 87.2 491.7 88.5 485.7 88.5C479.7 88.5 472.5 87.3 468.6 85.9C464.8 84.5 463.6 81.5 462.6 79.9C461.6 78.3 461.7 77.8 462.6 76.4Z" fill="none" stroke="#e8454a" stroke-width="1.0"/>
<path d="M619.3 98.1C620.5 96.5 624.1 92.7 627.4 91.5C630.7 90.3 635.5 90.7 639.2 91.2C642.9 91.7 646.1 93.0 649.5 94.4C652.9 95.8 659.5 98.2 659.5 99.6C659.5 100.9 653.6 101.7 649.5 102.5C645.4 103.3 639.0 104.5 634.8 104.7C630.6 104.9 627.0 104.1 624.5 103.5C622.0 102.9 621.0 101.9 620.1 101.0C619.2 100.1 618.1 99.7 619.3 98.1Z" fill="none" stroke="#e8454a" stroke-width="1.0"/>
<path d="M525.8 100.7C525.6 99.5 526.5 98.4 527.8 97.7C529.1 97.0 530.6 96.6 533.7 96.3C536.8 96.0 542.3 96.0 546.4 95.8C550.5 95.5 554.8 95.1 558.2 94.8C561.6 94.5 564.7 94.2 567.0 93.8C569.3 93.3 569.8 92.6 571.8 92.1C573.8 91.6 577.8 91.6 579.1 90.6C580.5 89.6 580.4 87.7 579.9 86.2C579.4 84.7 576.7 83.3 576.2 81.8C575.7 80.3 575.9 78.6 576.9 77.4C577.9 76.2 579.5 75.0 582.1 74.4C584.7 73.9 589.2 73.6 592.4 74.1C595.6 74.6 599.5 76.0 601.2 77.4C602.9 78.8 603.1 80.9 602.6 82.5C602.1 84.1 600.4 85.6 598.2 86.9C596.0 88.2 591.4 89.5 589.4 90.6C587.4 91.7 586.6 92.0 586.5 93.5C586.4 95.0 587.9 97.1 588.5 99.5C589.1 101.9 589.9 105.4 590.0 107.9C590.1 110.4 589.9 112.7 589.2 114.7C588.5 116.7 587.4 118.5 585.8 119.9C584.2 121.3 581.9 122.6 579.7 123.3C577.6 124.0 575.0 124.3 572.9 124.2C570.8 124.1 568.5 123.2 566.9 122.5C565.3 121.8 565.2 120.7 563.4 120.0C561.6 119.3 558.6 119.0 556.0 118.6C553.4 118.2 550.3 117.9 548.0 117.6C545.7 117.2 543.4 117.3 542.0 116.5C540.6 115.7 540.7 114.2 539.5 113.0C538.3 111.8 536.8 110.3 535.0 109.0C533.2 107.7 530.5 106.4 529.0 105.0C527.5 103.6 526.0 101.9 525.8 100.7Z" fill="none" stroke="#e8454a" stroke-width="1.0"/>
<path d="M532.7 102.1C533.1 101.4 534.3 101.1 536.6 100.7C538.9 100.3 542.8 100.1 546.4 99.7C550.0 99.3 554.1 98.7 558.2 98.3C562.3 97.9 567.3 97.3 571.2 97.6C575.1 97.9 578.9 98.8 581.5 100.2C584.1 101.6 585.9 104.2 586.6 106.2C587.3 108.2 586.6 110.5 585.8 112.2C584.9 113.9 583.6 115.4 581.5 116.5C579.4 117.6 575.8 118.3 572.9 118.6C570.0 118.8 567.1 118.3 564.3 118.0C561.5 117.7 558.5 117.2 556.0 116.5C553.5 115.8 551.2 114.7 549.4 113.9C547.6 113.1 547.0 112.6 545.4 111.5C543.8 110.4 541.4 108.7 539.5 107.5C537.6 106.3 535.1 105.5 534.0 104.6C532.9 103.7 532.3 102.8 532.7 102.1Z" fill="none" stroke="#e8454a" stroke-width="1.0"/>
<path d="M553.3 105.6C553.4 104.2 555.9 103.3 558.2 102.6C560.5 101.9 564.8 101.6 567.0 101.2C569.2 100.8 568.9 100.1 571.2 100.4C573.5 100.7 578.5 101.8 580.6 103.2C582.7 104.6 583.9 106.9 584.0 108.7C584.1 110.5 583.4 112.7 581.5 113.9C579.6 115.1 575.8 115.8 572.9 116.0C570.0 116.2 566.6 115.6 564.0 114.8C561.4 114.0 559.3 112.5 557.5 111.0C555.7 109.5 553.2 107.0 553.3 105.6Z" fill="none" stroke="#e8454a" stroke-width="1.0"/>
<path d="M562.6 107.9C562.6 106.7 563.7 105.7 565.0 105.0C566.3 104.3 568.3 103.9 570.3 104.0C572.3 104.1 575.2 104.6 577.0 105.5C578.8 106.4 580.8 108.1 581.0 109.2C581.2 110.3 579.6 111.6 578.0 112.3C576.4 113.0 573.4 113.5 571.2 113.5C569.0 113.5 566.4 112.9 565.0 112.0C563.6 111.1 562.6 109.1 562.6 107.9Z" fill="none" stroke="#e8454a" stroke-width="1.0"/>
<path d="M436.6 139.9C437.7 138.1 440.9 135.7 444.7 134.0C448.5 132.3 454.5 130.8 459.4 129.6C464.3 128.4 469.2 127.4 474.1 126.7C479.0 126.0 484.6 125.6 488.8 125.2C493.0 124.8 495.9 124.2 499.1 124.5C502.3 124.8 505.4 125.5 507.9 126.7C510.3 127.9 513.0 130.0 513.8 131.8C514.5 133.6 514.1 135.5 512.4 137.7C510.7 139.9 507.4 142.9 503.5 145.1C499.6 147.3 493.7 149.6 488.8 150.9C483.9 152.2 479.0 152.6 474.1 153.1C469.2 153.6 464.3 154.5 459.4 153.9C454.5 153.3 448.2 151.0 444.7 149.5C441.1 148.0 439.5 146.7 438.1 145.1C436.8 143.5 435.5 141.8 436.6 139.9Z" fill="none" stroke="#e8454a" stroke-width="1.0"/>
<path d="M449.1 140.9C448.8 138.4 456.9 134.5 463.4 131.8C469.9 129.1 480.7 125.6 488.0 124.9C495.4 124.2 503.2 126.0 507.5 127.9C511.8 129.7 514.2 133.2 514.0 136.0C513.8 138.8 510.5 142.3 506.2 144.6C501.9 146.8 494.9 149.2 488.0 149.5C481.2 149.8 471.8 148.0 465.3 146.5C458.8 145.1 449.4 143.3 449.1 140.9Z" fill="none" stroke="#e8454a" stroke-width="1.0"/>
<path d="M460.9 140.0C460.6 137.9 467.1 134.0 472.2 131.6C477.3 129.2 485.9 126.1 491.7 125.5C497.6 124.9 503.7 126.5 507.2 128.1C510.6 129.7 512.5 132.8 512.3 135.3C512.1 137.7 509.6 140.9 506.1 142.9C502.7 144.8 497.1 146.9 491.7 147.2C486.3 147.5 478.9 145.8 473.8 144.6C468.6 143.4 461.2 142.2 460.9 140.0Z" fill="none" stroke="#e8454a" stroke-width="1.0"/>
<path d="M469.7 139.4C469.5 137.5 474.6 133.9 478.7 131.7C482.8 129.6 489.6 126.9 494.2 126.4C498.8 125.9 503.7 127.3 506.4 128.7C509.1 130.1 510.6 132.8 510.5 135.0C510.4 137.2 508.3 139.9 505.6 141.7C502.9 143.4 498.5 145.2 494.2 145.5C489.9 145.8 484.0 144.2 479.9 143.2C475.8 142.2 469.9 141.3 469.7 139.4Z" fill="none" stroke="#e8454a" stroke-width="1.0"/>
<path d="M477.1 138.8C476.9 137.1 480.9 134.1 484.1 132.2C487.2 130.3 492.5 128.0 496.1 127.6C499.7 127.2 503.5 128.3 505.6 129.6C507.7 130.8 508.9 133.1 508.8 135.0C508.7 136.8 507.1 139.2 505.0 140.7C502.9 142.2 499.4 143.8 496.1 144.0C492.8 144.2 488.2 142.9 485.0 142.0C481.9 141.2 477.3 140.4 477.1 138.8Z" fill="none" stroke="#e8454a" stroke-width="1.0"/>
<path d="M482.9 138.0C482.8 136.7 485.8 134.2 488.2 132.7C490.6 131.1 494.6 129.3 497.4 128.9C500.1 128.5 503.0 129.5 504.6 130.5C506.2 131.5 507.1 133.4 507.0 134.9C506.9 136.4 505.7 138.4 504.1 139.6C502.5 140.8 499.9 142.1 497.4 142.3C494.8 142.5 491.3 141.4 488.9 140.7C486.5 140.0 483.0 139.4 482.9 138.0Z" fill="none" stroke="#e8454a" stroke-width="1.0"/>
<path d="M488.8 136.9C488.7 135.9 490.8 134.3 492.4 133.2C494.1 132.1 496.8 130.6 498.7 130.3C500.6 130.0 502.6 130.8 503.7 131.5C504.8 132.3 505.4 133.7 505.3 134.9C505.2 136.0 504.4 137.5 503.3 138.5C502.2 139.4 500.4 140.4 498.7 140.5C497.0 140.6 494.6 139.9 492.9 139.3C491.3 138.7 488.9 138.0 488.8 136.9Z" fill="none" stroke="#e8454a" stroke-width="1.0"/>
<path d="M503.5 134.6C503.5 135.2 503.3 135.9 502.8 136.5C502.3 137.0 501.5 137.5 500.7 137.8C499.8 138.1 498.7 138.3 497.7 138.3C496.7 138.3 495.5 138.1 494.6 137.8C493.8 137.6 492.9 137.2 492.4 136.7C491.9 136.3 491.5 135.7 491.5 135.2C491.5 134.7 491.8 134.1 492.2 133.6C492.7 133.1 493.5 132.6 494.4 132.3C495.2 131.9 496.3 131.6 497.3 131.5C498.3 131.4 499.5 131.4 500.3 131.7C501.2 131.9 502.1 132.3 502.6 132.8C503.1 133.3 503.5 134.0 503.5 134.6Z" fill="none" stroke="#e8454a" stroke-width="1.0"/>
<path d="M434.3 107.0C434.6 105.5 435.5 104.2 436.9 103.1C438.3 102.0 440.5 101.3 442.9 100.6C445.3 99.9 447.8 99.4 451.4 98.9C455.0 98.4 459.5 97.8 464.3 97.6C469.1 97.3 474.9 97.5 480.0 97.4C485.1 97.3 491.1 97.1 495.0 97.1C498.9 97.1 500.4 96.8 503.7 97.3C507.0 97.8 512.0 99.0 514.9 100.1C517.8 101.1 519.0 102.2 520.9 103.6C522.8 105.0 524.4 107.0 526.0 108.7C527.6 110.4 529.8 112.1 530.5 114.0C531.2 115.9 530.8 118.1 530.0 120.0C529.2 121.9 527.8 124.2 526.0 125.5C524.2 126.8 521.7 128.2 519.0 128.0C516.3 127.8 513.2 125.2 510.0 124.5C506.8 123.8 503.3 123.7 500.0 123.5C496.7 123.3 493.3 123.4 490.0 123.2C486.7 123.0 482.9 122.7 480.0 122.4C477.1 122.1 475.5 121.9 472.9 121.6C470.3 121.2 467.2 120.6 464.3 120.3C461.4 120.0 458.0 119.6 455.7 119.9C453.4 120.2 452.2 121.5 450.6 122.4C449.0 123.3 447.6 125.1 446.3 125.4C445.0 125.7 444.2 125.4 442.9 124.2C441.6 123.0 439.9 120.2 438.6 118.2C437.3 116.2 435.8 114.1 435.1 112.2C434.4 110.3 434.0 108.5 434.3 107.0Z" fill="none" stroke="#5656fa" stroke-width="1.0" stroke-dasharray="2.2 1.1"/>
<path d="M446.3 113.9C446.4 112.6 446.9 110.9 448.0 109.6C449.1 108.3 451.2 107.1 453.2 106.1C455.2 105.1 457.4 104.2 460.0 103.6C462.6 103.0 465.3 102.8 468.6 102.3C471.9 101.8 475.6 100.9 480.0 100.6C484.4 100.3 490.6 100.2 495.0 100.4C499.4 100.6 502.7 101.1 506.3 101.9C509.9 102.7 513.6 103.9 516.6 105.3C519.6 106.7 522.4 108.6 524.3 110.4C526.2 112.2 527.6 114.2 528.0 116.0C528.4 117.8 527.7 120.1 526.5 121.5C525.3 122.9 523.4 124.3 521.0 124.5C518.6 124.7 515.5 123.0 512.0 122.5C508.5 122.0 503.7 121.9 500.0 121.6C496.3 121.3 493.3 121.1 490.0 120.5C486.7 119.9 483.6 119.0 480.0 118.2C476.4 117.4 471.9 116.3 468.6 115.6C465.3 114.9 462.9 113.8 460.0 113.9C457.1 114.0 453.5 115.8 451.4 116.4C449.3 117.0 448.0 118.1 447.2 117.7C446.4 117.3 446.2 115.2 446.3 113.9Z" fill="none" stroke="#5656fa" stroke-width="1.0" stroke-dasharray="2.2 1.1"/>
<path d="M473.3 108.7C473.3 107.0 474.7 106.8 476.5 106.1C478.3 105.4 480.5 104.9 484.0 104.6C487.5 104.2 492.3 104.0 497.5 104.0C502.7 104.0 510.5 103.7 515.2 104.5C519.9 105.3 523.5 107.2 525.5 109.0C527.5 110.7 527.0 113.3 527.0 115.0C527.0 116.7 527.5 117.7 525.5 118.8C523.5 120.0 519.9 121.5 515.2 122.0C510.5 122.5 502.7 122.3 497.5 122.0C492.3 121.7 487.5 121.4 484.0 120.4C480.5 119.4 478.3 118.0 476.5 116.0C474.7 114.1 473.3 110.4 473.3 108.7Z" fill="none" stroke="#5656fa" stroke-width="1.0" stroke-dasharray="2.2 1.1"/>
<path d="M484.0 112.2C484.0 110.8 485.1 109.7 486.5 108.8C487.9 108.0 489.6 107.3 492.3 106.8C495.0 106.4 498.7 106.1 502.7 106.1C506.7 106.1 512.8 105.9 516.4 106.6C519.9 107.3 522.5 108.7 524.0 110.1C525.5 111.5 525.5 113.6 525.5 115.0C525.5 116.4 525.5 117.4 524.0 118.4C522.5 119.4 519.9 120.7 516.4 121.2C512.8 121.7 506.7 121.4 502.7 121.2C498.7 121.0 495.0 120.8 492.3 120.1C489.6 119.4 487.9 118.5 486.5 117.2C485.1 115.8 484.0 113.6 484.0 112.2Z" fill="none" stroke="#5656fa" stroke-width="1.0" stroke-dasharray="2.2 1.1"/>
<path d="M489.1 113.0C489.1 111.9 490.0 111.1 491.2 110.4C492.4 109.7 493.8 109.2 496.1 108.9C498.3 108.5 501.4 108.3 504.8 108.3C508.2 108.3 513.4 108.3 516.3 108.8C519.3 109.3 521.2 110.3 522.5 111.3C523.8 112.3 524.0 113.9 524.0 115.0C524.0 116.1 523.8 117.0 522.5 117.9C521.2 118.8 519.3 119.9 516.3 120.3C513.4 120.7 508.2 120.4 504.8 120.3C501.4 120.2 498.3 120.0 496.1 119.4C493.8 118.9 492.4 118.1 491.2 117.0C490.0 115.9 489.1 114.1 489.1 113.0Z" fill="none" stroke="#5656fa" stroke-width="1.0" stroke-dasharray="2.2 1.1"/>
<path d="M493.4 113.4C493.4 112.5 494.2 112.0 495.1 111.5C496.1 111.0 497.3 110.7 499.2 110.4C501.1 110.2 503.7 110.0 506.5 110.0C509.3 110.0 513.7 110.1 516.1 110.5C518.5 110.9 519.9 111.5 521.0 112.2C522.1 113.0 522.5 114.1 522.5 115.0C522.5 115.9 522.1 116.7 521.0 117.4C519.9 118.2 518.5 119.1 516.1 119.4C513.7 119.7 509.3 119.5 506.5 119.4C503.7 119.3 501.1 119.1 499.2 118.7C497.3 118.2 496.1 117.6 495.1 116.7C494.2 115.8 493.4 114.3 493.4 113.4Z" fill="none" stroke="#5656fa" stroke-width="1.0" stroke-dasharray="2.2 1.1"/>
<path d="M497.7 113.9C497.7 113.2 498.3 112.8 499.1 112.4C499.8 112.0 500.8 111.7 502.3 111.5C503.7 111.3 505.8 111.2 508.0 111.2C510.2 111.2 513.6 111.4 515.5 111.7C517.3 112.0 518.2 112.4 519.0 112.9C519.8 113.5 520.5 114.3 520.5 115.0C520.5 115.7 519.8 116.3 519.0 116.9C518.2 117.5 517.3 118.2 515.5 118.5C513.6 118.8 510.2 118.6 508.0 118.5C505.8 118.4 503.7 118.3 502.3 117.9C500.8 117.6 499.8 117.1 499.1 116.4C498.3 115.8 497.7 114.6 497.7 113.9Z" fill="none" stroke="#5656fa" stroke-width="1.0" stroke-dasharray="2.2 1.1"/>
<path d="M500.5 114.3C500.5 113.8 501.0 113.5 501.5 113.1C502.1 112.8 502.8 112.6 503.9 112.5C505.0 112.3 506.5 112.2 508.1 112.2C509.8 112.2 512.5 112.5 513.8 112.7C515.1 112.9 515.4 113.1 516.0 113.5C516.6 113.8 517.5 114.5 517.5 115.0C517.5 115.5 516.6 116.0 516.0 116.4C515.4 116.9 515.1 117.4 513.8 117.6C512.5 117.8 509.8 117.7 508.1 117.6C506.5 117.5 505.0 117.5 503.9 117.2C502.8 117.0 502.1 116.6 501.5 116.1C501.0 115.6 500.5 114.8 500.5 114.3Z" fill="none" stroke="#5656fa" stroke-width="1.0" stroke-dasharray="2.2 1.1"/>
<path d="M519.4 133.0C520.8 132.6 523.6 134.1 525.5 134.8C527.4 135.6 529.7 135.9 530.9 137.5C532.1 139.1 532.7 142.1 532.9 144.3C533.1 146.6 533.2 149.0 532.2 151.0C531.2 153.0 529.5 154.8 526.8 156.4C524.1 158.0 520.0 159.2 516.0 160.5C511.9 161.8 506.6 163.5 502.5 163.9C498.4 164.3 494.1 164.0 491.7 163.2C489.3 162.4 488.4 160.7 488.4 159.1C488.4 157.5 489.6 155.5 491.7 153.7C493.8 151.9 497.8 150.2 501.2 148.3C504.6 146.4 509.3 144.1 512.0 142.3C514.7 140.5 516.2 139.1 517.4 137.5C518.6 135.9 518.0 133.4 519.4 133.0Z" fill="none" stroke="#5656fa" stroke-width="1.0" stroke-dasharray="2.2 1.1"/>
<path d="M499.8 155.8C499.7 154.5 500.6 151.6 502.0 150.0C503.4 148.4 505.1 147.5 507.9 146.3C510.7 145.1 515.6 143.0 518.7 142.9C521.9 142.8 525.2 144.6 526.8 145.6C528.4 146.6 528.9 147.7 528.2 149.0C527.5 150.3 525.5 152.3 522.8 153.7C520.1 155.0 515.4 156.4 512.0 157.1C508.6 157.8 504.5 158.0 502.5 157.8C500.5 157.6 499.9 157.1 499.8 155.8Z" fill="none" stroke="#5656fa" stroke-width="1.0" stroke-dasharray="2.2 1.1"/>
<path d="M522.2 149.0C522.2 149.6 521.7 150.4 521.0 150.9C520.3 151.4 519.1 151.8 517.9 152.0C516.8 152.2 515.2 152.2 514.1 152.0C512.9 151.8 511.7 151.4 511.0 150.9C510.3 150.4 509.8 149.6 509.8 149.0C509.8 148.4 510.3 147.6 511.0 147.1C511.7 146.6 512.9 146.2 514.1 146.0C515.2 145.8 516.8 145.8 517.9 146.0C519.1 146.2 520.3 146.6 521.0 147.1C521.7 147.6 522.2 148.4 522.2 149.0Z" fill="none" stroke="#5656fa" stroke-width="1.0" stroke-dasharray="2.2 1.1"/>
<path d="M360.0 140.5C361.2 140.7 364.3 140.9 367.0 141.4C369.7 141.9 373.6 142.1 376.3 143.7C379.0 145.2 380.7 148.0 383.4 150.7C386.1 153.4 389.2 157.1 392.7 160.0C396.2 162.9 400.5 166.0 404.4 168.2C408.3 170.3 413.0 171.5 416.1 172.9C419.2 174.3 421.6 174.7 423.1 176.4C424.7 178.2 424.8 181.1 425.4 183.4C426.0 185.7 425.4 188.7 426.6 190.4C427.8 192.2 428.7 193.1 432.4 193.9C436.1 194.7 442.2 194.8 448.8 195.1C455.4 195.4 464.3 195.6 472.1 195.6C479.9 195.6 488.9 195.6 495.5 195.1C502.1 194.6 506.6 194.0 511.9 192.8C517.1 191.6 522.9 190.3 527.0 188.1C531.1 185.9 533.8 182.3 536.5 179.8C539.2 177.3 541.4 176.2 543.0 173.3C544.6 170.4 545.8 165.7 546.2 162.5C546.6 159.3 545.4 157.5 545.4 153.9C545.4 150.3 545.9 145.2 546.2 140.9C546.5 136.6 546.4 130.9 547.3 128.0C548.2 125.1 549.8 124.5 551.6 123.6C553.4 122.7 556.3 122.2 558.1 122.6C559.9 123.0 561.7 124.2 562.4 125.8C563.1 127.4 561.7 130.5 562.4 132.3C563.1 134.1 563.1 135.0 566.7 136.6C570.3 138.2 577.5 141.6 584.0 142.0C590.5 142.4 598.4 139.5 605.6 138.8C612.8 138.1 620.0 137.2 627.2 137.7C634.4 138.2 643.4 141.3 648.8 142.0C654.2 142.7 654.7 142.2 659.6 142.0C664.5 141.8 673.8 141.2 678.0 140.9C682.2 140.7 683.8 140.6 685.0 140.5" fill="none" stroke="#5656fa" stroke-width="1.0" stroke-dasharray="2.2 1.1"/>
<path d="M551.6 153.9C551.8 150.7 555.2 144.9 558.1 143.1C561.0 141.3 566.0 141.7 568.9 143.1C571.8 144.5 574.0 147.8 575.4 151.7C576.8 155.6 577.9 162.8 577.5 166.8C577.1 170.8 575.7 173.7 573.2 175.5C570.7 177.3 565.3 178.3 562.4 177.6C559.5 176.9 556.8 173.7 555.9 171.2C555.0 168.7 557.7 165.4 557.0 162.5C556.3 159.6 551.4 157.1 551.6 153.9Z" fill="none" stroke="#5656fa" stroke-width="1.0" stroke-dasharray="2.2 1.1"/>
<path d="M603.4 148.5C603.4 147.1 606.6 146.2 609.9 145.7C613.1 145.1 619.8 144.5 622.9 145.2C626.0 145.8 628.7 148.0 628.3 149.6C627.9 151.2 623.8 154.3 620.7 155.0C617.6 155.7 612.8 155.0 609.9 153.9C607.0 152.8 603.4 149.9 603.4 148.5Z" fill="none" stroke="#5656fa" stroke-width="1.0" stroke-dasharray="2.2 1.1"/>
</g>
<rect x="367.45" y="49.0" width="310.55" height="154.40" fill="none" stroke="#7a7a7a" stroke-width="1"/>
<line x1="362.4" y1="49.0" x2="367.45" y2="49.0" stroke="#7a7a7a" stroke-width="1"/>
<text x="357.1" y="51.8" font-size="7.9" text-anchor="end">90N</text>
<line x1="362.4" y1="74.7" x2="367.45" y2="74.7" stroke="#7a7a7a" stroke-width="1"/>
<text x="357.1" y="77.5" font-size="7.9" text-anchor="end">60N</text>
<line x1="362.4" y1="100.5" x2="367.45" y2="100.5" stroke="#7a7a7a" stroke-width="1"/>
<text x="357.1" y="103.3" font-size="7.9" text-anchor="end">30N</text>
<line x1="362.4" y1="126.2" x2="367.45" y2="126.2" stroke="#7a7a7a" stroke-width="1"/>
<text x="357.1" y="129.0" font-size="7.9" text-anchor="end">0</text>
<line x1="362.4" y1="151.9" x2="367.45" y2="151.9" stroke="#7a7a7a" stroke-width="1"/>
<text x="357.1" y="154.7" font-size="7.9" text-anchor="end">30S</text>
<line x1="362.4" y1="177.7" x2="367.45" y2="177.7" stroke="#7a7a7a" stroke-width="1"/>
<text x="357.1" y="180.5" font-size="7.9" text-anchor="end">60S</text>
<line x1="362.4" y1="203.4" x2="367.45" y2="203.4" stroke="#7a7a7a" stroke-width="1"/>
<text x="357.1" y="206.2" font-size="7.9" text-anchor="end">90S</text>
<line x1="367.4" y1="203.4" x2="367.4" y2="208.4" stroke="#7a7a7a" stroke-width="1"/>
<line x1="419.2" y1="203.4" x2="419.2" y2="208.4" stroke="#7a7a7a" stroke-width="1"/>
<line x1="471.0" y1="203.4" x2="471.0" y2="208.4" stroke="#7a7a7a" stroke-width="1"/>
<line x1="522.7" y1="203.4" x2="522.7" y2="208.4" stroke="#7a7a7a" stroke-width="1"/>
<line x1="574.5" y1="203.4" x2="574.5" y2="208.4" stroke="#7a7a7a" stroke-width="1"/>
<line x1="626.2" y1="203.4" x2="626.2" y2="208.4" stroke="#7a7a7a" stroke-width="1"/>
<line x1="678.0" y1="203.4" x2="678.0" y2="208.4" stroke="#7a7a7a" stroke-width="1"/>
<text x="522.7" y="38.5" font-size="11.5" text-anchor="middle">day 7</text>
<g clip-path="url(#cp3)"><path d="M40.7 265.0L39.4 265.4L41.5 264.6L45.0 262.6L45.8 261.7L41.5 261.9L39.8 260.7L38.5 259.4L39.4 258.1L42.4 256.8L38.1 256.8L36.3 255.9L40.7 254.7L38.1 253.1L46.3 251.0L51.9 251.7L59.6 252.3L64.8 252.5L70.8 252.1L77.7 252.9L82.0 253.8L88.1 253.8L96.7 253.8L99.3 250.8L103.6 253.4L107.9 252.5L110.5 255.5L107.0 257.2L105.3 257.2L100.1 259.8L100.1 261.5L100.1 261.8L101.9 263.3L106.2 264.6L110.5 265.0L112.2 268.0L113.1 265.4L114.8 264.1L114.8 260.7L113.9 258.7L118.2 259.0L121.7 261.5L125.1 260.4L127.7 263.3L129.4 265.0L132.9 267.6L132.0 268.0L129.4 269.1L125.1 269.7L125.6 270.6L125.1 271.9L126.0 272.7L129.4 272.7L124.3 274.9L120.8 274.9L120.8 276.3L117.4 277.4L116.5 279.2L115.6 280.5L116.1 281.9L113.9 283.0L111.3 285.2L111.8 288.2L112.2 290.3L110.9 290.3L109.6 287.3L107.9 286.5L104.4 286.2L104.0 287.3L100.1 286.7L97.1 288.6L97.1 291.6L97.1 293.8L98.4 295.9L99.7 296.6L102.7 296.2L103.1 294.2L106.2 293.8L105.7 296.4L105.0 298.5L108.7 298.6L109.4 299.4L109.2 301.9L109.0 302.8L110.9 304.5L112.6 304.1L114.3 304.8L114.6 305.5L113.9 305.8L112.2 306.0L110.9 305.7L107.3 303.7L107.2 302.5L105.7 301.1L102.7 300.3L100.1 298.5L98.0 298.8L94.1 297.4L90.2 295.1L90.5 293.5L89.4 292.3L87.2 290.3L85.5 288.4L83.9 285.2L82.2 284.9L82.9 286.5L84.4 289.0L86.8 292.5L86.1 292.1L84.4 290.8L82.5 288.2L81.6 286.0L80.2 284.3L79.0 283.0L77.2 282.6L75.6 280.0L74.4 278.3L74.0 276.2L74.3 272.7L73.7 270.7L75.1 271.0L75.1 270.1L73.4 269.3L71.3 268.4L70.4 266.7L68.7 265.4L66.5 263.3L63.9 262.0L60.9 260.9L57.0 260.7L53.6 260.3L51.4 261.1L50.1 260.9L48.4 262.8L46.3 263.3L44.1 264.1L41.5 265.0ZM118.2 245.2L123.4 243.1L129.4 241.8L142.4 241.2L155.3 240.5L163.9 241.3L170.8 242.2L165.6 243.9L164.8 246.1L162.2 249.5L162.2 251.7L158.7 253.4L152.7 253.8L148.4 256.0L145.8 258.1L144.1 260.7L142.4 260.6L139.8 259.4L137.6 257.2L135.5 255.1L137.2 253.4L134.6 251.7L132.9 249.5L130.3 247.1L124.3 246.9L118.2 245.2ZM125.1 259.0L127.7 255.1L122.5 252.1L113.9 249.9L107.9 249.1L103.6 250.4L108.7 252.1L113.9 252.5L119.1 254.2L117.4 256.0L113.9 256.8L120.8 258.1ZM79.4 252.9L94.1 252.9L94.1 249.5L86.3 249.5L79.4 249.5L78.6 251.2ZM73.4 250.8L81.2 251.0L81.2 248.2L73.4 248.2L72.5 249.5ZM103.6 246.9L116.5 246.5L120.8 244.4L127.7 241.8L116.5 240.9L103.6 242.2ZM101.9 248.2L112.2 248.2L112.2 246.5L101.9 246.5ZM80.3 248.2L90.6 248.0L90.6 246.5L80.3 246.8ZM97.5 245.2L107.0 245.2L107.0 242.6L97.5 243.1ZM94.1 250.8L97.5 250.8L97.5 248.7L94.1 249.1ZM99.3 250.4L103.6 250.4L103.6 248.7L99.3 248.7ZM92.4 247.8L97.5 247.8L97.5 246.1L92.4 246.1ZM105.3 257.7L108.7 257.7L112.2 256.8L108.7 255.5L106.2 256.4ZM160.5 256.0L162.2 255.2L167.4 255.1L169.5 256.4L168.2 257.0L165.6 257.8L161.8 257.4ZM107.9 293.5L110.5 292.4L114.8 293.3L117.2 294.9L114.3 295.1L112.2 293.5L109.6 293.3ZM117.0 296.4L118.4 295.1L120.9 295.4L122.2 296.3L119.6 297.1L117.0 296.5ZM113.7 296.4L115.5 296.4L115.3 297.0L113.9 296.8ZM123.2 296.4L124.6 296.4L124.5 296.8L123.2 296.8ZM130.0 271.3L133.3 267.9L135.5 270.1L135.7 271.9L135.0 272.2L132.9 271.3ZM114.5 304.9L116.1 303.2L119.1 301.6L119.5 303.2L120.8 301.9L122.5 303.2L126.0 303.1L128.1 303.2L129.0 304.9L131.6 307.1L134.6 307.3L136.8 308.6L138.1 310.7L138.1 312.7L139.3 313.1L142.8 314.4L145.8 314.7L148.0 315.4L150.7 316.7L151.2 318.7L150.7 320.4L149.3 321.7L147.6 323.6L147.5 327.3L146.7 329.4L145.4 331.6L142.8 332.3L139.8 334.2L139.3 336.7L137.2 338.9L135.5 341.2L133.8 342.2L131.6 341.9L130.7 341.5L132.0 343.6L131.5 345.0L127.7 345.8L127.5 347.3L125.1 347.5L126.0 348.8L124.9 350.9L123.0 352.2L124.3 353.5L122.2 355.4L121.7 357.4L122.1 359.1L124.3 359.5L120.0 359.9L116.9 357.4L116.1 353.5L117.4 350.1L117.8 348.3L117.6 344.5L119.5 340.2L119.6 337.2L120.4 333.7L120.6 328.1L119.5 327.1L116.5 325.4L115.3 323.9L112.6 318.7L111.2 317.4L111.1 316.1L112.2 314.4L111.8 312.7L112.2 311.4L113.5 310.1L114.3 308.8L114.4 306.2L114.1 305.8ZM176.3 281.3L177.4 280.7L179.3 280.7L180.5 279.9L181.3 278.9L180.9 278.3L181.9 277.0L183.9 276.2L183.8 275.2L185.3 275.0L186.8 275.2L187.6 274.6L188.7 274.1L189.9 274.5L190.2 275.4L191.8 276.4L193.2 277.2L194.6 277.8L194.7 279.4L195.0 279.6L195.9 278.7L195.7 277.5L197.1 277.8L196.2 277.2L194.9 276.6L193.2 275.6L191.8 274.3L191.8 273.4L193.0 273.1L193.6 273.4L194.3 274.2L195.8 275.1L197.2 275.8L197.9 276.2L197.9 277.6L198.6 278.2L199.3 279.3L199.9 280.6L200.8 281.0L201.1 279.7L201.8 279.4L200.8 278.6L201.0 277.6L201.8 277.2L203.6 277.2L204.1 277.8L203.7 278.4L204.4 279.2L204.6 280.5L205.5 280.7L206.7 281.1L207.5 280.7L208.7 280.9L210.0 281.1L211.1 280.6L212.4 280.8L212.1 281.7L212.0 282.5L211.3 283.9L210.7 285.3L209.0 285.4L209.2 286.6L210.1 288.0L210.6 288.4L211.2 286.9L211.5 288.1L212.7 290.1L213.5 291.4L214.9 293.5L215.6 295.1L216.7 296.3L217.9 298.1L218.0 299.5L218.5 301.1L218.6 301.4L219.9 301.2L222.5 300.2L224.2 299.4L226.1 298.6L228.9 297.1L230.1 296.4L231.0 295.9L231.6 294.7L232.7 292.9L231.7 292.0L230.3 291.6L229.7 290.5L229.8 289.6L229.0 290.3L227.7 291.5L226.0 291.6L225.6 291.2L225.6 290.0L225.1 289.9L224.5 290.3L224.4 289.7L223.8 289.0L223.0 287.8L222.4 286.6L223.2 286.5L224.3 286.4L225.5 288.3L227.3 289.2L228.4 289.5L229.7 288.9L230.6 290.2L232.4 290.4L234.2 290.6L236.7 290.6L238.6 290.4L239.2 291.0L240.2 292.1L240.6 293.0L241.9 294.4L243.4 293.3L243.7 294.0L243.9 295.7L244.4 298.5L245.4 300.3L246.0 301.9L246.9 303.8L248.0 305.3L248.6 304.6L249.5 303.4L249.9 302.4L250.4 300.7L250.2 299.2L251.2 298.2L252.1 298.0L253.8 296.4L254.8 295.3L256.1 294.4L256.1 293.8L257.2 293.6L257.9 293.4L259.2 292.9L260.3 293.0L260.7 294.2L261.3 295.1L262.4 296.1L262.5 298.5L263.4 298.7L264.8 297.7L265.4 298.1L265.9 300.6L266.1 302.8L265.9 305.2L267.6 307.7L267.9 308.8L268.5 309.8L270.4 311.1L271.0 311.0L270.3 308.4L269.2 306.9L267.6 305.8L267.6 304.9L266.7 303.4L267.3 301.5L267.3 300.6L268.1 301.3L269.5 301.8L269.9 302.8L271.2 303.2L271.7 304.9L273.2 303.3L275.3 302.3L275.4 300.6L274.9 299.1L273.6 298.0L272.3 296.1L273.0 294.5L274.2 293.7L275.9 293.8L276.1 294.8L276.8 293.8L279.0 293.2L281.6 292.5L283.3 291.1L284.2 289.9L285.3 288.2L286.3 286.6L285.4 285.8L286.1 285.2L285.3 284.1L284.0 282.5L284.8 281.3L286.7 280.3L285.3 279.8L283.7 280.3L282.9 279.2L282.6 278.7L283.7 278.3L285.4 277.2L286.3 277.4L285.7 278.9L286.7 278.3L288.3 278.0L289.2 279.8L290.2 280.0L290.0 282.5L291.0 282.5L292.6 281.9L292.7 280.5L291.8 279.1L291.0 278.1L292.9 277.0L293.8 275.9L295.2 275.1L297.8 274.6L299.8 273.0L302.3 270.6L303.0 267.4L302.7 266.3L300.4 265.9L299.2 265.7L297.7 265.2L299.7 263.7L302.4 262.2L304.7 261.3L307.9 261.3L311.3 261.5L314.1 261.3L316.2 259.3L319.3 259.1L319.1 260.3L317.3 262.4L316.2 263.0L315.5 265.0L316.2 268.4L317.8 266.8L319.1 265.7L320.8 263.9L321.2 263.7L321.6 262.4L322.9 260.9L324.4 260.3L327.9 260.7L329.8 259.8L331.6 259.1L334.1 258.5L335.6 258.7L335.9 256.8L338.0 256.4L340.2 256.9L342.8 256.8L345.2 255.5L343.2 254.7L339.7 253.4L336.3 252.9L332.9 252.3L327.7 252.0L324.2 252.4L319.9 252.4L317.3 251.2L312.2 251.3L307.0 250.1L301.8 249.9L300.1 250.8L294.9 250.8L292.3 250.4L290.6 249.1L287.2 249.3L282.9 249.1L278.5 248.8L277.7 246.9L276.0 246.3L270.8 245.5L266.5 246.5L262.2 246.9L257.9 247.4L256.1 248.7L250.5 249.0L250.8 250.2L248.4 250.0L245.8 249.7L243.6 249.7L241.1 249.5L240.2 250.8L238.7 251.4L238.9 252.5L236.7 252.7L233.3 252.2L231.6 253.0L228.1 253.6L227.3 253.0L223.0 254.0L219.2 253.4L218.9 255.4L215.9 256.7L213.0 257.2L211.1 256.7L210.9 255.5L209.6 254.9L211.3 254.8L214.3 255.4L216.7 254.8L216.1 254.0L212.2 252.9L209.6 252.6L207.0 252.1L205.3 251.2L203.4 251.1L201.0 251.7L197.5 252.1L194.9 253.3L193.6 254.2L191.9 255.7L190.2 256.8L188.5 257.8L185.9 258.7L185.5 259.8L185.5 261.1L186.1 261.6L187.2 262.4L188.5 262.1L189.8 261.5L190.3 260.8L190.8 261.5L191.3 262.1L192.0 263.7L192.3 264.6L193.5 264.5L194.9 263.9L195.5 262.8L195.6 262.0L197.3 261.0L196.2 260.1L196.1 258.6L197.5 257.7L199.7 256.4L200.4 255.7L203.0 256.1L202.7 256.6L199.7 258.1L199.5 259.7L200.1 260.4L201.0 260.8L203.6 260.3L207.0 260.7L205.3 261.1L201.8 261.2L201.4 261.7L202.2 262.2L201.8 263.3L199.7 262.8L199.3 264.1L199.4 264.8L198.1 265.5L197.1 265.2L195.4 265.4L193.4 265.9L191.9 265.5L190.6 265.8L189.9 265.5L190.5 263.8L190.2 262.7L188.6 263.2L188.1 264.1L188.6 265.0L188.8 265.8L187.2 266.4L185.3 266.7L184.6 267.7L183.3 268.3L182.5 269.1L181.3 269.6L180.0 269.6L179.5 269.5L179.9 270.4L178.6 270.3L177.1 270.7L177.4 271.2L179.0 271.6L180.1 272.5L180.1 273.9L179.9 275.0L177.9 275.0L174.3 274.7L173.1 275.4L173.6 276.2L173.4 277.9L173.0 279.0L173.6 280.5L174.7 280.3L175.6 280.6ZM-134.0 281.3L-132.9 280.7L-131.0 280.7L-129.8 279.9L-129.0 278.9L-129.4 278.3L-128.4 277.0L-126.4 276.2L-126.5 275.2L-125.0 275.0L-123.5 275.2L-122.7 274.6L-121.6 274.1L-120.4 274.5L-120.1 275.4L-118.5 276.4L-117.1 277.2L-115.7 277.8L-115.6 279.4L-115.3 279.6L-114.4 278.7L-114.6 277.5L-113.2 277.8L-114.1 277.2L-115.4 276.6L-117.1 275.6L-118.5 274.3L-118.5 273.4L-117.3 273.1L-116.7 273.4L-116.0 274.2L-114.5 275.1L-113.1 275.8L-112.4 276.2L-112.4 277.6L-111.7 278.2L-111.0 279.3L-110.4 280.6L-109.5 281.0L-109.2 279.7L-108.5 279.4L-109.5 278.6L-109.3 277.6L-108.5 277.2L-106.7 277.2L-106.2 277.8L-106.6 278.4L-105.9 279.2L-105.7 280.5L-104.8 280.7L-103.6 281.1L-102.8 280.7L-101.6 280.9L-100.3 281.1L-99.2 280.6L-97.9 280.8L-98.2 281.7L-98.3 282.5L-99.0 283.9L-99.6 285.3L-101.3 285.4L-101.1 286.6L-100.2 288.0L-99.7 288.4L-99.1 286.9L-98.8 288.1L-97.6 290.1L-96.8 291.4L-95.4 293.5L-94.7 295.1L-93.6 296.3L-92.4 298.1L-92.3 299.5L-91.8 301.1L-91.7 301.4L-90.4 301.2L-87.8 300.2L-86.1 299.4L-84.2 298.6L-81.4 297.1L-80.2 296.4L-79.3 295.9L-78.7 294.7L-77.6 292.9L-78.6 292.0L-80.0 291.6L-80.6 290.5L-80.5 289.6L-81.3 290.3L-82.6 291.5L-84.3 291.6L-84.7 291.2L-84.7 290.0L-85.2 289.9L-85.8 290.3L-85.9 289.7L-86.5 289.0L-87.3 287.8L-87.9 286.6L-87.1 286.5L-86.0 286.4L-84.8 288.3L-83.0 289.2L-81.9 289.5L-80.6 288.9L-79.7 290.2L-77.9 290.4L-76.1 290.6L-73.6 290.6L-71.7 290.4L-71.1 291.0L-70.1 292.1L-69.7 293.0L-68.4 294.4L-66.9 293.3L-66.6 294.0L-66.4 295.7L-65.9 298.5L-64.9 300.3L-64.3 301.9L-63.4 303.8L-62.3 305.3L-61.7 304.6L-60.8 303.4L-60.4 302.4L-59.9 300.7L-60.1 299.2L-59.1 298.2L-58.2 298.0L-56.5 296.4L-55.5 295.3L-54.2 294.4L-54.2 293.8L-53.1 293.6L-52.4 293.4L-51.1 292.9L-50.0 293.0L-49.6 294.2L-49.0 295.1L-47.9 296.1L-47.8 298.5L-46.9 298.7L-45.5 297.7L-44.9 298.1L-44.4 300.6L-44.2 302.8L-44.4 305.2L-42.7 307.7L-42.4 308.8L-41.8 309.8L-39.9 311.1L-39.3 311.0L-40.0 308.4L-41.1 306.9L-42.7 305.8L-42.7 304.9L-43.6 303.4L-43.0 301.5L-43.0 300.6L-42.2 301.3L-40.8 301.8L-40.4 302.8L-39.1 303.2L-38.6 304.9L-37.1 303.3L-35.0 302.3L-34.9 300.6L-35.4 299.1L-36.7 298.0L-38.0 296.1L-37.3 294.5L-36.1 293.7L-34.4 293.8L-34.2 294.8L-33.5 293.8L-31.3 293.2L-28.7 292.5L-27.0 291.1L-26.1 289.9L-25.0 288.2L-24.0 286.6L-24.9 285.8L-24.2 285.2L-25.0 284.1L-26.3 282.5L-25.5 281.3L-23.6 280.3L-25.0 279.8L-26.6 280.3L-27.4 279.2L-27.7 278.7L-26.6 278.3L-24.9 277.2L-24.0 277.4L-24.6 278.9L-23.6 278.3L-22.0 278.0L-21.1 279.8L-20.1 280.0L-20.3 282.5L-19.3 282.5L-17.7 281.9L-17.6 280.5L-18.5 279.1L-19.3 278.1L-17.4 277.0L-16.5 275.9L-15.1 275.1L-12.5 274.6L-10.5 273.0L-8.0 270.6L-7.3 267.4L-7.6 266.3L-9.9 265.9L-11.1 265.7L-12.6 265.2L-10.6 263.7L-7.9 262.2L-5.6 261.3L-2.4 261.3L1.0 261.5L3.8 261.3L5.9 259.3L9.0 259.1L8.8 260.3L7.0 262.4L5.9 263.0L5.2 265.0L5.9 268.4L7.5 266.8L8.8 265.7L10.5 263.9L10.9 263.7L11.3 262.4L12.6 260.9L14.1 260.3L17.6 260.7L19.5 259.8L21.3 259.1L23.8 258.5L25.3 258.7L25.6 256.8L27.7 256.4L29.9 256.9L32.5 256.8L34.9 255.5L32.9 254.7L29.4 253.4L26.0 252.9L22.6 252.3L17.4 252.0L13.9 252.4L9.6 252.4L7.0 251.2L1.9 251.3L-3.3 250.1L-8.5 249.9L-10.2 250.8L-15.4 250.8L-18.0 250.4L-19.7 249.1L-23.1 249.3L-27.4 249.1L-31.8 248.8L-32.6 246.9L-34.3 246.3L-39.5 245.5L-43.8 246.5L-48.1 246.9L-52.4 247.4L-54.2 248.7L-59.8 249.0L-59.5 250.2L-61.9 250.0L-64.5 249.7L-66.7 249.7L-69.2 249.5L-70.1 250.8L-71.6 251.4L-71.4 252.5L-73.6 252.7L-77.0 252.2L-78.7 253.0L-82.2 253.6L-83.0 253.0L-87.3 254.0L-91.1 253.4L-91.4 255.4L-94.4 256.7L-97.3 257.2L-99.2 256.7L-99.4 255.5L-100.7 254.9L-99.0 254.8L-96.0 255.4L-93.6 254.8L-94.2 254.0L-98.1 252.9L-100.7 252.6L-103.3 252.1L-105.0 251.2L-106.9 251.1L-109.3 251.7L-112.8 252.1L-115.4 253.3L-116.7 254.2L-118.4 255.7L-120.1 256.8L-121.8 257.8L-124.4 258.7L-124.8 259.8L-124.8 261.1L-124.2 261.6L-123.1 262.4L-121.8 262.1L-120.5 261.5L-120.0 260.8L-119.5 261.5L-119.0 262.1L-118.3 263.7L-118.0 264.6L-116.8 264.5L-115.4 263.9L-114.8 262.8L-114.7 262.0L-113.0 261.0L-114.1 260.1L-114.2 258.6L-112.8 257.7L-110.6 256.4L-109.9 255.7L-107.3 256.1L-107.6 256.6L-110.6 258.1L-110.8 259.7L-110.2 260.4L-109.3 260.8L-106.7 260.3L-103.3 260.7L-105.0 261.1L-108.5 261.2L-108.9 261.7L-108.1 262.2L-108.5 263.3L-110.6 262.8L-111.0 264.1L-110.9 264.8L-112.2 265.5L-113.2 265.2L-114.9 265.4L-116.9 265.9L-118.4 265.5L-119.7 265.8L-120.4 265.5L-119.8 263.8L-120.1 262.7L-121.7 263.2L-122.2 264.1L-121.7 265.0L-121.5 265.8L-123.1 266.4L-125.0 266.7L-125.7 267.7L-127.0 268.3L-127.8 269.1L-129.0 269.6L-130.3 269.6L-130.8 269.5L-130.4 270.4L-131.7 270.3L-133.2 270.7L-132.9 271.2L-131.3 271.6L-130.2 272.5L-130.2 273.9L-130.4 275.0L-132.4 275.0L-136.0 274.7L-137.2 275.4L-136.7 276.2L-136.9 277.9L-137.3 279.0L-136.7 280.5L-135.6 280.3L-134.7 280.6ZM209.0 285.4L207.0 285.3L205.3 285.7L202.7 285.1L201.0 284.3L200.1 284.0L198.4 284.7L197.5 286.2L195.8 285.6L194.5 284.5L192.4 284.0L191.1 283.7L189.9 283.0L190.7 282.0L190.2 280.7L190.6 280.4L189.6 280.2L188.0 280.5L185.5 280.6L183.7 280.6L182.0 280.9L180.3 281.7L179.3 282.1L176.6 281.4L176.0 281.5L175.3 283.0L173.8 283.6L172.7 285.3L172.8 286.5L171.2 288.0L169.9 288.6L168.7 289.7L167.4 291.6L166.5 293.8L167.1 295.5L166.9 297.6L166.1 299.6L166.7 300.6L166.8 301.7L167.8 302.4L168.7 303.2L169.7 304.2L170.4 305.5L171.7 306.4L173.0 307.5L174.7 308.5L176.8 307.9L179.4 308.1L181.2 307.4L182.9 306.8L185.0 306.8L186.3 308.6L187.6 308.4L188.7 308.6L189.3 309.7L189.6 311.4L189.2 313.1L190.6 315.3L191.5 316.5L192.4 319.1L192.8 321.3L191.9 323.9L191.3 326.4L191.9 328.1L193.6 331.6L194.1 335.0L195.4 336.8L196.7 339.3L196.9 341.5L198.4 342.2L200.5 341.5L203.1 341.5L204.4 341.0L207.0 338.9L209.2 336.7L209.5 334.6L211.7 332.9L211.6 331.2L211.1 329.4L212.6 328.4L215.2 326.4L216.1 324.7L216.1 321.7L215.2 318.7L214.8 316.5L215.9 314.7L216.9 313.5L218.6 311.6L220.8 309.7L222.5 308.0L223.8 305.4L225.3 302.4L223.4 302.5L220.8 303.1L219.1 303.3L218.4 302.4L218.0 301.5L216.9 300.4L215.6 298.9L214.8 297.6L213.9 296.4L213.2 294.2L212.9 293.3L211.7 292.1L211.3 290.3L210.3 288.6L209.2 286.6ZM223.6 322.6L224.7 325.6L223.8 327.7L223.0 330.3L221.7 333.7L219.9 334.2L218.8 332.4L218.5 330.7L219.4 329.3L219.1 326.9L220.8 325.8L222.5 323.9ZM250.1 303.8L251.0 304.9L251.7 306.2L251.0 307.1L250.2 307.1L249.9 305.8ZM176.2 269.3L178.6 268.8L182.4 268.2L182.6 267.0L181.3 266.3L180.9 265.8L179.9 265.0L179.4 264.1L179.6 262.7L178.4 261.9L176.8 261.9L175.8 262.8L176.3 264.1L177.0 265.2L178.4 265.8L178.6 266.5L177.2 266.9L177.5 267.6L176.7 267.8L178.1 268.1L177.3 268.8ZM176.0 267.4L175.8 266.0L176.3 265.3L176.0 264.8L174.7 264.7L173.8 265.3L172.5 265.8L173.0 266.7L172.3 267.6L173.0 268.0L174.3 267.7L175.7 267.4ZM294.0 283.0L295.4 281.7L297.9 281.6L299.1 280.2L301.4 279.4L301.8 277.9L302.9 276.7L303.5 278.3L302.7 280.0L302.5 281.7L301.6 282.2L300.8 282.5L299.2 282.5L298.2 283.5L297.5 282.5L295.8 282.8L294.1 283.1ZM292.9 283.5L294.1 283.1L294.8 284.3L294.1 285.3L293.4 285.4L293.0 284.1ZM295.4 283.9L296.2 283.6L297.3 283.2L297.1 282.9L295.8 282.9L295.2 283.4ZM301.8 276.6L303.1 275.7L304.7 276.2L306.8 275.0L305.3 274.4L303.4 273.2L302.9 274.9L302.1 275.1L301.8 276.2ZM303.5 272.7L304.8 272.3L304.6 270.1L305.3 270.0L304.2 265.6L303.7 266.3L303.5 268.4L303.5 271.0ZM284.7 292.5L285.3 293.4L286.2 290.9L285.8 290.5L284.8 291.6ZM274.8 295.7L275.5 296.6L276.8 295.4L276.4 295.0L275.1 295.1ZM284.6 298.5L285.0 296.4L286.5 296.4L286.3 298.1L286.7 300.2L288.0 301.1L287.2 300.6L285.4 300.4L285.1 299.8ZM286.3 306.2L287.2 304.9L289.3 304.1L290.2 305.8L289.3 307.4L288.0 306.7ZM286.3 303.2L287.6 302.4L289.3 302.4L288.9 303.7L287.2 304.1ZM263.3 307.4L265.2 307.8L267.6 310.1L270.4 312.7L271.2 313.8L272.5 314.8L272.3 317.2L271.2 317.3L269.5 315.7L268.2 314.4L266.9 312.7L266.1 310.7L264.3 309.2ZM271.8 318.1L272.9 317.4L274.7 317.8L276.4 318.2L278.1 318.2L279.8 318.9L279.8 319.7L276.8 319.3L274.7 319.0L272.9 318.6ZM275.1 311.0L275.7 310.5L277.3 310.1L278.5 309.5L280.7 307.7L282.0 306.2L283.9 307.8L282.9 308.4L282.6 311.4L283.6 311.4L282.4 312.2L281.7 314.0L281.1 315.4L279.8 315.7L277.4 314.8L276.1 313.8L275.1 312.7L275.1 311.4ZM284.2 317.0L285.0 317.0L284.8 314.7L285.7 316.3L287.0 316.1L285.9 314.0L287.3 313.1L285.4 313.1L285.0 311.8L287.2 311.5L288.9 311.0L285.3 311.1L284.4 312.2L283.7 315.3ZM294.1 313.1L295.4 312.6L297.5 315.1L299.7 313.5L302.7 314.5L306.1 316.1L307.0 317.0L308.3 317.8L308.7 319.1L310.9 321.3L308.3 320.8L307.0 319.1L305.3 319.0L304.0 320.2L302.7 320.1L301.0 319.3L300.1 319.5L299.9 317.0L297.9 316.0L296.2 315.5L294.9 314.7L294.5 313.5ZM287.6 321.1L288.9 320.0L290.8 319.5L289.8 320.2L288.3 321.0ZM283.5 319.8L284.6 319.4L287.0 319.4L287.0 319.8L284.6 319.9ZM279.0 331.2L279.4 334.6L280.2 337.2L280.9 339.3L280.3 341.1L281.6 342.3L282.9 342.3L287.6 341.4L289.8 340.0L292.3 339.5L294.1 339.3L296.7 340.4L298.0 342.2L298.8 341.5L299.9 342.9L301.4 343.2L302.3 344.9L304.8 345.6L307.3 345.9L308.7 344.7L310.4 344.5L310.6 343.0L311.6 341.3L312.6 339.8L313.5 336.9L313.2 333.7L311.1 331.6L309.6 329.9L307.3 328.6L306.6 326.0L306.4 325.1L304.8 324.3L304.0 321.4L303.2 323.4L303.1 326.4L302.3 327.5L301.0 326.9L299.2 325.8L297.9 325.1L299.0 323.0L298.4 322.6L295.5 322.0L294.1 322.7L292.8 325.1L291.0 324.3L289.3 324.7L287.6 326.4L286.5 327.7L285.4 329.0L283.3 329.7L281.7 330.0L279.9 331.0ZM305.8 347.2L309.0 347.4L308.7 349.4L307.0 349.7L306.3 348.5ZM330.0 341.8L331.6 343.6L332.8 344.5L335.0 344.7L333.7 346.0L332.9 347.5L332.0 347.9L331.6 346.5L331.0 345.9L331.6 344.0ZM330.0 347.1L331.4 348.1L330.7 349.2L328.8 350.5L327.2 352.3L324.7 351.8L326.0 350.1L328.5 348.3ZM26.0 252.9L30.3 254.2L34.6 255.4L32.9 256.9L29.4 256.0L26.0 256.4ZM26.0 385.0L32.9 385.0L38.9 384.4L42.4 381.4L45.0 379.8L48.4 380.6L51.9 382.7L54.4 378.4L55.3 377.4L62.2 376.3L74.3 375.4L86.3 375.2L97.5 375.0L112.2 375.0L120.8 375.2L121.2 372.8L123.0 371.4L126.0 369.1L129.4 367.3L132.0 366.4L131.2 367.4L128.1 369.4L127.3 371.6L128.1 374.1L128.1 378.9L132.9 380.1L138.1 380.7L148.4 380.4L156.6 378.1L162.6 376.4L168.2 375.0L173.0 373.8L181.2 373.3L189.8 373.3L191.5 372.2L205.3 372.2L207.0 371.1L211.3 369.8L219.9 369.8L228.6 369.8L237.2 372.0L241.5 372.0L248.4 371.6L250.1 369.8L266.5 369.4L302.7 369.4L310.4 371.1L319.1 372.4L328.0 374.1L324.2 375.8L321.6 378.4L322.5 381.9L327.7 384.2L336.3 384.2L337.2 389.6L25.1 389.6ZM-284.3 385.0L-277.4 385.0L-271.4 384.4L-267.9 381.4L-265.3 379.8L-261.9 380.6L-258.4 382.7L-255.9 378.4L-255.0 377.4L-248.1 376.3L-236.0 375.4L-224.0 375.2L-212.8 375.0L-198.1 375.0L-189.5 375.2L-189.1 372.8L-187.3 371.4L-184.3 369.1L-180.9 367.3L-178.3 366.4L-179.1 367.4L-182.2 369.4L-183.0 371.6L-182.2 374.1L-182.2 378.9L-177.4 380.1L-172.2 380.7L-161.9 380.4L-153.7 378.1L-147.7 376.4L-142.1 375.0L-137.3 373.8L-129.2 373.3L-120.5 373.3L-118.8 372.2L-105.0 372.2L-103.3 371.1L-99.0 369.8L-90.4 369.8L-81.7 369.8L-73.1 372.0L-68.8 372.0L-61.9 371.6L-60.2 369.8L-43.8 369.4L-7.6 369.4L0.1 371.1L8.8 372.4L17.7 374.1L13.9 375.8L11.3 378.4L12.2 381.9L17.4 384.2L26.0 384.2L26.9 389.6L-285.2 389.6ZM128.3 356.3L131.0 356.3L131.4 356.7L130.5 357.2L129.0 357.1Z" fill="#d3d3d3"/><path d="M100.1 261.5L101.4 263.3L106.2 264.6L110.2 264.9L112.2 268.0L113.1 265.4L114.8 264.1L114.8 260.7L113.9 258.7L112.2 257.7L108.7 258.1L105.3 257.2L102.7 258.1L100.1 259.8ZM205.3 276.5L205.8 275.0L206.7 273.3L207.7 272.3L209.2 272.7L210.0 274.0L211.7 273.5L212.7 273.3L213.9 274.0L215.2 274.9L217.0 276.5L215.2 277.0L212.6 276.8L210.9 276.2L208.7 276.4L206.3 276.8ZM211.5 273.2L212.9 273.2L214.2 272.5L214.9 271.7L213.5 271.8L211.5 272.5ZM223.4 272.3L225.5 271.9L226.8 272.0L227.0 273.3L225.4 273.9L226.6 276.2L227.7 277.0L226.8 278.3L227.6 280.2L225.1 280.7L223.4 280.0L223.6 277.9L223.0 276.3L221.9 274.9L222.1 273.1ZM101.8 272.1L103.6 272.2L106.2 272.3L108.3 272.3L108.2 271.4L107.0 270.3L104.9 270.3L103.6 270.9L101.9 271.9ZM105.5 276.4L106.4 276.3L106.9 274.9L107.5 273.1L108.1 272.8L106.6 272.7L105.6 273.7L105.4 275.3ZM108.2 272.8L109.2 272.6L110.9 272.7L111.9 273.1L110.8 273.7L110.7 275.0L110.0 275.3L109.2 274.5L109.4 273.6L108.3 273.1ZM109.2 276.4L110.9 276.6L113.1 275.5L111.8 275.6L110.0 276.0ZM112.4 275.0L114.8 275.1L115.5 274.3L113.9 274.5L112.6 274.7ZM95.8 268.8L98.0 268.8L97.7 267.6L96.9 265.8L96.0 266.3L95.8 268.0ZM80.3 259.8L83.8 259.7L87.2 258.7L85.5 258.3L82.0 258.7ZM73.4 256.4L76.9 256.2L79.4 255.1L76.9 254.7L74.3 255.1Z" fill="#fff"/>
<path d="M18.0 235.7C19.3 235.7 20.4 235.7 26.0 235.7C31.6 235.7 43.1 235.6 51.7 235.7C60.3 235.8 70.9 235.9 77.5 236.1C84.1 236.3 87.8 236.6 91.2 237.1C94.6 237.6 96.3 237.9 98.0 239.1C99.7 240.3 100.2 242.3 101.5 244.3C102.8 246.3 103.6 249.2 105.8 251.1C108.0 253.0 110.7 254.5 114.6 255.5C118.5 256.5 124.3 256.3 129.2 257.0C134.1 257.7 139.7 258.4 143.8 259.9C147.9 261.3 151.3 263.8 154.0 265.7C156.7 267.6 159.2 270.0 159.9 271.6C160.6 273.2 160.4 274.1 158.4 275.2C156.4 276.3 152.3 277.6 148.2 278.1C144.1 278.6 138.0 278.7 133.6 278.1C129.2 277.5 125.1 276.1 121.9 274.5C118.7 272.9 116.8 270.6 114.6 268.7C112.4 266.8 111.2 264.1 108.8 262.8C106.4 261.5 102.4 260.8 100.0 260.6C97.6 260.4 97.2 260.8 94.6 261.4C92.0 262.0 87.4 262.7 84.3 264.0C81.2 265.3 78.5 267.8 75.7 269.2C72.9 270.6 70.3 272.0 67.2 272.1C64.1 272.2 60.3 271.1 56.9 270.0C53.5 268.9 50.0 266.8 46.6 265.7C43.2 264.6 39.7 263.8 36.3 263.2C32.9 262.6 29.1 262.5 26.0 262.3C22.9 262.1 19.3 262.1 18.0 262.0" fill="none" stroke="#e8454a" stroke-width="1.0"/>
<path d="M146.0 270.8C146.0 271.4 145.4 272.2 144.6 272.7C143.8 273.2 142.3 273.6 141.0 273.8C139.6 274.0 137.8 274.0 136.4 273.8C135.1 273.6 133.6 273.2 132.8 272.7C132.0 272.2 131.4 271.4 131.4 270.8C131.4 270.2 132.0 269.4 132.8 268.9C133.6 268.4 135.1 268.0 136.4 267.8C137.8 267.6 139.6 267.6 141.0 267.8C142.3 268.0 143.8 268.4 144.6 268.9C145.4 269.4 146.0 270.2 146.0 270.8Z" fill="none" stroke="#e8454a" stroke-width="1.0"/>
<path d="M18.0 285.0C19.3 284.8 23.4 284.3 26.0 283.6C28.6 282.9 30.8 281.5 33.4 280.6C36.0 279.7 39.0 278.4 41.9 278.1C44.8 277.8 48.5 278.1 50.5 278.7C52.5 279.3 53.4 279.9 54.2 281.8C55.0 283.8 55.6 287.5 55.4 290.4C55.2 293.3 54.4 296.6 53.0 299.0C51.6 301.4 49.5 303.1 46.8 304.5C44.1 305.9 39.9 307.2 37.0 307.5C34.1 307.8 31.4 307.3 29.7 306.3C28.0 305.3 27.2 303.0 26.6 301.4C26.0 299.8 27.1 298.1 26.0 296.5C24.9 294.9 21.0 292.8 20.0 292.0" fill="none" stroke="#e8454a" stroke-width="1.0"/>
<path d="M30.3 290.4C30.3 288.4 32.0 287.0 33.5 286.0C35.0 285.0 37.4 284.3 39.5 284.3C41.6 284.3 44.3 284.8 46.0 286.0C47.7 287.2 49.7 289.6 49.9 291.6C50.1 293.6 48.5 296.5 47.0 298.0C45.5 299.5 43.0 300.9 40.7 300.8C38.4 300.8 35.1 299.4 33.4 297.7C31.7 296.0 30.3 292.3 30.3 290.4Z" fill="none" stroke="#e8454a" stroke-width="1.0"/>
<path d="M344.0 281.5C342.6 281.9 337.6 282.8 335.5 283.7C333.4 284.6 331.9 285.6 331.1 286.6C330.3 287.6 330.6 288.6 330.8 289.6C331.1 290.6 331.7 291.3 332.6 292.5C333.5 293.7 334.4 295.6 336.3 296.9C338.2 298.1 342.7 299.5 344.0 300.0" fill="none" stroke="#e8454a" stroke-width="1.0"/>
<path d="M60.9 307.5C61.0 306.9 61.4 306.9 62.8 305.1C64.2 303.3 68.0 298.0 69.5 296.5C71.0 295.0 71.5 295.7 72.0 295.9C72.5 296.1 73.7 295.8 72.6 297.7C71.5 299.6 66.9 305.6 65.2 307.5C63.5 309.4 62.9 308.8 62.2 308.8C61.5 308.8 60.8 308.1 60.9 307.5Z" fill="none" stroke="#5656fa" stroke-width="1.0" stroke-dasharray="2.2 1.1"/>
<path d="M345.0 235.3C343.5 235.3 343.5 235.3 336.0 235.3C328.5 235.3 309.3 235.3 300.0 235.3C290.7 235.3 286.5 235.3 280.0 235.5C273.5 235.7 266.5 235.8 260.9 236.2C255.3 236.6 251.1 237.0 246.2 237.7C241.3 238.4 235.7 239.4 231.5 240.6C227.3 241.8 223.5 243.7 221.2 245.0C218.9 246.3 218.4 246.8 217.5 248.7C216.6 250.5 216.5 253.7 216.0 256.1C215.5 258.6 214.9 261.4 214.6 263.4C214.3 265.4 214.7 266.4 214.2 268.0C213.7 269.6 212.8 271.5 211.8 272.9C210.8 274.3 210.2 275.9 208.1 276.6C206.0 277.3 203.0 277.3 199.5 277.2C196.0 277.1 190.8 276.1 187.3 276.0C183.8 275.9 180.5 275.9 178.7 276.6C176.8 277.3 176.7 278.7 176.2 280.3C175.7 281.9 175.4 284.6 175.6 286.4C175.8 288.2 176.0 290.0 177.5 291.3C179.0 292.6 182.4 293.5 184.8 294.3C187.2 295.1 190.6 295.3 192.2 296.2C193.8 297.1 194.4 298.7 194.6 299.9C194.8 301.1 193.0 302.5 193.4 303.5C193.8 304.5 195.1 305.5 197.1 306.0C199.1 306.5 202.1 306.0 205.6 306.3C209.1 306.6 214.3 307.1 217.9 308.0C221.5 308.9 223.9 310.4 227.0 311.5C230.1 312.6 233.8 314.4 236.5 314.5C239.2 314.6 241.7 313.6 243.5 312.0C245.3 310.4 246.6 308.2 247.5 305.0C248.4 301.8 248.8 296.6 248.8 292.5C248.9 288.4 248.4 283.3 247.8 280.3C247.2 277.3 246.4 275.9 245.5 274.5C244.6 273.1 243.9 272.4 242.4 271.7C240.9 271.0 238.0 271.2 236.3 270.5C234.6 269.8 233.2 269.1 232.0 267.5C230.8 265.9 229.5 263.0 229.3 261.0C229.1 259.0 229.7 256.9 231.0 255.5C232.3 254.1 233.7 253.5 237.0 252.8C240.3 252.1 246.5 251.6 250.7 251.4C254.9 251.2 259.0 251.2 262.0 251.6C265.0 251.9 266.8 252.4 268.5 253.5C270.2 254.6 272.2 256.4 272.2 258.3C272.2 260.2 271.4 263.4 268.7 265.2C266.0 267.0 259.7 268.3 255.9 269.4C252.1 270.4 248.4 270.6 246.0 271.5C243.6 272.4 242.1 272.8 241.5 274.6C240.9 276.4 241.9 279.9 242.2 282.3C242.5 284.7 243.2 286.9 243.5 289.2C243.8 291.5 244.1 294.9 244.2 296.0" fill="none" stroke="#e8454a" stroke-width="1.0"/>
<path d="M178.7 282.7C178.9 281.5 178.6 280.7 181.1 280.3C183.6 279.9 189.3 280.0 193.4 280.3C197.5 280.6 202.5 281.5 205.6 282.1C208.7 282.7 210.1 284.1 211.8 283.9C213.5 283.7 214.3 282.0 216.0 281.0C217.7 280.0 219.3 278.6 222.0 278.0C224.7 277.4 228.9 277.3 232.0 277.5C235.1 277.7 238.2 277.9 240.5 279.0C242.8 280.1 244.8 281.3 246.0 284.0C247.2 286.7 247.6 291.5 247.5 295.0C247.4 298.5 247.0 301.9 245.5 305.0C244.0 308.1 241.1 312.2 238.5 313.5C235.9 314.8 233.1 313.7 230.0 312.8C226.9 311.9 223.7 309.8 220.0 308.3C216.3 306.8 211.4 305.1 208.0 304.0C204.6 302.9 201.1 302.6 199.5 301.7C197.9 300.8 198.9 299.8 198.3 298.6C197.7 297.4 197.2 295.3 195.8 294.3C194.4 293.3 191.9 293.0 189.7 292.5C187.5 292.0 184.0 292.1 182.4 291.3C180.8 290.5 180.5 289.0 179.9 287.6C179.3 286.2 178.5 283.9 178.7 282.7Z" fill="none" stroke="#e8454a" stroke-width="1.0"/>
<path d="M194.6 288.8C194.6 289.2 194.2 289.6 193.7 289.9C193.1 290.1 192.1 290.4 191.2 290.5C190.3 290.6 189.1 290.6 188.2 290.5C187.3 290.4 186.3 290.1 185.7 289.9C185.2 289.6 184.8 289.2 184.8 288.8C184.8 288.4 185.2 288.0 185.7 287.7C186.3 287.5 187.3 287.2 188.2 287.1C189.1 287.0 190.3 287.0 191.2 287.1C192.1 287.2 193.1 287.5 193.7 287.7C194.2 288.0 194.6 288.4 194.6 288.8Z" fill="none" stroke="#e8454a" stroke-width="1.0"/>
<path d="M222.8 295.2C222.5 293.3 223.3 290.9 224.5 289.5C225.7 288.1 228.2 287.0 230.1 286.8C232.0 286.6 234.6 287.3 236.0 288.5C237.4 289.7 238.5 292.2 238.6 294.1C238.7 296.0 237.6 298.4 236.5 300.0C235.4 301.6 233.9 303.4 232.2 303.6C230.5 303.8 228.1 302.4 226.5 301.0C224.9 299.6 223.1 297.1 222.8 295.2Z" fill="none" stroke="#e8454a" stroke-width="1.0"/>
<path d="M220.1 295.2C219.6 292.8 221.0 289.8 222.5 288.0C224.0 286.2 226.8 284.9 229.1 284.6C231.4 284.4 234.6 285.1 236.5 286.5C238.4 287.9 240.4 290.8 240.7 293.1C241.0 295.4 239.7 298.4 238.5 300.5C237.3 302.6 235.5 305.4 233.3 305.7C231.1 306.0 227.7 304.2 225.5 302.5C223.3 300.8 220.6 297.6 220.1 295.2Z" fill="none" stroke="#e8454a" stroke-width="1.0"/>
<path d="M218.0 295.2C217.3 292.3 218.8 288.6 220.5 286.5C222.2 284.4 225.2 282.8 228.0 282.5C230.8 282.2 234.5 282.7 237.0 284.5C239.5 286.3 242.2 290.2 242.8 293.1C243.4 296.0 241.9 299.6 240.5 302.0C239.1 304.4 237.0 307.5 234.3 307.8C231.6 308.1 227.2 306.1 224.5 304.0C221.8 301.9 218.7 298.1 218.0 295.2Z" fill="none" stroke="#e8454a" stroke-width="1.0"/>
<path d="M215.4 296.2C214.6 292.8 216.6 287.6 218.5 285.0C220.4 282.4 223.8 280.8 227.0 280.4C230.2 280.0 234.6 280.4 237.5 282.5C240.4 284.6 243.6 289.7 244.4 293.1C245.2 296.5 244.0 300.2 242.5 303.0C241.0 305.8 238.6 309.5 235.4 309.9C232.2 310.3 226.8 307.8 223.5 305.5C220.2 303.2 216.2 299.6 215.4 296.2Z" fill="none" stroke="#e8454a" stroke-width="1.0"/>
<path d="M212.7 297.3C211.7 293.5 214.2 286.7 216.0 283.5C217.8 280.3 220.2 278.9 223.8 278.3C227.4 277.7 233.8 277.5 237.5 280.0C241.2 282.5 244.8 289.1 245.9 293.1C247.0 297.1 245.6 300.9 244.0 304.0C242.4 307.1 240.2 311.6 236.5 312.0C232.8 312.4 226.0 308.9 222.0 306.5C218.0 304.1 213.7 301.1 212.7 297.3Z" fill="none" stroke="#e8454a" stroke-width="1.0"/>
<path d="M234.9 294.1C234.9 294.9 234.6 295.9 234.1 296.6C233.6 297.2 232.8 297.8 232.0 298.1C231.2 298.3 230.2 298.3 229.4 298.1C228.6 297.8 227.8 297.2 227.3 296.6C226.8 295.9 226.5 294.9 226.5 294.1C226.5 293.3 226.8 292.3 227.3 291.6C227.8 291.0 228.6 290.4 229.4 290.1C230.2 289.9 231.2 289.9 232.0 290.1C232.8 290.4 233.6 291.0 234.1 291.6C234.6 292.3 234.9 293.3 234.9 294.1Z" fill="none" stroke="#e8454a" stroke-width="1.0"/>
<path d="M262.0 274.9C260.8 274.9 256.9 274.6 255.0 275.0C253.1 275.4 251.6 276.3 250.5 277.5C249.4 278.7 249.0 279.8 248.5 282.3C248.0 284.8 247.9 289.7 247.6 292.6C247.3 295.6 247.5 297.7 246.8 300.0C246.1 302.3 245.1 304.8 243.5 306.5C241.9 308.2 238.1 309.4 237.0 310.0" fill="none" stroke="#e8454a" stroke-width="1.0"/>
<path d="M262.0 274.9C263.5 274.9 268.4 274.4 270.8 274.9C273.2 275.4 275.2 276.3 276.7 277.8C278.2 279.3 278.6 282.0 279.6 283.7C280.6 285.4 280.6 286.6 282.6 288.1C284.6 289.6 288.0 291.0 291.4 292.5C294.8 294.0 300.0 296.2 303.2 296.9C306.4 297.6 307.8 297.9 310.5 296.9C313.2 295.9 317.2 293.1 319.4 291.1C321.6 289.2 323.8 287.2 323.8 285.2C323.8 283.2 321.1 281.3 319.4 279.3C317.7 277.3 314.4 275.1 313.5 273.4C312.6 271.7 313.0 270.4 314.2 269.0C315.4 267.6 318.2 266.3 320.8 265.3C323.4 264.3 327.1 263.3 329.6 262.8C332.1 262.3 333.6 262.2 336.0 262.1C338.4 262.0 342.7 262.0 344.0 262.0" fill="none" stroke="#e8454a" stroke-width="1.0"/>
<path d="M282.6 282.2C282.9 280.0 285.8 276.2 288.5 274.9C291.2 273.5 295.1 273.6 298.8 274.1C302.5 274.6 307.9 276.2 310.5 277.8C313.1 279.4 314.4 281.7 314.2 283.7C314.0 285.7 311.7 288.4 309.1 289.6C306.5 290.8 302.5 291.4 298.8 291.1C295.1 290.9 289.7 289.6 287.0 288.1C284.3 286.6 282.4 284.4 282.6 282.2Z" fill="none" stroke="#e8454a" stroke-width="1.0"/>
<path d="M286.3 283.7C286.3 282.5 288.4 280.8 290.0 280.0C291.6 279.2 293.6 279.0 295.8 279.0C298.0 279.0 300.9 279.3 303.0 280.0C305.1 280.7 308.2 282.2 308.3 283.4C308.4 284.6 305.3 286.2 303.5 287.0C301.7 287.8 299.6 288.1 297.3 288.1C295.1 288.1 291.8 287.7 290.0 287.0C288.2 286.3 286.3 284.9 286.3 283.7Z" fill="none" stroke="#e8454a" stroke-width="1.0"/>
<path d="M299.0 284.0C299.0 284.2 298.7 284.5 298.3 284.7C297.9 284.9 297.2 285.0 296.6 285.0C296.0 285.0 295.3 284.9 294.9 284.7C294.5 284.5 294.2 284.2 294.2 284.0C294.2 283.8 294.5 283.5 294.9 283.3C295.3 283.1 296.0 283.0 296.6 283.0C297.2 283.0 297.9 283.1 298.3 283.3C298.7 283.5 299.0 283.8 299.0 284.0Z" fill="none" stroke="#e8454a" stroke-width="1.0"/>
<path d="M81.5 293.5C81.8 291.4 83.8 288.2 86.1 286.3C88.4 284.4 92.1 283.0 95.3 282.2C98.5 281.4 102.1 281.6 105.5 281.7C108.9 281.8 112.4 282.4 115.8 282.7C119.2 283.0 122.0 283.4 126.0 283.5C130.0 283.6 135.2 283.6 140.0 283.6C144.8 283.7 150.3 283.6 155.0 283.8C159.7 284.0 164.2 284.3 168.0 285.0C171.8 285.7 175.2 286.8 178.0 288.0C180.8 289.2 183.4 290.5 185.0 292.0C186.6 293.5 187.2 295.0 187.5 297.0C187.8 299.0 187.2 301.7 186.5 304.0C185.8 306.3 184.3 308.2 183.0 311.0C181.7 313.8 179.8 320.2 178.5 321.0C177.2 321.8 176.6 317.3 175.5 316.0C174.4 314.7 173.8 313.6 172.0 313.0C170.2 312.4 167.8 312.8 165.0 312.5C162.2 312.2 158.3 312.1 155.0 311.5C151.7 310.9 148.3 310.0 145.0 309.0C141.7 308.0 138.1 306.6 135.0 305.5C131.9 304.4 129.4 302.4 126.3 302.5C123.2 302.6 119.4 304.7 116.5 306.1C113.6 307.5 111.5 310.2 109.1 311.0C106.6 311.8 104.0 311.5 101.8 311.0C99.5 310.5 97.5 309.1 95.6 308.0C93.7 306.9 92.1 306.3 90.2 304.7C88.3 303.1 85.5 300.5 84.1 298.6C82.6 296.7 81.2 295.6 81.5 293.5Z" fill="none" stroke="#5656fa" stroke-width="1.0" stroke-dasharray="2.2 1.1"/>
<path d="M94.3 292.4C94.5 290.5 95.5 289.4 97.4 288.3C99.3 287.2 102.4 286.3 105.5 285.8C108.6 285.3 111.5 285.4 115.8 285.3C120.1 285.2 125.4 285.3 131.1 285.3C136.8 285.3 144.3 285.2 150.0 285.5C155.7 285.8 160.7 286.2 165.0 287.0C169.3 287.8 173.1 288.7 176.0 290.0C178.9 291.3 181.0 293.2 182.5 295.0C184.0 296.8 184.9 298.8 185.0 301.0C185.1 303.2 184.5 306.2 183.0 308.0C181.5 309.8 179.0 311.4 176.0 312.0C173.0 312.6 168.5 311.8 165.0 311.5C161.5 311.2 158.3 311.1 155.0 310.5C151.7 309.9 148.3 309.1 145.0 308.0C141.7 306.9 138.2 305.1 135.0 304.0C131.8 302.9 128.9 301.8 126.0 301.5C123.1 301.2 120.5 301.7 117.7 302.5C114.9 303.3 111.6 305.7 109.1 306.1C106.6 306.5 104.6 306.0 102.5 304.9C100.4 303.8 97.8 301.7 96.4 299.6C95.0 297.5 94.1 294.3 94.3 292.4Z" fill="none" stroke="#5656fa" stroke-width="1.0" stroke-dasharray="2.2 1.1"/>
<path d="M102.0 297.5C102.0 295.5 104.2 293.7 106.9 292.3C109.7 290.9 113.1 289.9 118.4 289.1C123.7 288.4 131.0 288.1 138.9 288.0C146.8 287.9 158.7 287.6 166.0 288.5C173.2 289.4 179.5 291.5 182.5 293.4C185.5 295.3 184.0 298.0 184.0 300.0C184.0 302.0 185.5 303.8 182.5 305.5C179.5 307.2 173.2 309.2 166.0 310.0C158.7 310.8 146.8 310.2 138.9 310.0C131.0 309.8 123.7 309.4 118.4 308.5C113.1 307.6 109.7 306.2 106.9 304.4C104.2 302.5 102.0 299.5 102.0 297.5Z" fill="none" stroke="#5656fa" stroke-width="1.0" stroke-dasharray="2.2 1.1"/>
<path d="M117.0 298.0C117.0 296.2 118.8 294.6 121.0 293.3C123.2 292.1 125.9 291.2 130.2 290.5C134.5 289.9 140.3 289.6 146.7 289.5C153.1 289.4 162.7 289.2 168.5 290.0C174.3 290.8 179.1 292.7 181.5 294.4C183.9 296.2 183.0 298.7 183.0 300.5C183.0 302.3 183.9 303.9 181.5 305.3C179.1 306.8 174.3 308.6 168.5 309.3C162.7 310.0 153.1 309.5 146.7 309.3C140.3 309.1 134.5 308.8 130.2 307.9C125.9 307.1 123.2 305.9 121.0 304.2C118.8 302.6 117.0 299.8 117.0 298.0Z" fill="none" stroke="#5656fa" stroke-width="1.0" stroke-dasharray="2.2 1.1"/>
<path d="M125.0 296.5C125.0 294.9 126.5 294.3 128.4 293.5C130.3 292.7 132.7 292.1 136.4 291.7C140.1 291.2 145.1 291.0 150.7 291.0C156.2 291.0 164.5 290.8 169.5 291.5C174.4 292.2 178.4 293.8 180.5 295.3C182.6 296.8 182.0 298.9 182.0 300.5C182.0 302.1 182.6 303.5 180.5 304.8C178.4 306.1 174.4 307.7 169.5 308.3C164.5 308.9 156.2 308.5 150.7 308.3C145.1 308.1 140.1 307.8 136.4 306.9C132.7 306.0 130.3 304.7 128.4 303.0C126.5 301.3 125.0 298.1 125.0 296.5Z" fill="none" stroke="#5656fa" stroke-width="1.0" stroke-dasharray="2.2 1.1"/>
<path d="M136.7 298.0C136.7 296.7 137.9 295.8 139.3 295.0C140.8 294.2 142.6 293.6 145.5 293.2C148.3 292.7 152.2 292.5 156.4 292.5C160.6 292.5 167.1 292.4 170.9 293.0C174.6 293.6 177.4 294.9 179.0 296.1C180.6 297.4 180.5 299.2 180.5 300.5C180.5 301.8 180.6 303.0 179.0 304.1C177.4 305.2 174.6 306.5 170.9 307.0C167.1 307.5 160.6 307.2 156.4 307.0C152.2 306.8 148.3 306.6 145.5 305.9C142.6 305.2 140.8 304.3 139.3 302.9C137.9 301.6 136.7 299.3 136.7 298.0Z" fill="none" stroke="#5656fa" stroke-width="1.0" stroke-dasharray="2.2 1.1"/>
<path d="M146.5 299.0C146.5 297.9 147.4 297.0 148.4 296.2C149.5 295.5 150.9 295.0 153.0 294.6C155.1 294.2 158.0 294.0 161.1 294.0C164.3 294.0 169.1 294.0 171.8 294.5C174.6 295.0 176.3 295.9 177.5 296.9C178.7 297.9 179.0 299.4 179.0 300.5C179.0 301.6 178.7 302.6 177.5 303.5C176.3 304.4 174.6 305.6 171.8 306.0C169.1 306.4 164.3 306.1 161.1 306.0C158.0 305.9 155.1 305.7 153.0 305.2C150.9 304.6 149.5 303.9 148.4 302.9C147.4 301.8 146.5 300.1 146.5 299.0Z" fill="none" stroke="#5656fa" stroke-width="1.0" stroke-dasharray="2.2 1.1"/>
<path d="M154.3 300.0C154.3 299.2 154.9 298.4 155.7 297.8C156.4 297.2 157.4 296.8 158.8 296.5C160.3 296.2 162.3 296.0 164.5 296.0C166.7 296.0 170.2 296.2 172.0 296.5C173.8 296.8 174.7 297.4 175.5 298.0C176.3 298.7 177.0 299.7 177.0 300.5C177.0 301.3 176.3 302.0 175.5 302.7C174.7 303.4 173.8 304.2 172.0 304.5C170.2 304.8 166.7 304.6 164.5 304.5C162.3 304.4 160.3 304.3 158.8 304.0C157.4 303.6 156.4 303.1 155.7 302.5C154.9 301.8 154.3 300.8 154.3 300.0Z" fill="none" stroke="#5656fa" stroke-width="1.0" stroke-dasharray="2.2 1.1"/>
<path d="M75.4 319.6C75.6 317.6 77.8 314.7 79.7 313.5C81.7 312.3 84.4 312.1 87.1 312.3C89.8 312.5 92.5 313.9 95.6 314.7C98.6 315.5 101.9 317.1 105.4 317.2C108.9 317.3 111.6 315.9 116.5 315.3C121.4 314.7 130.2 314.1 135.0 313.5C139.8 312.9 141.3 312.4 145.0 312.0C148.7 311.6 153.9 311.1 157.2 311.2C160.5 311.3 162.9 311.7 165.0 312.5C167.1 313.3 168.6 314.6 169.5 316.0C170.4 317.4 170.8 319.3 170.5 321.0C170.2 322.7 169.8 324.3 168.0 326.0C166.2 327.7 163.0 329.6 160.0 331.0C157.0 332.4 153.8 333.3 150.0 334.5C146.2 335.7 142.0 336.9 137.0 338.0C132.0 339.1 125.4 340.7 120.1 341.1C114.8 341.5 109.7 340.9 105.4 340.4C101.1 339.9 97.7 339.4 94.4 338.0C91.1 336.6 88.5 333.9 85.8 331.9C83.1 329.8 80.2 327.8 78.5 325.7C76.8 323.6 75.2 321.6 75.4 319.6Z" fill="none" stroke="#e8454a" stroke-width="1.0"/>
<path d="M90.1 322.7C90.5 322.0 92.6 321.9 95.6 321.4C98.6 320.9 103.8 320.3 107.9 319.6C112.0 318.9 115.6 317.8 120.1 317.2C124.6 316.6 130.3 316.5 135.0 315.9C139.7 315.3 143.8 314.0 148.0 313.5C152.2 313.0 156.8 312.6 160.0 313.0C163.2 313.4 165.5 314.7 167.0 316.0C168.5 317.3 169.0 319.3 168.8 321.0C168.6 322.7 167.8 324.4 166.0 326.0C164.2 327.6 161.0 329.2 158.0 330.5C155.0 331.8 151.8 332.5 148.0 333.5C144.2 334.5 139.0 335.9 135.0 336.5C131.0 337.1 127.7 337.2 123.8 336.8C119.9 336.4 115.3 335.3 111.6 334.3C107.9 333.3 104.9 332.0 101.8 330.6C98.7 329.2 95.2 327.0 93.2 325.7C91.2 324.4 89.7 323.4 90.1 322.7Z" fill="none" stroke="#e8454a" stroke-width="1.0"/>
<path d="M106.1 326.3C106.3 325.2 108.0 323.7 110.3 322.7C112.6 321.7 116.0 320.9 120.1 320.2C124.2 319.5 130.3 319.2 135.0 318.4C139.7 317.6 144.0 316.1 148.0 315.5C152.0 314.9 156.1 314.5 159.0 314.8C161.9 315.1 164.1 316.4 165.5 317.5C166.9 318.6 167.5 320.1 167.3 321.5C167.1 322.9 166.4 324.6 164.5 326.0C162.6 327.4 159.2 328.8 156.0 330.0C152.8 331.2 148.5 332.2 145.0 333.0C141.5 333.8 138.1 334.7 135.0 335.0C131.9 335.3 129.4 335.3 126.3 334.9C123.2 334.5 119.4 333.4 116.5 332.5C113.6 331.6 110.8 330.4 109.1 329.4C107.4 328.4 105.9 327.4 106.1 326.3Z" fill="none" stroke="#e8454a" stroke-width="1.0"/>
<path d="M121.4 327.8C121.2 325.4 126.9 320.7 131.5 318.0C136.1 315.2 143.8 312.0 149.0 311.4C154.2 310.8 159.7 312.5 162.8 314.2C165.9 316.0 167.6 319.3 167.4 321.9C167.2 324.6 164.9 328.0 161.9 330.1C158.8 332.3 153.8 334.5 149.0 334.8C144.2 335.1 137.5 333.2 132.9 332.0C128.3 330.8 121.6 330.1 121.4 327.8Z" fill="none" stroke="#e8454a" stroke-width="1.0"/>
<path d="M130.0 326.1C129.8 323.9 134.3 320.3 138.0 318.0C141.6 315.6 147.6 312.6 151.7 312.0C155.8 311.4 160.2 313.0 162.6 314.6C165.0 316.2 166.3 319.2 166.2 321.6C166.1 324.0 164.3 327.1 161.9 329.0C159.4 331.0 155.5 333.0 151.7 333.3C147.9 333.6 142.7 332.0 139.1 330.7C135.4 329.5 130.2 328.2 130.0 326.1Z" fill="none" stroke="#e8454a" stroke-width="1.0"/>
<path d="M133.4 324.7C133.2 322.9 137.2 320.3 140.4 318.4C143.5 316.5 148.8 313.7 152.4 313.2C156.0 312.7 159.8 314.0 161.9 315.4C164.0 316.8 165.2 319.5 165.1 321.6C165.0 323.7 163.4 326.4 161.3 328.1C159.2 329.8 155.7 331.6 152.4 331.8C149.1 332.0 144.5 330.7 141.3 329.6C138.2 328.4 133.6 326.6 133.4 324.7Z" fill="none" stroke="#e8454a" stroke-width="1.0"/>
<path d="M136.9 324.0C136.8 322.4 140.2 320.5 142.9 319.0C145.6 317.4 150.1 315.0 153.2 314.6C156.2 314.2 159.5 315.3 161.3 316.5C163.1 317.6 164.1 319.9 164.0 321.6C163.9 323.4 162.6 325.6 160.7 327.1C158.9 328.5 156.0 330.0 153.2 330.2C150.3 330.4 146.4 329.4 143.7 328.3C141.0 327.3 137.0 325.5 136.9 324.0Z" fill="none" stroke="#e8454a" stroke-width="1.0"/>
<path d="M140.3 323.4C140.2 322.2 143.0 320.9 145.2 319.7C147.5 318.5 151.2 316.5 153.8 316.2C156.4 315.9 159.1 316.8 160.6 317.7C162.1 318.6 162.9 320.4 162.8 321.8C162.7 323.2 161.6 325.0 160.1 326.1C158.6 327.3 156.2 328.4 153.8 328.6C151.4 328.8 148.2 328.0 145.9 327.1C143.7 326.2 140.4 324.6 140.3 323.4Z" fill="none" stroke="#e8454a" stroke-width="1.0"/>
<path d="M161.6 322.0C161.6 322.7 161.4 323.5 160.9 324.2C160.4 324.8 159.6 325.4 158.7 325.9C157.8 326.3 156.6 326.6 155.5 326.7C154.4 326.9 153.1 326.8 152.0 326.6C150.8 326.5 149.6 326.1 148.7 325.7C147.8 325.3 147.0 324.8 146.4 324.2C145.9 323.7 145.6 323.0 145.6 322.4C145.6 321.8 145.9 321.2 146.3 320.6C146.8 320.0 147.6 319.4 148.5 319.0C149.4 318.5 150.6 318.1 151.7 317.9C152.8 317.6 154.1 317.5 155.2 317.6C156.4 317.6 157.6 317.9 158.5 318.2C159.4 318.6 160.2 319.2 160.7 319.8C161.3 320.4 161.6 321.2 161.6 322.0Z" fill="none" stroke="#e8454a" stroke-width="1.0"/>
<path d="M134.9 349.2C135.7 347.9 139.0 346.3 142.3 344.3C145.6 342.3 150.6 339.6 154.5 337.0C158.4 334.4 162.6 330.4 165.5 328.4C168.4 326.3 169.6 325.5 171.7 324.7C173.8 323.9 176.0 323.1 177.8 323.5C179.6 323.9 181.6 325.4 182.7 327.2C183.8 329.0 184.7 332.3 184.5 334.5C184.3 336.7 183.4 338.8 181.5 340.6C179.6 342.4 176.4 343.9 172.9 345.5C169.4 347.1 164.7 349.2 160.6 350.4C156.5 351.6 152.3 352.6 148.4 352.9C144.5 353.2 139.7 352.9 137.4 352.3C135.2 351.7 134.1 350.5 134.9 349.2Z" fill="none" stroke="#5656fa" stroke-width="1.0" stroke-dasharray="2.2 1.1"/>
<path d="M148.4 345.5C148.4 344.5 152.1 342.6 154.5 340.6C156.9 338.6 160.4 335.3 163.1 333.3C165.8 331.3 167.9 329.4 170.4 328.4C172.9 327.4 176.0 326.8 177.8 327.2C179.7 327.6 181.0 329.2 181.5 330.8C182.0 332.4 182.1 335.1 180.9 337.0C179.7 338.9 176.9 340.5 174.1 341.9C171.3 343.3 167.6 344.7 164.3 345.5C161.0 346.3 157.2 346.8 154.5 346.8C151.8 346.8 148.4 346.5 148.4 345.5Z" fill="none" stroke="#5656fa" stroke-width="1.0" stroke-dasharray="2.2 1.1"/>
<path d="M155.7 341.9C155.9 340.8 159.7 338.6 161.9 337.0C164.2 335.4 166.8 333.1 169.2 332.1C171.6 331.1 174.9 330.4 176.6 330.8C178.3 331.2 179.4 333.1 179.6 334.5C179.8 335.9 179.3 338.1 177.8 339.4C176.3 340.7 173.3 341.8 170.4 342.5C167.5 343.2 163.1 343.8 160.6 343.7C158.1 343.6 155.5 343.0 155.7 341.9Z" fill="none" stroke="#5656fa" stroke-width="1.0" stroke-dasharray="2.2 1.1"/>
<path d="M175.1 334.3C175.3 334.8 175.1 335.6 174.7 336.3C174.3 336.9 173.5 337.6 172.7 338.1C171.9 338.5 170.8 338.9 169.8 339.0C168.9 339.1 167.8 338.9 167.2 338.6C166.5 338.3 165.9 337.7 165.7 337.1C165.5 336.6 165.7 335.8 166.1 335.1C166.5 334.5 167.3 333.8 168.1 333.3C168.9 332.9 170.0 332.5 171.0 332.4C171.9 332.3 173.0 332.5 173.6 332.8C174.3 333.1 174.9 333.7 175.1 334.3Z" fill="none" stroke="#5656fa" stroke-width="1.0" stroke-dasharray="2.2 1.1"/>
<path d="M173.2 357.4C173.7 356.2 175.9 353.6 177.7 351.9C179.5 350.2 182.2 348.2 184.0 347.0C185.8 345.8 187.3 344.9 188.7 344.5C190.1 344.1 191.6 343.8 192.2 344.3C192.8 344.8 193.2 346.1 192.2 347.5C191.2 348.9 188.6 351.4 186.4 352.9C184.2 354.4 181.0 355.6 179.0 356.6C177.0 357.6 175.5 358.7 174.5 358.8C173.5 358.9 172.7 358.5 173.2 357.4Z" fill="none" stroke="#e8454a" stroke-width="1.0"/>
<path d="M20.0 327.0C21.0 327.2 24.2 327.4 26.0 328.2C27.8 329.0 29.7 329.6 30.7 331.7C31.7 333.8 30.8 337.1 31.8 341.0C32.8 344.9 34.4 351.3 36.5 355.0C38.6 358.7 41.4 361.6 44.7 363.2C48.0 364.8 51.7 365.4 56.4 364.4C61.1 363.4 66.9 358.6 72.7 357.4C78.5 356.1 84.4 356.7 91.4 356.9C98.4 357.1 110.1 357.9 114.8 358.6C119.5 359.3 119.5 359.9 119.5 360.9C119.5 361.9 118.7 363.2 114.8 364.4C110.9 365.6 103.1 366.7 96.1 367.9C89.1 369.1 79.7 370.0 72.7 371.4C65.7 372.8 57.9 374.6 54.0 376.1C50.1 377.7 49.0 379.3 49.4 380.7C49.8 382.1 50.6 383.3 56.4 384.3C62.2 385.3 73.9 386.2 84.4 386.6C94.9 387.0 107.8 387.0 119.5 386.6C131.2 386.2 146.4 385.2 154.5 384.3C162.6 383.4 163.4 382.7 168.0 381.5C172.6 380.3 177.9 379.0 182.1 377.3C186.3 375.6 190.3 373.8 193.0 371.5C195.7 369.2 196.3 366.6 198.0 363.5C199.7 360.4 202.1 357.6 203.3 352.9C204.5 348.2 204.2 340.3 205.1 335.3C206.0 330.3 207.7 325.5 208.6 322.9C209.5 320.2 210.6 320.6 210.3 319.4C210.0 318.2 207.5 317.4 206.8 315.9C206.1 314.4 205.3 311.9 205.9 310.6C206.5 309.3 208.4 308.3 210.3 307.9C212.2 307.4 215.6 307.2 217.4 307.9C219.2 308.6 220.6 310.7 220.9 312.3C221.2 313.9 220.1 316.1 219.2 317.6C218.3 319.1 215.9 320.3 215.6 321.2C215.3 322.1 215.9 322.2 217.4 322.9C218.9 323.6 221.8 324.1 224.5 325.6C227.2 327.1 231.0 329.2 233.3 331.7C235.7 334.2 236.6 337.4 238.6 340.6C240.6 343.8 243.2 348.5 245.6 351.1C247.9 353.7 250.0 355.1 252.7 356.4C255.4 357.7 259.6 358.7 262.0 359.1C264.4 359.5 265.3 359.5 267.4 358.7C269.4 357.9 273.4 356.1 274.3 354.5C275.2 352.9 274.6 351.0 272.6 349.3C270.6 347.6 264.9 346.2 262.3 344.2C259.7 342.2 257.8 339.4 257.2 337.3C256.6 335.2 256.9 332.9 258.9 331.3C260.9 329.7 265.2 328.6 269.2 327.9C273.2 327.2 279.2 326.9 282.9 327.0C286.6 327.1 289.5 327.8 291.5 328.7C293.5 329.6 294.0 330.2 294.9 332.2C295.8 334.2 295.8 338.6 296.6 340.7C297.5 342.8 298.0 344.3 300.0 345.0C302.0 345.7 306.3 345.7 308.6 345.0C310.9 344.3 312.4 343.1 313.8 340.7C315.2 338.3 315.8 332.7 317.2 330.4C318.6 328.1 320.0 327.7 322.3 327.0C324.6 326.3 328.5 326.0 330.9 326.1C333.3 326.2 334.9 327.4 336.9 327.9C338.9 328.4 342.0 328.8 343.0 329.0" fill="none" stroke="#5656fa" stroke-width="1.0" stroke-dasharray="2.2 1.1"/>
<path d="M217.4 312.3C217.4 312.8 217.0 313.4 216.4 313.8C215.8 314.1 214.7 314.4 213.9 314.4C213.1 314.4 212.0 314.1 211.4 313.8C210.8 313.4 210.4 312.8 210.4 312.3C210.4 311.8 210.8 311.2 211.4 310.8C212.0 310.5 213.1 310.2 213.9 310.2C214.7 310.2 215.8 310.5 216.4 310.8C217.0 311.2 217.4 311.8 217.4 312.3Z" fill="none" stroke="#5656fa" stroke-width="1.0" stroke-dasharray="2.2 1.1"/>
<path d="M287.2 335.6C287.2 336.5 286.6 337.4 285.6 338.2C284.6 338.9 282.9 339.6 281.2 340.0C279.5 340.4 277.2 340.7 275.2 340.7C273.2 340.7 270.9 340.4 269.2 340.0C267.5 339.6 265.8 338.9 264.8 338.2C263.8 337.4 263.2 336.5 263.2 335.6C263.2 334.8 263.8 333.8 264.8 333.1C265.8 332.3 267.5 331.6 269.2 331.2C270.9 330.8 273.2 330.5 275.2 330.5C277.2 330.5 279.5 330.8 281.2 331.2C282.9 331.6 284.6 332.3 285.6 333.1C286.6 333.8 287.2 334.8 287.2 335.6Z" fill="none" stroke="#5656fa" stroke-width="1.0" stroke-dasharray="2.2 1.1"/>
<path d="M208.6 344.1C208.8 340.9 208.2 337.4 208.6 335.3C209.0 333.2 210.0 332.6 211.2 331.7C212.4 330.8 213.4 330.3 215.6 330.0C217.8 329.7 222.3 329.4 224.5 330.0C226.7 330.6 227.7 331.4 228.9 333.5C230.1 335.6 230.5 339.4 231.5 342.3C232.5 345.2 233.5 348.5 235.0 351.1C236.5 353.8 239.7 355.8 240.3 358.2C240.9 360.6 240.4 363.4 238.6 365.3C236.8 367.2 232.9 369.0 229.7 369.7C226.5 370.4 222.4 370.4 219.2 369.7C216.0 369.0 212.2 367.8 210.3 365.3C208.4 362.8 208.0 358.2 207.7 354.7C207.4 351.2 208.4 347.3 208.6 344.1Z" fill="none" stroke="#5656fa" stroke-width="1.0" stroke-dasharray="2.2 1.1"/>
<path d="M226.2 339.7C226.2 340.7 225.7 342.0 225.0 342.8C224.3 343.7 223.1 344.4 221.9 344.7C220.8 345.1 219.2 345.1 218.1 344.7C216.9 344.4 215.7 343.7 215.0 342.8C214.3 342.0 213.8 340.7 213.8 339.7C213.8 338.7 214.3 337.4 215.0 336.6C215.7 335.7 216.9 335.0 218.1 334.7C219.2 334.3 220.8 334.3 221.9 334.7C223.1 335.0 224.3 335.7 225.0 336.6C225.7 337.4 226.2 338.7 226.2 339.7Z" fill="none" stroke="#5656fa" stroke-width="1.0" stroke-dasharray="2.2 1.1"/>
<path d="M228.0 356.4C228.0 356.9 227.7 357.5 227.2 357.9C226.7 358.3 225.8 358.7 225.0 358.9C224.1 359.0 223.1 359.0 222.2 358.9C221.4 358.7 220.5 358.3 220.0 357.9C219.5 357.5 219.2 356.9 219.2 356.4C219.2 355.9 219.5 355.3 220.0 354.9C220.5 354.5 221.4 354.1 222.2 353.9C223.1 353.8 224.1 353.8 225.0 353.9C225.8 354.1 226.7 354.5 227.2 354.9C227.7 355.3 228.0 355.9 228.0 356.4Z" fill="none" stroke="#5656fa" stroke-width="1.0" stroke-dasharray="2.2 1.1"/>
<path d="M251.9 300.7C251.8 298.2 251.0 292.2 251.9 289.6C252.8 287.0 255.0 285.9 257.5 284.8C260.0 283.7 264.7 282.9 267.1 283.2C269.5 283.5 270.6 284.5 271.8 286.4C273.0 288.2 273.1 291.4 274.2 294.3C275.3 297.2 278.6 302.0 278.2 303.9C277.8 305.8 275.0 305.2 271.8 305.5C268.6 305.8 262.3 305.9 259.1 305.8C255.9 305.7 253.9 305.6 252.7 304.7C251.5 303.8 252.0 303.2 251.9 300.7Z" fill="none" stroke="#5656fa" stroke-width="1.0" stroke-dasharray="2.2 1.1"/>
<path d="M268.7 293.5C268.7 294.6 268.2 295.9 267.5 296.8C266.7 297.7 265.5 298.5 264.3 298.8C263.1 299.2 261.5 299.2 260.3 298.8C259.1 298.5 257.9 297.7 257.1 296.8C256.4 295.9 255.9 294.6 255.9 293.5C255.9 292.4 256.4 291.1 257.1 290.2C257.9 289.3 259.1 288.5 260.3 288.2C261.5 287.8 263.1 287.8 264.3 288.2C265.5 288.5 266.7 289.3 267.5 290.2C268.2 291.1 268.7 292.4 268.7 293.5Z" fill="none" stroke="#5656fa" stroke-width="1.0" stroke-dasharray="2.2 1.1"/>
</g>
<rect x="26.0" y="234.9" width="310.30" height="154.70" fill="none" stroke="#7a7a7a" stroke-width="1"/>
<line x1="21.0" y1="234.9" x2="26.0" y2="234.9" stroke="#7a7a7a" stroke-width="1"/>
<text x="15.6" y="237.7" font-size="7.9" text-anchor="end">90N</text>
<line x1="21.0" y1="260.7" x2="26.0" y2="260.7" stroke="#7a7a7a" stroke-width="1"/>
<text x="15.6" y="263.5" font-size="7.9" text-anchor="end">60N</text>
<line x1="21.0" y1="286.5" x2="26.0" y2="286.5" stroke="#7a7a7a" stroke-width="1"/>
<text x="15.6" y="289.3" font-size="7.9" text-anchor="end">30N</text>
<line x1="21.0" y1="312.2" x2="26.0" y2="312.2" stroke="#7a7a7a" stroke-width="1"/>
<text x="15.6" y="315.1" font-size="7.9" text-anchor="end">0</text>
<line x1="21.0" y1="338.0" x2="26.0" y2="338.0" stroke="#7a7a7a" stroke-width="1"/>
<text x="15.6" y="340.8" font-size="7.9" text-anchor="end">30S</text>
<line x1="21.0" y1="363.8" x2="26.0" y2="363.8" stroke="#7a7a7a" stroke-width="1"/>
<text x="15.6" y="366.6" font-size="7.9" text-anchor="end">60S</text>
<line x1="21.0" y1="389.6" x2="26.0" y2="389.6" stroke="#7a7a7a" stroke-width="1"/>
<text x="15.6" y="392.4" font-size="7.9" text-anchor="end">90S</text>
<line x1="26.0" y1="389.6" x2="26.0" y2="394.6" stroke="#7a7a7a" stroke-width="1"/>
<text x="26.0" y="406.8" font-size="7.9" text-anchor="middle">180</text>
<line x1="77.7" y1="389.6" x2="77.7" y2="394.6" stroke="#7a7a7a" stroke-width="1"/>
<text x="77.7" y="406.8" font-size="7.9" text-anchor="middle">120W</text>
<line x1="129.4" y1="389.6" x2="129.4" y2="394.6" stroke="#7a7a7a" stroke-width="1"/>
<text x="129.4" y="406.8" font-size="7.9" text-anchor="middle">60W</text>
<line x1="181.2" y1="389.6" x2="181.2" y2="394.6" stroke="#7a7a7a" stroke-width="1"/>
<text x="181.2" y="406.8" font-size="7.9" text-anchor="middle">0</text>
<line x1="232.9" y1="389.6" x2="232.9" y2="394.6" stroke="#7a7a7a" stroke-width="1"/>
<text x="232.9" y="406.8" font-size="7.9" text-anchor="middle">60E</text>
<line x1="284.6" y1="389.6" x2="284.6" y2="394.6" stroke="#7a7a7a" stroke-width="1"/>
<text x="284.6" y="406.8" font-size="7.9" text-anchor="middle">120E</text>
<line x1="336.3" y1="389.6" x2="336.3" y2="394.6" stroke="#7a7a7a" stroke-width="1"/>
<text x="336.3" y="406.8" font-size="7.9" text-anchor="middle">180</text>
<text x="181.2" y="224.4" font-size="11.5" text-anchor="middle">day 11</text>
<g clip-path="url(#cp4)"><path d="M382.1 265.0L380.8 265.4L383.0 264.6L386.4 262.6L387.3 261.7L383.0 261.9L381.3 260.7L380.0 259.4L380.8 258.1L383.8 256.8L379.5 256.8L377.8 255.9L382.1 254.7L379.5 253.1L387.7 251.0L393.3 251.7L401.1 252.3L406.3 252.5L412.3 252.1L419.2 252.9L423.5 253.8L429.6 253.8L438.2 253.8L440.8 250.8L445.1 253.4L449.4 252.5L452.0 255.5L448.5 257.2L446.8 257.2L441.6 259.8L441.6 261.5L441.6 261.8L443.4 263.3L447.7 264.6L452.0 265.0L453.7 268.0L454.6 265.4L456.3 264.1L456.3 260.7L455.4 258.7L459.8 259.0L463.2 261.5L466.7 260.4L469.2 263.3L471.0 265.0L474.4 267.6L473.6 268.0L471.0 269.1L466.7 269.7L467.1 270.6L466.7 271.9L467.5 272.7L471.0 272.7L465.8 274.9L462.3 274.9L462.3 276.3L458.9 277.4L458.0 279.2L457.2 280.5L457.6 281.9L455.4 283.0L452.9 285.2L453.3 288.2L453.7 290.3L452.4 290.3L451.1 287.3L449.4 286.5L446.0 286.2L445.5 287.3L441.6 286.7L438.6 288.6L438.6 291.6L438.6 293.8L439.9 295.9L441.2 296.6L444.2 296.2L444.7 294.2L447.7 293.8L447.2 296.4L446.6 298.5L450.3 298.6L450.9 299.4L450.7 301.9L450.5 302.8L452.4 304.5L454.1 304.1L455.9 304.8L456.1 305.5L455.4 305.8L453.7 306.0L452.4 305.7L448.8 303.7L448.7 302.5L447.2 301.1L444.2 300.3L441.6 298.5L439.5 298.8L435.6 297.4L431.7 295.1L432.0 293.5L430.9 292.3L428.7 290.3L427.0 288.4L425.4 285.2L423.7 284.9L424.4 286.5L425.9 289.0L428.3 292.5L427.6 292.1L425.9 290.8L424.0 288.2L423.1 286.0L421.7 284.3L420.5 283.0L418.7 282.6L417.1 280.0L415.9 278.3L415.5 276.2L415.8 272.7L415.2 270.7L416.6 271.0L416.6 270.1L414.9 269.3L412.7 268.4L411.9 266.7L410.2 265.4L408.0 263.3L405.4 262.0L402.4 260.9L398.5 260.7L395.1 260.3L392.9 261.1L391.6 260.9L389.9 262.8L387.7 263.3L385.6 264.1L383.0 265.0ZM459.8 245.2L464.9 243.1L471.0 241.8L483.9 241.2L496.8 240.5L505.5 241.3L512.4 242.2L507.2 243.9L506.3 246.1L503.7 249.5L503.7 251.7L500.3 253.4L494.3 253.8L489.9 256.0L487.4 258.1L485.6 260.7L483.9 260.6L481.3 259.4L479.2 257.2L477.0 255.1L478.7 253.4L476.1 251.7L474.4 249.5L471.8 247.1L465.8 246.9L459.8 245.2ZM466.7 259.0L469.2 255.1L464.1 252.1L455.4 249.9L449.4 249.1L445.1 250.4L450.3 252.1L455.4 252.5L460.6 254.2L458.9 256.0L455.4 256.8L462.3 258.1ZM420.9 252.9L435.6 252.9L435.6 249.5L427.8 249.5L420.9 249.5L420.1 251.2ZM414.9 250.8L422.7 251.0L422.7 248.2L414.9 248.2L414.0 249.5ZM445.1 246.9L458.0 246.5L462.3 244.4L469.2 241.8L458.0 240.9L445.1 242.2ZM443.4 248.2L453.7 248.2L453.7 246.5L443.4 246.5ZM421.8 248.2L432.1 248.0L432.1 246.5L421.8 246.8ZM439.0 245.2L448.5 245.2L448.5 242.6L439.0 243.1ZM435.6 250.8L439.0 250.8L439.0 248.7L435.6 249.1ZM440.8 250.4L445.1 250.4L445.1 248.7L440.8 248.7ZM433.9 247.8L439.0 247.8L439.0 246.1L433.9 246.1ZM446.8 257.7L450.3 257.7L453.7 256.8L450.3 255.5L447.7 256.4ZM502.0 256.0L503.7 255.2L508.9 255.1L511.1 256.4L509.8 257.0L507.2 257.8L503.3 257.4ZM449.4 293.5L452.0 292.4L456.3 293.3L458.7 294.9L455.9 295.1L453.7 293.5L451.1 293.3ZM458.5 296.4L459.9 295.1L462.4 295.4L463.7 296.3L461.1 297.1L458.5 296.5ZM455.2 296.4L457.0 296.4L456.8 297.0L455.4 296.8ZM464.8 296.4L466.1 296.4L466.0 296.8L464.8 296.8ZM471.6 271.3L474.8 267.9L477.0 270.1L477.3 271.9L476.6 272.2L474.4 271.3ZM456.0 304.9L457.6 303.2L460.6 301.6L461.0 303.2L462.3 301.9L464.1 303.2L467.5 303.1L469.7 303.2L470.5 304.9L473.1 307.1L476.1 307.3L478.3 308.6L479.6 310.7L479.6 312.7L480.9 313.1L484.3 314.4L487.4 314.7L489.5 315.4L492.3 316.7L492.7 318.7L492.3 320.4L490.8 321.7L489.2 323.6L489.1 327.3L488.2 329.4L486.9 331.6L484.3 332.3L481.3 334.2L480.8 336.7L478.7 338.9L477.0 341.2L475.4 342.2L473.1 341.9L472.3 341.5L473.6 343.6L473.0 345.0L469.2 345.8L469.0 347.3L466.7 347.5L467.5 348.8L466.4 350.9L464.5 352.2L465.8 353.5L463.7 355.4L463.2 357.4L463.6 359.1L465.8 359.5L461.5 359.9L458.5 357.4L457.6 353.5L458.9 350.1L459.3 348.3L459.1 344.5L461.0 340.2L461.1 337.2L461.9 333.7L462.2 328.1L461.0 327.1L458.0 325.4L456.8 323.9L454.1 318.7L452.7 317.4L452.6 316.1L453.7 314.4L453.3 312.7L453.7 311.4L455.0 310.1L455.9 308.8L456.0 306.2L455.6 305.8ZM517.9 281.3L518.9 280.7L520.9 280.7L522.1 279.9L522.9 278.9L522.5 278.3L523.5 277.0L525.5 276.2L525.4 275.2L526.9 275.0L528.4 275.2L529.2 274.6L530.3 274.1L531.5 274.5L531.8 275.4L533.3 276.4L534.8 277.2L536.2 277.8L536.3 279.4L536.6 279.6L537.5 278.7L537.3 277.5L538.7 277.8L537.8 277.2L536.5 276.6L534.8 275.6L533.4 274.3L533.3 273.4L534.5 273.1L535.2 273.4L535.9 274.2L537.4 275.1L538.8 275.8L539.5 276.2L539.5 277.6L540.2 278.2L540.9 279.3L541.4 280.6L542.4 281.0L542.7 279.7L543.4 279.4L542.4 278.6L542.6 277.6L543.4 277.2L545.2 277.2L545.7 277.8L545.3 278.4L546.0 279.2L546.2 280.5L547.1 280.7L548.3 281.1L549.1 280.7L550.3 280.9L551.6 281.1L552.7 280.6L554.0 280.8L553.7 281.7L553.6 282.5L552.9 283.9L552.3 285.3L550.6 285.4L550.8 286.6L551.7 288.0L552.2 288.4L552.8 286.9L553.1 288.1L554.3 290.1L555.1 291.4L556.5 293.5L557.2 295.1L558.3 296.3L559.5 298.1L559.6 299.5L560.1 301.1L560.2 301.4L561.5 301.2L564.1 300.2L565.9 299.4L567.8 298.6L570.5 297.1L571.7 296.4L572.6 295.9L573.2 294.7L574.3 292.9L573.3 292.0L571.9 291.6L571.3 290.5L571.4 289.6L570.6 290.3L569.3 291.5L567.6 291.6L567.2 291.2L567.2 290.0L566.7 289.9L566.1 290.3L566.0 289.7L565.4 289.0L564.6 287.8L564.0 286.6L564.8 286.5L565.9 286.4L567.1 288.3L568.9 289.2L570.0 289.5L571.3 288.9L572.2 290.2L574.1 290.4L575.9 290.6L578.4 290.6L580.3 290.4L580.8 291.0L581.8 292.1L582.2 293.0L583.5 294.4L585.0 293.3L585.4 294.0L585.5 295.7L586.0 298.5L587.0 300.3L587.6 301.9L588.5 303.8L589.6 305.3L590.2 304.6L591.1 303.4L591.6 302.4L592.0 300.7L591.8 299.2L592.9 298.2L593.7 298.0L595.4 296.4L596.5 295.3L597.7 294.4L597.8 293.8L598.8 293.6L599.5 293.4L600.8 292.9L601.9 293.0L602.3 294.2L603.0 295.1L604.1 296.1L604.2 298.5L605.0 298.7L606.4 297.7L607.0 298.1L607.5 300.6L607.8 302.8L607.5 305.2L609.2 307.7L609.5 308.8L610.1 309.8L612.0 311.1L612.6 311.0L611.9 308.4L610.9 306.9L609.2 305.8L609.2 304.9L608.4 303.4L608.9 301.5L609.0 300.6L609.8 301.3L611.1 301.8L611.6 302.8L612.9 303.2L613.3 304.9L614.9 303.3L616.9 302.3L617.0 300.6L616.6 299.1L615.2 298.0L613.9 296.1L614.7 294.5L615.9 293.7L617.5 293.8L617.8 294.8L618.5 293.8L620.6 293.2L623.2 292.5L624.9 291.1L625.9 289.9L626.9 288.2L628.0 286.6L627.1 285.8L627.8 285.2L626.9 284.1L625.6 282.5L626.5 281.3L628.4 280.3L626.9 279.8L625.4 280.3L624.5 279.2L624.3 278.7L625.4 278.3L627.1 277.2L628.0 277.4L627.4 278.9L628.4 278.3L630.0 278.0L630.8 279.8L631.8 280.0L631.7 282.5L632.7 282.5L634.3 281.9L634.4 280.5L633.5 279.1L632.7 278.1L634.6 277.0L635.5 275.9L636.9 275.1L639.4 274.6L641.5 273.0L643.9 270.6L644.7 267.4L644.4 266.3L642.0 265.9L640.9 265.7L639.4 265.2L641.3 263.7L644.1 262.2L646.3 261.3L649.5 261.3L653.0 261.5L655.7 261.3L657.9 259.3L661.0 259.1L660.7 260.3L659.0 262.4L657.9 263.0L657.2 265.0L657.9 268.4L659.5 266.8L660.8 265.7L662.5 263.9L662.9 263.7L663.3 262.4L664.6 260.9L666.1 260.3L669.6 260.7L671.5 259.8L673.3 259.1L675.8 258.5L677.3 258.7L677.6 256.8L679.7 256.4L681.9 256.9L684.5 256.8L686.9 255.5L684.9 254.7L681.5 253.4L678.0 252.9L674.5 252.3L669.4 252.0L665.9 252.4L661.6 252.4L659.0 251.2L653.8 251.3L648.7 250.1L643.5 249.9L641.8 250.8L636.6 250.8L634.0 250.4L632.3 249.1L628.8 249.3L624.5 249.1L620.2 248.8L619.3 246.9L617.6 246.3L612.4 245.5L608.1 246.5L603.8 246.9L599.5 247.4L597.8 248.7L592.2 249.0L592.4 250.2L590.0 250.0L587.4 249.7L585.3 249.7L582.7 249.5L581.8 250.8L580.3 251.4L580.5 252.5L578.4 252.7L574.9 252.2L573.2 253.0L569.7 253.6L568.9 253.0L564.6 254.0L560.9 253.4L560.5 255.4L557.5 256.7L554.6 257.2L552.7 256.7L552.5 255.5L551.2 254.9L552.9 254.8L555.9 255.4L558.3 254.8L557.7 254.0L553.8 252.9L551.2 252.6L548.6 252.1L546.9 251.2L545.0 251.1L542.6 251.7L539.1 252.1L536.5 253.3L535.2 254.2L533.5 255.7L531.8 256.8L530.1 257.8L527.5 258.7L527.0 259.8L527.0 261.1L527.6 261.6L528.8 262.4L530.1 262.1L531.4 261.5L531.9 260.8L532.4 261.5L532.9 262.1L533.6 263.7L533.9 264.6L535.1 264.5L536.5 263.9L537.0 262.8L537.2 262.0L538.9 261.0L537.8 260.1L537.6 258.6L539.1 257.7L541.3 256.4L542.0 255.7L544.6 256.1L544.3 256.6L541.3 258.1L541.1 259.7L541.7 260.4L542.6 260.8L545.2 260.3L548.6 260.7L546.9 261.1L543.4 261.2L543.0 261.7L543.8 262.2L543.4 263.3L541.3 262.8L540.8 264.1L541.0 264.8L539.7 265.5L538.7 265.2L537.0 265.4L535.0 265.9L533.5 265.5L532.2 265.8L531.5 265.5L532.1 263.8L531.8 262.7L530.1 263.2L529.7 264.1L530.1 265.0L530.4 265.8L528.8 266.4L526.9 266.7L526.2 267.7L524.9 268.3L524.1 269.1L522.9 269.6L521.6 269.6L521.1 269.5L521.4 270.4L520.1 270.3L518.7 270.7L519.0 271.2L520.6 271.6L521.7 272.5L521.7 273.9L521.4 275.0L519.4 275.0L515.8 274.7L514.7 275.4L515.1 276.2L515.0 277.9L514.5 279.0L515.1 280.5L516.3 280.3L517.2 280.6ZM207.3 281.3L208.4 280.7L210.4 280.7L211.6 279.9L212.3 278.9L211.9 278.3L213.0 277.0L214.9 276.2L214.8 275.2L216.3 275.0L217.9 275.2L218.6 274.6L219.8 274.1L221.0 274.5L221.2 275.4L222.8 276.4L224.3 277.2L225.6 277.8L225.7 279.4L226.1 279.6L226.9 278.7L226.8 277.5L228.1 277.8L227.3 277.2L226.0 276.6L224.3 275.6L222.9 274.3L222.8 273.4L224.0 273.1L224.7 273.4L225.4 274.2L226.8 275.1L228.2 275.8L228.9 276.2L228.9 277.6L229.6 278.2L230.4 279.3L230.9 280.6L231.8 281.0L232.2 279.7L232.9 279.4L231.8 278.6L232.0 277.6L232.9 277.2L234.6 277.2L235.1 277.8L234.8 278.4L235.5 279.2L235.6 280.5L236.6 280.7L237.8 281.1L238.6 280.7L239.8 280.9L241.1 281.1L242.1 280.6L243.4 280.8L243.1 281.7L243.1 282.5L242.4 283.9L241.8 285.3L240.0 285.4L240.2 286.6L241.2 288.0L241.7 288.4L242.3 286.9L242.5 288.1L243.7 290.1L244.5 291.4L245.9 293.5L246.7 295.1L247.7 296.3L248.9 298.1L249.1 299.5L249.5 301.1L249.7 301.4L251.0 301.2L253.6 300.2L255.3 299.4L257.2 298.6L260.0 297.1L261.2 296.4L262.0 295.9L262.6 294.7L263.8 292.9L262.7 292.0L261.3 291.6L260.7 290.5L260.8 289.6L260.1 290.3L258.8 291.5L257.0 291.6L256.7 291.2L256.7 290.0L256.2 289.9L255.6 290.3L255.5 289.7L254.9 289.0L254.0 287.8L253.5 286.6L254.3 286.5L255.4 286.4L256.5 288.3L258.3 289.2L259.4 289.5L260.7 288.9L261.7 290.2L263.5 290.4L265.3 290.6L267.8 290.6L269.7 290.4L270.2 291.0L271.3 292.1L271.7 293.0L273.0 294.4L274.5 293.3L274.8 294.0L275.0 295.7L275.5 298.5L276.4 300.3L277.0 301.9L278.0 303.8L279.0 305.3L279.6 304.6L280.6 303.4L281.0 302.4L281.4 300.7L281.3 299.2L282.3 298.2L283.2 298.0L284.9 296.4L285.9 295.3L287.1 294.4L287.2 293.8L288.3 293.6L288.9 293.4L290.2 292.9L291.4 293.0L291.8 294.2L292.4 295.1L293.5 296.1L293.6 298.5L294.5 298.7L295.9 297.7L296.5 298.1L297.0 300.6L297.2 302.8L297.0 305.2L298.7 307.7L299.0 308.8L299.6 309.8L301.5 311.1L302.1 311.0L301.4 308.4L300.3 306.9L298.7 305.8L298.7 304.9L297.8 303.4L298.4 301.5L298.4 300.6L299.2 301.3L300.6 301.8L301.0 302.8L302.3 303.2L302.8 304.9L304.3 303.3L306.4 302.3L306.5 300.6L306.0 299.1L304.6 298.0L303.4 296.1L304.1 294.5L305.3 293.7L307.0 293.8L307.2 294.8L307.9 293.8L310.1 293.2L312.7 292.5L314.4 291.1L315.3 289.9L316.4 288.2L317.4 286.6L316.6 285.8L317.2 285.2L316.4 284.1L315.1 282.5L316.0 281.3L317.8 280.3L316.4 279.8L314.8 280.3L314.0 279.2L313.7 278.7L314.8 278.3L316.6 277.2L317.4 277.4L316.8 278.9L317.8 278.3L319.4 278.0L320.3 279.8L321.3 280.0L321.1 282.5L322.2 282.5L323.7 281.9L323.8 280.5L322.9 279.1L322.2 278.1L324.1 277.0L324.9 275.9L326.3 275.1L328.9 274.6L331.0 273.0L333.4 270.6L334.2 267.4L333.8 266.3L331.5 265.9L330.4 265.7L328.8 265.2L330.8 263.7L333.5 262.2L335.8 261.3L339.0 261.3L342.4 261.5L345.2 261.3L347.4 259.3L350.5 259.1L350.2 260.3L348.5 262.4L347.4 263.0L346.7 265.0L347.4 268.4L348.9 266.8L350.3 265.7L351.9 263.9L352.4 263.7L352.8 262.4L354.1 260.9L355.5 260.3L359.1 260.7L361.0 259.8L362.7 259.1L365.3 258.5L366.8 258.7L367.0 256.8L369.2 256.4L371.3 256.9L373.9 256.8L376.3 255.5L374.4 254.7L370.9 253.4L367.4 252.9L364.0 252.3L358.8 252.0L355.4 252.4L351.1 252.4L348.5 251.2L343.3 251.3L338.1 250.1L332.9 249.9L331.2 250.8L326.0 250.8L323.5 250.4L321.7 249.1L318.3 249.3L314.0 249.1L309.7 248.8L308.8 246.9L307.1 246.3L301.9 245.5L297.6 246.5L293.3 246.9L288.9 247.4L287.2 248.7L281.6 249.0L281.9 250.2L279.5 250.0L276.9 249.7L274.7 249.7L272.1 249.5L271.3 250.8L269.8 251.4L270.0 252.5L267.8 252.7L264.4 252.2L262.6 253.0L259.2 253.6L258.3 253.0L254.0 254.0L250.3 253.4L250.0 255.4L246.9 256.7L244.1 257.2L242.2 256.7L241.9 255.5L240.6 254.9L242.4 254.8L245.4 255.4L247.7 254.8L247.1 254.0L243.2 252.9L240.6 252.6L238.1 252.1L236.3 251.2L234.4 251.1L232.0 251.7L228.6 252.1L226.0 253.3L224.7 254.2L223.0 255.7L221.2 256.8L219.5 257.8L216.9 258.7L216.5 259.8L216.5 261.1L217.1 261.6L218.2 262.4L219.5 262.1L220.8 261.5L221.3 260.8L221.8 261.5L222.4 262.1L223.0 263.7L223.3 264.6L224.5 264.5L226.0 263.9L226.5 262.8L226.7 262.0L228.3 261.0L227.3 260.1L227.1 258.6L228.6 257.7L230.7 256.4L231.4 255.7L234.1 256.1L233.7 256.6L230.7 258.1L230.5 259.7L231.2 260.4L232.0 260.8L234.6 260.3L238.1 260.7L236.3 261.1L232.9 261.2L232.4 261.7L233.2 262.2L232.9 263.3L230.7 262.8L230.3 264.1L230.5 264.8L229.2 265.5L228.1 265.2L226.4 265.4L224.4 265.9L223.0 265.5L221.7 265.8L221.0 265.5L221.6 263.8L221.2 262.7L219.6 263.2L219.2 264.1L219.6 265.0L219.9 265.8L218.2 266.4L216.3 266.7L215.6 267.7L214.3 268.3L213.6 269.1L212.3 269.6L211.1 269.6L210.5 269.5L210.9 270.4L209.6 270.3L208.1 270.7L208.5 271.2L210.0 271.6L211.1 272.5L211.1 273.9L210.9 275.0L208.9 275.0L205.3 274.7L204.2 275.4L204.6 276.2L204.4 277.9L204.0 279.0L204.6 280.5L205.7 280.3L206.7 280.6ZM550.6 285.4L548.6 285.3L546.9 285.7L544.3 285.1L542.6 284.3L541.7 284.0L540.0 284.7L539.1 286.2L537.4 285.6L536.1 284.5L533.9 284.0L532.6 283.7L531.4 283.0L532.3 282.0L531.8 280.7L532.2 280.4L531.2 280.2L529.6 280.5L527.0 280.6L525.3 280.6L523.6 280.9L521.9 281.7L520.8 282.1L518.2 281.4L517.5 281.5L516.9 283.0L515.4 283.6L514.3 285.3L514.4 286.5L512.8 288.0L511.5 288.6L510.2 289.7L508.9 291.6L508.1 293.8L508.7 295.5L508.5 297.6L507.6 299.6L508.2 300.6L508.3 301.7L509.4 302.4L510.2 303.2L511.3 304.2L511.9 305.5L513.2 306.4L514.5 307.5L516.3 308.5L518.4 307.9L521.0 308.1L522.7 307.4L524.5 306.8L526.6 306.8L527.9 308.6L529.2 308.4L530.3 308.6L530.9 309.7L531.2 311.4L530.7 313.1L532.2 315.3L533.1 316.5L533.9 319.1L534.4 321.3L533.5 323.9L532.9 326.4L533.5 328.1L535.1 331.6L535.7 335.0L537.0 336.8L538.3 339.3L538.5 341.5L540.0 342.2L542.1 341.5L544.7 341.5L546.0 341.0L548.6 338.9L550.8 336.7L551.1 334.6L553.3 332.9L553.2 331.2L552.7 329.4L554.2 328.4L556.8 326.4L557.7 324.7L557.7 321.7L556.8 318.7L556.4 316.5L557.5 314.7L558.5 313.5L560.2 311.6L562.4 309.7L564.1 308.0L565.4 305.4L566.9 302.4L565.0 302.5L562.4 303.1L560.7 303.3L560.0 302.4L559.6 301.5L558.5 300.4L557.2 298.9L556.4 297.6L555.5 296.4L554.8 294.2L554.5 293.3L553.3 292.1L552.9 290.3L551.9 288.6L550.8 286.6ZM565.3 322.6L566.3 325.6L565.4 327.7L564.6 330.3L563.3 333.7L561.5 334.2L560.4 332.4L560.1 330.7L561.0 329.3L560.7 326.9L562.4 325.8L564.1 323.9ZM591.7 303.8L592.6 304.9L593.4 306.2L592.6 307.1L591.8 307.1L591.6 305.8ZM517.8 269.3L520.1 268.8L523.9 268.2L524.2 267.0L522.9 266.3L522.5 265.8L521.4 265.0L521.0 264.1L521.2 262.7L520.0 261.9L518.4 261.9L517.4 262.8L517.9 264.1L518.6 265.2L520.0 265.8L520.1 266.5L518.8 266.9L519.1 267.6L518.2 267.8L519.7 268.1L518.8 268.8ZM517.5 267.4L517.4 266.0L517.9 265.3L517.5 264.8L516.3 264.7L515.4 265.3L514.1 265.8L514.5 266.7L513.8 267.6L514.5 268.0L515.8 267.7L517.3 267.4ZM635.6 283.0L637.0 281.7L639.6 281.6L640.7 280.2L643.1 279.4L643.5 277.9L644.6 276.7L645.2 278.3L644.4 280.0L644.2 281.7L643.2 282.2L642.5 282.5L640.9 282.5L639.9 283.5L639.2 282.5L637.5 282.8L635.7 283.1ZM634.6 283.5L635.7 283.1L636.4 284.3L635.7 285.3L635.0 285.4L634.7 284.1ZM637.0 283.9L637.9 283.6L638.9 283.2L638.7 282.9L637.5 282.9L636.9 283.4ZM643.5 276.6L644.8 275.7L646.3 276.2L648.5 275.0L646.9 274.4L645.0 273.2L644.6 274.9L643.8 275.1L643.5 276.2ZM645.2 272.7L646.5 272.3L646.3 270.1L646.9 270.0L645.9 265.6L645.4 266.3L645.2 268.4L645.1 271.0ZM626.3 292.5L626.9 293.4L627.9 290.9L627.4 290.5L626.4 291.6ZM616.4 295.7L617.2 296.6L618.5 295.4L618.0 295.0L616.8 295.1ZM626.2 298.5L626.7 296.4L628.1 296.4L628.0 298.1L628.4 300.2L629.7 301.1L628.8 300.6L627.1 300.4L626.8 299.8ZM628.0 306.2L628.8 304.9L631.0 304.1L631.8 305.8L631.0 307.4L629.7 306.7ZM628.0 303.2L629.3 302.4L631.0 302.4L630.6 303.7L628.8 304.1ZM604.9 307.4L606.8 307.8L609.2 310.1L612.0 312.7L612.9 313.8L614.2 314.8L614.0 317.2L612.9 317.3L611.1 315.7L609.9 314.4L608.6 312.7L607.7 310.7L606.0 309.2ZM613.5 318.1L614.6 317.4L616.3 317.8L618.0 318.2L619.8 318.2L621.4 318.9L621.5 319.7L618.5 319.3L616.3 319.0L614.6 318.6ZM616.8 311.0L617.4 310.5L618.9 310.1L620.2 309.5L622.4 307.7L623.7 306.2L625.6 307.8L624.5 308.4L624.3 311.4L625.3 311.4L624.1 312.2L623.4 314.0L622.8 315.4L621.5 315.7L619.1 314.8L617.7 313.8L616.8 312.7L616.8 311.4ZM625.8 317.0L626.7 317.0L626.5 314.7L627.4 316.3L628.7 316.1L627.5 314.0L629.0 313.1L627.1 313.1L626.7 311.8L628.8 311.5L630.6 311.0L626.9 311.1L626.1 312.2L625.4 315.3ZM635.7 313.1L637.0 312.6L639.2 315.1L641.3 313.5L644.4 314.5L647.8 316.1L648.7 317.0L650.0 317.8L650.4 319.1L652.6 321.3L650.0 320.8L648.7 319.1L646.9 319.0L645.7 320.2L644.4 320.1L642.6 319.3L641.8 319.5L641.6 317.0L639.6 316.0L637.9 315.5L636.6 314.7L636.2 313.5ZM629.3 321.1L630.6 320.0L632.5 319.5L631.4 320.2L630.0 321.0ZM625.2 319.8L626.2 319.4L628.7 319.4L628.7 319.8L626.2 319.9ZM620.6 331.2L621.1 334.6L621.8 337.2L622.5 339.3L621.9 341.1L623.2 342.3L624.5 342.3L629.3 341.4L631.4 340.0L634.0 339.5L635.7 339.3L638.3 340.4L639.7 342.2L640.5 341.5L641.6 342.9L643.1 343.2L643.9 344.9L646.5 345.6L648.9 345.9L650.4 344.7L652.0 344.5L652.3 343.0L653.2 341.3L654.3 339.8L655.2 336.9L654.9 333.7L652.8 331.6L651.3 329.9L648.9 328.6L648.2 326.0L648.1 325.1L646.5 324.3L645.7 321.4L644.9 323.4L644.8 326.4L643.9 327.5L642.6 326.9L640.9 325.8L639.6 325.1L640.6 323.0L640.0 322.6L637.2 322.0L635.7 322.7L634.4 325.1L632.7 324.3L631.0 324.7L629.3 326.4L628.1 327.7L627.1 329.0L624.9 329.7L623.4 330.0L621.6 331.0ZM647.5 347.2L650.7 347.4L650.4 349.4L648.7 349.7L648.0 348.5ZM671.7 341.8L673.3 343.6L674.5 344.5L676.7 344.7L675.4 346.0L674.5 347.5L673.7 347.9L673.3 346.5L672.7 345.9L673.3 344.0ZM671.7 347.1L673.1 348.1L672.4 349.2L670.5 350.5L668.9 352.3L666.4 351.8L667.6 350.1L670.2 348.3ZM367.4 252.9L371.8 254.2L376.1 255.4L374.4 256.9L370.9 256.0L367.4 256.4ZM367.4 385.0L374.4 385.0L380.4 384.4L383.8 381.4L386.4 379.8L389.9 380.6L393.3 382.7L395.9 378.4L396.8 377.4L403.7 376.3L415.8 375.4L427.8 375.2L439.0 375.0L453.7 375.0L462.3 375.2L462.8 372.8L464.5 371.4L467.5 369.1L471.0 367.3L473.6 366.4L472.7 367.4L469.7 369.4L468.8 371.6L469.7 374.1L469.7 378.9L474.4 380.1L479.6 380.7L489.9 380.4L498.1 378.1L504.2 376.4L509.8 375.0L514.5 373.8L522.7 373.3L531.4 373.3L533.1 372.2L546.9 372.2L548.6 371.1L552.9 369.8L561.5 369.8L570.2 369.8L578.8 372.0L583.1 372.0L590.0 371.6L591.7 369.8L608.1 369.4L644.4 369.4L652.1 371.1L660.7 372.4L669.7 374.1L665.9 375.8L663.3 378.4L664.2 381.9L669.4 384.2L678.0 384.2L678.9 389.6L366.6 389.6ZM56.9 385.0L63.8 385.0L69.8 384.4L73.3 381.4L75.9 379.8L79.3 380.6L82.8 382.7L85.4 378.4L86.2 377.4L93.1 376.3L105.2 375.4L117.3 375.2L128.5 375.0L143.2 375.0L151.8 375.2L152.2 372.8L153.9 371.4L157.0 369.1L160.4 367.3L163.0 366.4L162.1 367.4L159.1 369.4L158.3 371.6L159.1 374.1L159.1 378.9L163.9 380.1L169.0 380.7L179.4 380.4L187.6 378.1L193.6 376.4L199.2 375.0L204.0 373.8L212.2 373.3L220.8 373.3L222.5 372.2L236.3 372.2L238.1 371.1L242.4 369.8L251.0 369.8L259.6 369.8L268.2 372.0L272.6 372.0L279.5 371.6L281.2 369.8L297.6 369.4L333.8 369.4L341.6 371.1L350.2 372.4L359.2 374.1L355.4 375.8L352.8 378.4L353.6 381.9L358.8 384.2L367.4 384.2L368.3 389.6L56.0 389.6ZM469.8 356.3L472.5 356.3L473.0 356.7L472.0 357.2L470.5 357.1Z" fill="#d3d3d3"/><path d="M441.6 261.5L442.9 263.3L447.7 264.6L451.7 264.9L453.7 268.0L454.6 265.4L456.3 264.1L456.3 260.7L455.4 258.7L453.7 257.7L450.3 258.1L446.8 257.2L444.2 258.1L441.6 259.8ZM546.9 276.5L547.4 275.0L548.3 273.3L549.3 272.3L550.8 272.7L551.6 274.0L553.3 273.5L554.3 273.3L555.5 274.0L556.8 274.9L558.6 276.5L556.8 277.0L554.2 276.8L552.5 276.2L550.3 276.4L547.9 276.8ZM553.1 273.2L554.5 273.2L555.8 272.5L556.5 271.7L555.1 271.8L553.1 272.5ZM565.0 272.3L567.2 271.9L568.4 272.0L568.6 273.3L567.0 273.9L568.2 276.2L569.3 277.0L568.4 278.3L569.2 280.2L566.7 280.7L565.0 280.0L565.3 277.9L564.6 276.3L563.5 274.9L563.7 273.1ZM443.3 272.1L445.1 272.2L447.7 272.3L449.8 272.3L449.7 271.4L448.5 270.3L446.4 270.3L445.1 270.9L443.4 271.9ZM447.0 276.4L447.9 276.3L448.4 274.9L449.0 273.1L449.6 272.8L448.1 272.7L447.2 273.7L446.9 275.3ZM449.7 272.8L450.7 272.6L452.4 272.7L453.5 273.1L452.3 273.7L452.2 275.0L451.6 275.3L450.7 274.5L450.9 273.6L449.8 273.1ZM450.7 276.4L452.4 276.6L454.6 275.5L453.3 275.6L451.6 276.0ZM453.9 275.0L456.3 275.1L457.0 274.3L455.4 274.5L454.1 274.7ZM437.3 268.8L439.5 268.8L439.2 267.6L438.4 265.8L437.5 266.3L437.3 268.0ZM421.8 259.8L425.2 259.7L428.7 258.7L427.0 258.3L423.5 258.7ZM414.9 256.4L418.3 256.2L420.9 255.1L418.3 254.7L415.8 255.1Z" fill="#fff"/>
<path d="M360.0 237.0C361.2 237.0 363.0 237.0 367.0 237.1C371.0 237.2 377.1 237.1 384.2 237.4C391.3 237.7 402.8 238.4 409.9 239.1C417.0 239.8 422.4 240.6 427.0 241.7C431.6 242.8 434.4 243.9 437.4 245.5C440.3 247.1 442.5 248.8 444.7 251.0C446.9 253.2 449.4 256.4 450.8 258.4C452.2 260.3 453.7 261.8 453.3 262.7C452.9 263.6 450.6 263.6 448.4 263.9C446.1 264.2 442.9 264.3 439.8 264.5C436.7 264.7 433.6 264.8 430.0 265.1C426.4 265.5 421.9 266.4 418.5 266.6C415.1 266.9 413.3 267.2 409.9 266.6C406.5 266.0 402.2 264.5 397.9 263.2C393.6 261.9 389.3 259.9 384.2 258.9C379.1 257.9 371.0 257.5 367.0 257.2C363.0 256.9 361.2 257.0 360.0 257.0" fill="none" stroke="#e8454a" stroke-width="1.0"/>
<path d="M685.0 257.5C683.8 257.6 680.2 257.8 678.0 258.0C675.8 258.2 674.0 258.0 671.5 258.9C669.0 259.8 665.2 261.6 662.9 263.2C660.6 264.8 658.9 266.3 657.7 268.3C656.6 270.3 655.4 273.2 656.0 275.2C656.6 277.2 658.9 279.2 661.2 280.3C663.5 281.4 667.0 281.7 669.8 282.0C672.6 282.3 675.5 282.0 678.0 282.0C680.5 282.0 683.8 282.0 685.0 282.0" fill="none" stroke="#e8454a" stroke-width="1.0"/>
<path d="M360.0 282.5C361.4 282.5 365.5 283.0 368.1 282.5C370.7 282.0 372.7 280.4 375.8 279.7C378.9 279.0 383.6 278.2 386.9 278.1C390.2 278.0 393.9 278.2 395.7 279.2C397.5 280.2 397.7 281.6 397.9 284.1C398.1 286.6 397.7 291.2 396.8 294.1C395.9 297.1 394.4 299.8 392.4 301.8C390.4 303.8 387.5 305.2 384.7 306.2C381.9 307.2 378.4 307.7 375.8 307.9C373.2 308.1 370.7 307.9 369.2 307.3C367.7 306.7 368.5 305.2 367.0 304.5C365.5 303.8 361.2 303.2 360.0 303.0" fill="none" stroke="#e8454a" stroke-width="1.0"/>
<path d="M368.7 287.5C369.6 286.2 371.1 284.9 373.6 284.1C376.1 283.3 380.7 282.5 383.6 282.5C386.6 282.5 389.7 282.9 391.3 284.1C392.9 285.3 393.5 287.7 393.5 289.7C393.5 291.7 392.9 294.5 391.3 296.3C389.7 298.1 386.2 300.1 383.6 300.7C381.0 301.3 378.0 300.9 375.8 300.1C373.6 299.3 371.6 297.1 370.3 295.7C369.0 294.3 368.4 293.3 368.1 291.9C367.8 290.5 367.8 288.8 368.7 287.5Z" fill="none" stroke="#e8454a" stroke-width="1.0"/>
<path d="M374.2 291.3C374.3 290.2 375.8 288.7 377.0 288.0C378.2 287.3 379.8 286.8 381.3 286.9C382.8 287.0 384.8 287.7 386.0 288.5C387.2 289.3 388.6 290.8 388.5 291.9C388.4 293.0 386.7 294.6 385.5 295.3C384.3 296.0 382.8 296.4 381.3 296.3C379.8 296.2 377.7 295.6 376.5 294.8C375.3 294.0 374.1 292.4 374.2 291.3Z" fill="none" stroke="#e8454a" stroke-width="1.0"/>
<path d="M460.0 266.3C460.8 265.0 463.6 264.1 466.8 263.9C470.0 263.7 474.9 264.2 479.0 265.1C483.1 266.0 488.2 268.0 491.3 269.4C494.4 270.8 497.0 272.4 497.4 273.7C497.8 275.0 496.3 276.5 493.7 277.4C491.1 278.3 485.6 279.3 481.5 279.2C477.4 279.1 472.5 278.0 469.2 276.8C465.9 275.6 463.4 273.6 461.9 271.9C460.4 270.1 459.2 267.6 460.0 266.3Z" fill="none" stroke="#e8454a" stroke-width="1.0"/>
<path d="M494.6 257.4C494.5 255.3 497.6 254.0 500.0 253.0C502.4 252.0 505.2 251.4 509.2 251.5C513.2 251.6 520.0 252.1 523.8 253.7C527.6 255.3 531.3 258.7 531.8 261.0C532.3 263.3 529.7 266.3 526.7 267.6C523.7 268.9 518.0 269.1 513.6 268.7C509.2 268.3 503.6 267.3 500.4 265.4C497.2 263.5 494.7 259.5 494.6 257.4Z" fill="none" stroke="#5656fa" stroke-width="1.0" stroke-dasharray="2.2 1.1"/>
<path d="M685.0 236.6C683.8 236.6 685.5 236.6 678.0 236.6C670.5 236.6 651.3 236.7 640.0 236.8C628.7 236.9 618.5 236.7 610.0 237.1C601.5 237.5 595.6 238.6 589.0 239.5C582.4 240.4 575.7 241.6 570.6 242.6C565.5 243.6 561.0 244.6 558.4 245.6C555.8 246.6 555.5 247.4 554.7 248.7C553.9 250.0 554.1 252.0 553.5 253.6C552.9 255.2 551.7 256.7 551.0 258.5C550.3 260.3 549.7 263.0 549.2 264.6C548.7 266.2 548.6 266.5 548.1 268.0C547.6 269.5 547.0 272.1 546.4 273.5C545.8 274.9 546.6 275.8 544.2 276.3C541.8 276.9 536.0 276.6 532.1 276.8C528.2 277.0 523.6 277.0 521.0 277.4C518.4 277.8 517.5 277.8 516.6 279.0C515.7 280.2 515.6 282.8 515.5 284.6C515.4 286.5 515.6 288.7 516.1 290.1C516.6 291.5 517.0 292.2 518.8 292.8C520.5 293.4 523.8 293.9 526.6 293.9C529.4 293.9 532.8 293.4 535.4 292.8C538.0 292.2 540.4 291.2 542.0 290.1C543.6 289.0 544.2 286.9 545.3 286.2C546.4 285.5 547.5 285.2 548.6 285.7C549.7 286.2 551.2 287.7 551.9 289.0C552.5 290.3 552.7 292.1 552.5 293.4C552.3 294.7 552.4 295.7 550.8 296.7C549.2 297.7 545.0 298.6 543.1 299.5C541.2 300.4 539.6 301.4 539.2 302.2C538.8 303.0 539.3 304.0 540.9 304.4C542.5 304.8 546.4 304.6 548.6 304.4C550.8 304.2 552.6 303.9 554.1 303.3C555.6 302.8 556.4 301.0 557.5 301.1C558.6 301.2 559.6 302.5 561.0 304.0C562.4 305.5 564.2 308.2 566.0 310.0C567.8 311.8 571.0 313.8 572.0 314.5" fill="none" stroke="#e8454a" stroke-width="1.0"/>
<path d="M517.7 286.8C518.1 285.5 520.1 283.7 522.1 282.9C524.1 282.1 527.5 281.5 529.9 281.8C532.3 282.1 535.2 283.5 536.5 284.6C537.8 285.7 538.0 287.3 537.6 288.4C537.2 289.5 536.1 290.6 534.3 291.2C532.5 291.8 529.0 291.8 526.6 291.7C524.2 291.6 521.4 291.4 519.9 290.6C518.4 289.8 517.3 288.1 517.7 286.8Z" fill="none" stroke="#e8454a" stroke-width="1.0"/>
<path d="M531.0 288.4C531.0 288.7 530.7 289.1 530.2 289.4C529.7 289.7 528.8 289.9 528.0 290.0C527.1 290.1 526.1 290.1 525.2 290.0C524.4 289.9 523.5 289.7 523.0 289.4C522.5 289.1 522.2 288.7 522.2 288.4C522.2 288.1 522.5 287.7 523.0 287.4C523.5 287.1 524.4 286.9 525.2 286.8C526.1 286.7 527.1 286.7 528.0 286.8C528.8 286.9 529.7 287.1 530.2 287.4C530.7 287.7 531.0 288.1 531.0 288.4Z" fill="none" stroke="#e8454a" stroke-width="1.0"/>
<path d="M558.4 270.8C558.6 268.0 559.0 265.4 559.6 263.4C560.2 261.3 560.3 260.1 562.1 258.5C563.9 256.9 567.1 255.0 570.6 253.6C574.1 252.2 578.8 250.8 582.9 249.9C587.0 249.0 590.9 248.4 595.1 248.1C599.3 247.8 604.1 248.1 608.0 248.3C611.9 248.5 615.1 248.4 618.3 249.4C621.4 250.4 624.8 252.6 626.9 254.6C629.0 256.6 630.9 259.5 631.2 261.4C631.5 263.2 630.8 264.8 628.6 265.7C626.5 266.6 621.7 266.5 618.3 266.6C614.9 266.7 610.8 266.0 608.0 266.3C605.2 266.6 603.4 267.6 601.3 268.3C599.1 269.1 596.5 269.6 595.1 270.8C593.7 272.0 593.4 273.5 592.7 275.7C592.0 277.9 591.5 280.9 591.0 284.0C590.5 287.1 590.3 290.7 590.0 294.0C589.7 297.3 589.8 301.0 589.0 304.0C588.2 307.0 587.2 309.8 585.5 312.0C583.8 314.2 581.6 316.5 579.0 317.5C576.4 318.5 572.8 318.8 570.0 318.0C567.2 317.2 564.0 315.2 562.0 313.0C560.0 310.8 558.7 307.7 557.8 305.0C556.9 302.3 556.4 299.2 556.4 296.7C556.4 294.2 557.2 292.9 557.5 290.1C557.8 287.3 558.1 283.2 558.3 280.0C558.4 276.8 558.2 273.6 558.4 270.8Z" fill="none" stroke="#e8454a" stroke-width="1.0"/>
<path d="M559.0 295.2C559.1 291.1 561.0 286.5 563.5 283.1C566.0 279.7 570.5 275.0 574.0 275.0C577.5 275.0 582.0 279.7 584.5 283.1C587.0 286.5 589.2 290.7 589.0 295.2C588.8 299.8 585.8 306.9 583.0 310.2C580.2 313.6 575.9 315.8 572.5 315.5C569.1 315.2 564.9 311.6 562.6 308.2C560.4 304.8 558.9 299.4 559.0 295.2Z" fill="none" stroke="#e8454a" stroke-width="1.0"/>
<path d="M561.0 297.0C561.1 293.4 562.7 289.4 564.9 286.5C567.1 283.6 571.0 279.5 574.0 279.5C577.0 279.5 580.9 283.6 583.1 286.5C585.3 289.4 587.2 293.1 587.0 297.0C586.8 300.9 584.2 307.0 581.8 309.9C579.4 312.9 575.6 314.8 572.7 314.5C569.8 314.2 566.1 311.1 564.1 308.2C562.2 305.3 560.9 300.6 561.0 297.0Z" fill="none" stroke="#e8454a" stroke-width="1.0"/>
<path d="M562.8 298.2C562.9 295.2 564.3 291.9 566.1 289.4C568.0 286.9 571.3 283.5 573.9 283.5C576.5 283.5 579.8 286.9 581.7 289.4C583.5 291.9 585.2 295.0 585.0 298.2C584.8 301.5 582.6 306.7 580.6 309.2C578.5 311.6 575.3 313.2 572.8 313.0C570.3 312.8 567.1 310.1 565.5 307.7C563.8 305.2 562.7 301.3 562.8 298.2Z" fill="none" stroke="#e8454a" stroke-width="1.0"/>
<path d="M564.5 299.2C564.6 296.7 565.7 293.9 567.3 291.9C568.8 289.9 571.6 287.0 573.8 287.0C575.9 287.0 578.7 289.9 580.2 291.9C581.8 293.9 583.2 296.5 583.0 299.2C582.8 302.0 581.0 306.3 579.3 308.3C577.6 310.4 574.9 311.7 572.8 311.5C570.7 311.3 568.1 309.1 566.7 307.1C565.3 305.0 564.4 301.8 564.5 299.2Z" fill="none" stroke="#e8454a" stroke-width="1.0"/>
<path d="M566.0 300.0C566.1 298.0 567.0 295.9 568.2 294.3C569.5 292.7 571.8 290.5 573.5 290.5C575.2 290.5 577.5 292.7 578.8 294.3C580.0 295.9 581.1 297.9 581.0 300.0C580.9 302.1 579.4 305.4 578.0 307.0C576.6 308.6 574.5 309.7 572.8 309.5C571.0 309.3 568.9 307.7 567.8 306.1C566.7 304.5 565.9 302.0 566.0 300.0Z" fill="none" stroke="#e8454a" stroke-width="1.0"/>
<path d="M567.5 300.2C567.6 298.9 568.3 297.3 569.2 296.2C570.2 295.1 571.9 293.5 573.2 293.5C574.6 293.5 576.3 295.1 577.3 296.2C578.2 297.3 579.1 298.7 579.0 300.2C578.9 301.8 577.8 304.1 576.7 305.2C575.6 306.4 574.0 307.1 572.7 307.0C571.4 306.9 569.7 305.7 568.9 304.6C568.0 303.4 567.4 301.6 567.5 300.2Z" fill="none" stroke="#e8454a" stroke-width="1.0"/>
<path d="M568.7 300.0C568.7 299.2 569.2 298.3 569.9 297.6C570.5 296.9 571.7 296.0 572.6 296.0C573.5 296.0 574.7 296.9 575.3 297.6C576.0 298.3 576.6 299.1 576.5 300.0C576.4 300.9 575.7 302.3 574.9 303.0C574.2 303.6 573.1 304.1 572.2 304.0C571.3 303.9 570.2 303.2 569.6 302.6C569.1 301.9 568.7 300.8 568.7 300.0Z" fill="none" stroke="#e8454a" stroke-width="1.0"/>
<path d="M586.5 290.0C586.9 288.5 588.2 283.4 589.0 281.0C589.8 278.6 590.3 276.9 591.5 275.5C592.7 274.1 594.1 273.1 596.0 272.5C597.9 271.9 600.5 271.5 603.0 271.8C605.5 272.1 608.8 272.8 611.3 274.1C613.8 275.4 616.4 277.5 618.0 279.5C619.6 281.5 619.8 284.1 620.7 286.3C621.6 288.6 622.3 291.1 623.4 293.0C624.5 294.9 625.7 296.5 627.5 298.0C629.3 299.5 631.2 301.3 634.0 302.0C636.8 302.7 640.8 302.6 644.0 302.0C647.2 301.4 650.3 300.0 653.0 298.5C655.7 297.0 657.7 294.3 660.0 293.0C662.3 291.7 664.0 290.5 667.0 290.5C670.0 290.5 675.0 292.2 678.0 293.0C681.0 293.8 683.8 294.7 685.0 295.0" fill="none" stroke="#e8454a" stroke-width="1.0"/>
<path d="M360.0 300.0C361.2 300.3 365.8 301.7 367.0 302.0" fill="none" stroke="#e8454a" stroke-width="1.0"/>
<path d="M623.4 276.5C624.4 273.2 627.1 270.6 630.3 269.2C633.4 267.8 638.9 267.9 642.3 268.3C645.7 268.7 648.3 269.7 650.9 271.7C653.5 273.7 656.3 277.7 657.7 280.3C659.1 282.9 660.1 285.2 659.5 287.2C658.9 289.2 657.2 290.9 654.3 292.3C651.4 293.7 646.2 295.2 642.3 295.7C638.4 296.1 634.0 296.1 631.0 295.0C628.0 293.9 625.8 292.1 624.5 289.0C623.2 285.9 622.4 279.8 623.4 276.5Z" fill="none" stroke="#e8454a" stroke-width="1.0"/>
<path d="M625.2 283.7C626.3 282.0 630.3 279.7 633.7 278.6C637.1 277.5 642.0 276.3 645.7 276.9C649.4 277.5 654.3 280.0 656.0 282.0C657.7 284.0 657.7 287.2 656.0 288.9C654.3 290.6 649.4 291.7 645.7 292.3C642.0 292.9 636.8 292.9 633.7 292.3C630.6 291.7 628.3 290.3 626.9 288.9C625.5 287.5 624.1 285.4 625.2 283.7Z" fill="none" stroke="#e8454a" stroke-width="1.0"/>
<path d="M630.3 283.7C630.9 282.1 635.8 280.7 638.9 280.3C642.0 279.9 646.9 280.3 649.2 281.2C651.5 282.1 652.9 284.1 652.6 285.5C652.3 286.9 650.4 289.0 647.5 289.7C644.6 290.4 638.3 290.7 635.4 289.7C632.5 288.7 629.7 285.3 630.3 283.7Z" fill="none" stroke="#e8454a" stroke-width="1.0"/>
<path d="M640.6 284.6C640.6 284.9 640.3 285.4 639.8 285.6C639.4 285.8 638.6 286.0 638.0 286.0C637.4 286.0 636.6 285.8 636.2 285.6C635.7 285.4 635.4 284.9 635.4 284.6C635.4 284.3 635.7 283.8 636.2 283.6C636.6 283.4 637.4 283.2 638.0 283.2C638.6 283.2 639.4 283.4 639.8 283.6C640.3 283.8 640.6 284.3 640.6 284.6Z" fill="none" stroke="#e8454a" stroke-width="1.0"/>
<path d="M591.0 272.8C591.7 272.1 592.4 269.8 595.1 268.7C597.8 267.6 602.9 266.7 607.2 266.0C611.5 265.3 616.9 265.1 620.7 264.7C624.5 264.2 628.2 263.8 630.2 263.3C632.2 262.9 632.5 262.2 633.0 262.0" fill="none" stroke="#e8454a" stroke-width="1.0"/>
<path d="M589.7 291.7C590.2 289.4 590.6 286.5 592.4 284.9C594.2 283.3 597.6 282.5 600.5 282.2C603.4 281.9 607.4 281.8 609.9 282.9C612.4 284.0 614.4 286.2 615.3 289.0C616.2 291.8 616.2 296.7 615.3 299.8C614.4 302.9 612.6 306.3 609.9 307.9C607.2 309.5 602.0 309.6 599.1 309.2C596.2 308.8 594.0 307.0 592.4 305.2C590.8 303.4 590.2 300.6 589.7 298.4C589.2 296.1 589.2 293.9 589.7 291.7Z" fill="none" stroke="#5656fa" stroke-width="1.0" stroke-dasharray="2.2 1.1"/>
<path d="M592.4 293.0C593.3 291.2 595.5 288.1 597.8 287.0C600.0 285.9 603.5 285.5 605.9 286.3C608.3 287.1 611.1 289.7 612.0 291.7C612.9 293.7 612.5 296.6 611.3 298.4C610.0 300.2 607.0 301.9 604.5 302.5C602.0 303.1 598.4 302.6 596.4 301.8C594.4 301.0 593.1 299.3 592.4 297.8C591.7 296.3 591.5 294.8 592.4 293.0Z" fill="none" stroke="#5656fa" stroke-width="1.0" stroke-dasharray="2.2 1.1"/>
<path d="M607.2 293.0C607.2 293.7 606.8 294.5 606.2 295.0C605.5 295.5 604.5 296.0 603.5 296.2C602.5 296.4 601.1 296.4 600.1 296.2C599.1 296.0 598.1 295.5 597.4 295.0C596.8 294.5 596.4 293.7 596.4 293.0C596.4 292.3 596.8 291.5 597.4 291.0C598.1 290.5 599.1 290.0 600.1 289.8C601.1 289.6 602.5 289.6 603.5 289.8C604.5 290.0 605.5 290.5 606.2 291.0C606.8 291.5 607.2 292.3 607.2 293.0Z" fill="none" stroke="#5656fa" stroke-width="1.0" stroke-dasharray="2.2 1.1"/>
<path d="M392.4 311.0C392.3 309.5 393.7 307.1 395.0 305.0C396.3 302.9 398.3 300.9 400.1 298.5C401.9 296.1 403.8 292.8 405.6 290.8C407.5 288.8 408.6 287.8 411.2 286.3C413.8 284.8 417.9 282.9 421.5 281.9C425.1 280.9 428.9 280.7 432.6 280.3C436.3 279.9 439.9 279.6 443.6 279.7C447.3 279.8 450.7 280.3 454.6 280.8C458.5 281.3 462.6 282.1 466.8 282.5C471.0 282.9 475.3 282.8 480.0 283.0C484.7 283.2 490.5 283.1 495.0 283.5C499.5 283.9 503.7 284.6 507.0 285.5C510.3 286.4 512.8 287.6 515.0 289.0C517.2 290.4 518.8 292.0 520.0 294.0C521.2 296.0 522.2 298.7 522.5 301.0C522.8 303.3 522.2 305.8 521.5 308.0C520.8 310.2 519.6 312.6 518.0 314.0C516.4 315.4 514.5 316.3 512.0 316.5C509.5 316.7 506.3 315.5 503.0 315.0C499.7 314.5 495.8 313.9 492.0 313.5C488.2 313.1 484.5 312.8 480.0 312.5C475.5 312.2 469.7 311.6 465.0 311.8C460.3 312.0 455.2 312.9 452.0 313.5C448.8 314.1 447.8 315.4 445.8 315.5C443.8 315.6 442.6 314.9 440.0 314.0C437.4 313.1 433.3 310.9 430.0 310.0C426.7 309.1 423.1 308.4 420.0 308.5C416.9 308.6 414.1 309.5 411.2 310.6C408.2 311.7 404.9 314.4 402.3 315.0C399.7 315.6 397.4 314.7 395.7 314.0C394.0 313.3 392.5 312.5 392.4 311.0Z" fill="none" stroke="#5656fa" stroke-width="1.0" stroke-dasharray="2.2 1.1"/>
<path d="M408.3 297.9C408.3 296.3 409.4 294.0 411.6 292.4C413.8 290.8 418.0 289.7 421.5 288.5C425.0 287.3 428.9 286.0 432.6 285.2C436.3 284.4 439.9 284.0 443.6 283.6C447.3 283.2 450.9 282.9 454.6 283.0C458.3 283.1 461.4 283.8 465.6 284.1C469.8 284.4 475.1 284.8 480.0 285.0C484.9 285.2 490.7 285.1 495.0 285.5C499.3 285.9 503.0 286.6 506.0 287.5C509.0 288.4 511.0 289.6 513.0 291.0C515.0 292.4 516.8 294.2 518.0 296.0C519.2 297.8 519.9 299.9 520.0 302.0C520.1 304.1 519.5 306.7 518.5 308.5C517.5 310.3 516.2 312.3 514.0 313.0C511.8 313.7 508.5 312.8 505.0 312.5C501.5 312.2 497.2 311.4 493.0 311.0C488.8 310.6 484.7 310.2 480.0 310.0C475.3 309.8 469.7 309.3 465.0 309.5C460.3 309.7 455.2 310.6 452.0 311.0C448.8 311.4 447.6 312.3 445.8 312.0C444.0 311.7 443.0 310.2 441.4 309.0C439.8 307.8 437.9 305.8 435.9 304.5C433.9 303.2 431.7 302.2 429.3 301.5C426.9 300.8 424.4 300.4 421.5 300.5C418.6 300.6 413.8 302.2 411.6 301.8C409.4 301.4 408.3 299.5 408.3 297.9Z" fill="none" stroke="#5656fa" stroke-width="1.0" stroke-dasharray="2.2 1.1"/>
<path d="M433.1 295.2C433.1 293.2 435.4 292.1 438.2 291.0C441.1 289.8 444.6 289.0 450.2 288.4C455.7 287.8 463.3 287.6 471.5 287.5C479.8 287.4 492.1 287.0 499.7 288.0C507.3 289.0 513.9 291.4 517.0 293.6C520.1 295.7 518.5 299.0 518.5 301.0C518.5 303.0 520.1 304.1 517.0 305.4C513.9 306.7 507.3 308.4 499.7 309.0C492.1 309.6 479.8 309.3 471.5 309.0C463.3 308.7 455.7 308.4 450.2 307.3C444.6 306.3 441.1 304.8 438.2 302.8C435.4 300.8 433.1 297.2 433.1 295.2Z" fill="none" stroke="#5656fa" stroke-width="1.0" stroke-dasharray="2.2 1.1"/>
<path d="M440.3 297.4C440.3 295.8 442.3 294.4 444.9 293.3C447.5 292.2 450.7 291.4 455.6 290.9C460.6 290.3 467.4 290.1 474.8 290.0C482.2 289.9 493.3 289.6 500.1 290.5C506.9 291.4 512.7 293.3 515.5 295.2C518.3 297.0 517.0 299.9 517.0 301.5C517.0 303.1 518.3 304.0 515.5 305.1C512.7 306.2 506.9 307.5 500.1 308.0C493.3 308.5 482.2 308.2 474.8 308.0C467.4 307.8 460.6 307.5 455.6 306.7C450.7 305.9 447.5 304.8 444.9 303.2C442.3 301.7 440.3 299.0 440.3 297.4Z" fill="none" stroke="#5656fa" stroke-width="1.0" stroke-dasharray="2.2 1.1"/>
<path d="M444.1 299.6C444.1 298.3 446.0 296.7 448.4 295.7C450.8 294.7 453.7 293.9 458.4 293.4C463.0 292.8 469.3 292.6 476.2 292.5C483.1 292.4 493.5 292.3 499.8 293.0C506.1 293.7 511.4 295.1 514.0 296.6C516.6 298.0 515.5 300.2 515.5 301.5C515.5 302.8 516.6 303.7 514.0 304.6C511.4 305.6 506.1 306.8 499.8 307.2C493.5 307.6 483.1 307.4 476.2 307.2C469.3 307.0 463.0 306.9 458.4 306.3C453.7 305.7 450.8 304.9 448.4 303.8C446.0 302.7 444.1 300.9 444.1 299.6Z" fill="none" stroke="#5656fa" stroke-width="1.0" stroke-dasharray="2.2 1.1"/>
<path d="M474.8 296.3C474.8 295.2 475.8 295.6 477.2 295.3C478.5 295.0 480.1 294.9 482.6 294.7C485.2 294.6 488.7 294.5 492.4 294.5C496.2 294.5 502.0 294.5 505.4 295.0C508.7 295.5 511.1 296.5 512.5 297.6C513.9 298.6 514.0 300.2 514.0 301.3C514.0 302.4 513.9 303.2 512.5 304.1C511.1 304.9 508.7 305.9 505.4 306.3C502.0 306.7 496.2 306.5 492.4 306.3C488.7 306.1 485.2 305.9 482.6 305.1C480.1 304.4 478.5 303.3 477.2 301.8C475.8 300.3 474.8 297.4 474.8 296.3Z" fill="none" stroke="#5656fa" stroke-width="1.0" stroke-dasharray="2.2 1.1"/>
<path d="M491.4 299.6C491.4 298.7 492.0 298.1 492.7 297.6C493.4 297.1 494.2 296.7 495.6 296.4C497.0 296.2 498.9 296.0 500.9 296.0C502.9 296.0 506.2 296.1 507.9 296.5C509.5 296.9 510.2 297.6 511.0 298.3C511.8 299.1 512.5 300.3 512.5 301.2C512.5 302.1 511.8 302.8 511.0 303.6C510.2 304.3 509.5 305.2 507.9 305.5C506.2 305.8 502.9 305.6 500.9 305.5C498.9 305.4 497.0 305.2 495.6 304.8C494.2 304.3 493.4 303.7 492.7 302.8C492.0 302.0 491.4 300.5 491.4 299.6Z" fill="none" stroke="#5656fa" stroke-width="1.0" stroke-dasharray="2.2 1.1"/>
<path d="M496.0 300.5C496.0 299.9 496.4 299.3 496.9 298.9C497.4 298.5 498.0 298.2 499.0 297.9C500.0 297.7 501.3 297.6 502.8 297.6C504.2 297.6 506.6 297.8 507.7 298.1C508.8 298.4 508.9 298.6 509.5 299.1C510.1 299.6 511.0 300.4 511.0 301.0C511.0 301.6 510.1 302.4 509.5 303.0C508.9 303.6 508.8 304.3 507.7 304.6C506.6 304.9 504.2 304.7 502.8 304.6C501.3 304.5 500.0 304.4 499.0 304.1C498.0 303.8 497.4 303.4 496.9 302.8C496.4 302.2 496.0 301.1 496.0 300.5Z" fill="none" stroke="#5656fa" stroke-width="1.0" stroke-dasharray="2.2 1.1"/>
<path d="M410.3 323.0C410.3 319.9 412.3 315.7 414.3 313.7C416.3 311.7 419.2 311.2 422.5 310.8C425.8 310.4 430.7 310.7 434.2 311.3C437.7 311.9 440.7 313.5 443.6 314.3C446.5 315.1 448.4 316.1 451.7 316.0C455.0 315.9 459.5 314.5 463.4 313.7C467.3 312.9 471.0 311.9 475.1 311.3C479.2 310.7 484.2 310.5 488.0 310.3C491.8 310.1 494.8 310.0 498.0 310.2C501.2 310.4 505.3 310.3 507.5 311.5C509.7 312.7 510.4 315.1 511.0 317.5C511.6 319.9 511.8 323.2 511.0 326.0C510.2 328.8 508.5 332.5 506.0 334.5C503.5 336.5 499.5 337.2 496.0 338.0C492.5 338.8 489.4 338.6 485.0 339.0C480.6 339.4 473.9 340.1 469.3 340.6C464.7 341.2 461.5 342.0 457.6 342.3C453.7 342.6 449.8 342.6 445.9 342.3C442.0 342.0 438.1 341.5 434.2 340.6C430.3 339.7 425.8 338.4 422.5 337.0C419.2 335.6 416.3 334.7 414.3 332.4C412.3 330.1 410.3 326.1 410.3 323.0Z" fill="none" stroke="#e8454a" stroke-width="1.0"/>
<path d="M414.3 324.2C414.3 322.0 415.9 318.4 417.9 316.6C419.8 314.9 423.1 314.0 426.0 313.7C428.9 313.4 432.3 314.2 435.4 314.9C438.5 315.6 441.6 317.1 444.7 317.8C447.8 318.5 450.6 319.1 454.1 318.9C457.6 318.7 461.7 317.6 465.7 316.6C469.7 315.6 474.3 313.8 478.0 313.0C481.7 312.2 484.7 312.1 488.0 311.8C491.3 311.6 494.8 311.3 498.0 311.5C501.2 311.7 505.0 311.6 507.0 312.8C509.0 314.0 509.5 316.2 510.0 318.5C510.5 320.8 510.7 324.0 509.8 326.5C508.9 329.0 507.0 331.8 504.5 333.5C502.0 335.2 498.2 335.9 495.0 336.5C491.8 337.1 489.3 336.9 485.0 337.2C480.7 337.5 474.9 337.8 469.3 338.2C463.8 338.6 457.0 339.5 451.7 339.4C446.4 339.3 442.0 338.4 437.7 337.6C433.4 336.8 429.3 336.0 426.0 334.7C422.7 333.4 419.8 331.8 417.9 330.0C415.9 328.2 414.3 326.4 414.3 324.2Z" fill="none" stroke="#e8454a" stroke-width="1.0"/>
<path d="M419.0 323.0C419.2 321.6 420.6 319.5 422.5 318.4C424.4 317.3 427.4 316.3 430.7 316.6C434.0 316.9 438.5 319.2 442.4 320.1C446.3 321.0 449.8 322.0 454.1 321.9C458.4 321.8 464.1 320.6 468.1 319.5C472.1 318.4 474.7 316.5 478.0 315.5C481.3 314.5 484.7 313.8 488.0 313.3C491.3 312.8 495.0 312.6 498.0 312.7C501.0 312.8 504.2 312.9 506.0 314.0C507.8 315.1 508.6 317.3 509.0 319.5C509.4 321.7 509.5 324.8 508.5 327.0C507.5 329.2 505.4 331.6 503.0 333.0C500.6 334.4 497.0 334.9 494.0 335.3C491.0 335.7 488.5 335.4 485.0 335.5C481.5 335.6 477.4 335.7 472.8 335.9C468.2 336.1 462.5 336.7 457.6 336.5C452.7 336.3 448.1 335.5 443.6 334.7C439.1 333.9 434.4 333.1 430.7 331.8C427.0 330.5 423.3 328.6 421.4 327.1C419.4 325.6 418.8 324.4 419.0 323.0Z" fill="none" stroke="#e8454a" stroke-width="1.0"/>
<path d="M444.7 327.7C444.4 325.4 452.4 320.7 458.8 318.0C465.2 315.4 475.9 312.2 483.2 311.6C490.5 311.0 498.2 312.6 502.5 314.4C506.8 316.1 509.1 319.3 508.9 322.0C508.7 324.6 505.5 327.9 501.2 330.0C496.9 332.1 490.0 334.3 483.2 334.6C476.5 334.9 467.2 333.0 460.8 331.8C454.3 330.7 445.0 330.0 444.7 327.7Z" fill="none" stroke="#e8454a" stroke-width="1.0"/>
<path d="M451.7 326.7C451.4 324.6 458.4 320.7 464.0 318.4C469.6 316.1 478.9 313.2 485.2 312.6C491.6 312.0 498.3 313.5 502.0 315.1C505.7 316.6 507.8 319.6 507.6 321.9C507.4 324.3 504.6 327.3 500.9 329.2C497.2 331.1 491.1 333.0 485.2 333.3C479.4 333.6 471.3 331.9 465.7 330.8C460.1 329.7 452.0 328.7 451.7 326.7Z" fill="none" stroke="#e8454a" stroke-width="1.0"/>
<path d="M467.0 325.6C466.8 323.8 471.7 320.9 475.6 318.9C479.5 317.0 486.1 314.4 490.5 313.9C495.0 313.4 499.7 314.7 502.3 316.1C504.9 317.4 506.3 320.0 506.2 322.0C506.1 324.0 504.1 326.6 501.5 328.3C498.9 329.9 494.6 331.7 490.5 331.9C486.4 332.1 480.7 330.8 476.8 329.7C472.9 328.7 467.2 327.4 467.0 325.6Z" fill="none" stroke="#e8454a" stroke-width="1.0"/>
<path d="M470.7 324.9C470.5 323.4 474.8 321.1 478.2 319.5C481.6 317.9 487.3 315.6 491.2 315.2C495.0 314.8 499.1 315.9 501.4 317.0C503.7 318.2 504.9 320.4 504.8 322.1C504.7 323.9 503.0 326.1 500.7 327.5C498.4 328.9 494.7 330.4 491.2 330.6C487.6 330.8 482.6 329.7 479.2 328.8C475.8 327.8 470.9 326.4 470.7 324.9Z" fill="none" stroke="#e8454a" stroke-width="1.0"/>
<path d="M474.4 324.3C474.3 323.0 477.9 321.4 480.8 320.1C483.7 318.8 488.5 316.8 491.8 316.5C495.1 316.2 498.6 317.1 500.5 318.0C502.4 319.0 503.5 320.8 503.4 322.3C503.3 323.7 501.9 325.6 499.9 326.7C498.0 327.9 494.8 329.1 491.8 329.3C488.8 329.5 484.5 328.6 481.6 327.8C478.8 326.9 474.5 325.6 474.4 324.3Z" fill="none" stroke="#e8454a" stroke-width="1.0"/>
<path d="M478.0 323.7C477.9 322.7 480.9 321.6 483.3 320.7C485.7 319.7 489.7 318.1 492.4 317.8C495.1 317.5 498.0 318.3 499.6 319.0C501.2 319.8 502.1 321.2 502.0 322.4C501.9 323.5 500.7 325.0 499.1 326.0C497.5 326.9 494.9 327.9 492.4 328.0C489.9 328.1 486.4 327.5 484.0 326.8C481.6 326.1 478.1 324.7 478.0 323.7Z" fill="none" stroke="#e8454a" stroke-width="1.0"/>
<path d="M477.1 348.0C477.7 346.2 480.9 343.2 484.1 340.9C487.3 338.5 492.4 336.2 496.5 333.9C500.6 331.5 505.6 328.1 508.8 326.8C512.0 325.5 513.7 325.3 515.9 325.9C518.1 326.5 520.8 328.4 522.0 330.3C523.2 332.2 523.6 335.0 522.9 337.4C522.2 339.8 520.5 342.6 517.6 344.5C514.7 346.4 509.7 347.7 505.3 348.9C500.9 350.1 495.3 351.1 491.2 351.5C487.1 351.9 483.0 352.1 480.6 351.5C478.2 350.9 476.5 349.8 477.1 348.0Z" fill="none" stroke="#5656fa" stroke-width="1.0" stroke-dasharray="2.2 1.1"/>
<path d="M487.6 344.5C488.2 343.2 493.3 341.1 496.5 339.2C499.7 337.3 504.1 334.3 507.0 333.0C509.9 331.7 512.0 330.8 514.1 331.2C516.2 331.6 518.8 333.8 519.4 335.6C520.0 337.4 520.0 340.0 517.6 341.8C515.2 343.6 509.4 345.3 505.3 346.2C501.2 347.1 495.8 347.4 492.9 347.1C489.9 346.8 487.0 345.8 487.6 344.5Z" fill="none" stroke="#5656fa" stroke-width="1.0" stroke-dasharray="2.2 1.1"/>
<path d="M496.5 342.7C497.1 341.5 502.4 338.7 505.3 337.4C508.2 336.1 512.1 334.6 514.1 334.8C516.1 335.0 517.9 337.0 517.6 338.3C517.3 339.6 514.9 341.7 512.3 342.7C509.6 343.7 504.3 344.5 501.7 344.5C499.1 344.5 495.9 343.9 496.5 342.7Z" fill="none" stroke="#5656fa" stroke-width="1.0" stroke-dasharray="2.2 1.1"/>
<path d="M514.1 334.8C514.1 335.3 513.7 335.9 513.1 336.3C512.5 336.6 511.4 336.9 510.6 336.9C509.8 336.9 508.7 336.6 508.1 336.3C507.5 335.9 507.1 335.3 507.1 334.8C507.1 334.3 507.5 333.7 508.1 333.3C508.7 333.0 509.8 332.7 510.6 332.7C511.4 332.7 512.5 333.0 513.1 333.3C513.7 333.7 514.1 334.3 514.1 334.8Z" fill="none" stroke="#5656fa" stroke-width="1.0" stroke-dasharray="2.2 1.1"/>
<path d="M500.0 360.3C500.4 359.3 500.9 357.9 503.5 355.9C506.1 353.8 512.7 350.8 515.9 348.0C519.1 345.2 521.4 342.4 522.9 339.2C524.4 336.0 523.8 330.8 524.7 328.6C525.6 326.4 526.4 325.9 528.2 325.9C530.0 325.9 533.4 327.0 535.3 328.6C537.2 330.2 539.1 332.7 539.7 335.6C540.3 338.5 540.1 342.7 538.8 346.2C537.5 349.7 534.9 354.0 531.7 356.8C528.5 359.6 523.8 362.0 519.4 363.0C515.0 364.0 508.4 363.1 505.3 363.0C502.2 362.9 501.8 362.6 500.9 362.1C500.0 361.7 499.6 361.3 500.0 360.3Z" fill="none" stroke="#e8454a" stroke-width="1.0"/>
<path d="M517.6 355.9C517.9 355.0 521.1 353.4 522.9 351.5C524.7 349.6 526.9 347.1 528.2 344.5C529.5 341.9 530.1 337.5 530.8 335.6C531.5 333.7 531.9 333.0 532.6 333.0C533.4 333.0 534.8 333.7 535.3 335.6C535.8 337.5 536.2 341.7 535.3 344.5C534.4 347.3 532.4 350.3 530.0 352.4C527.6 354.4 523.2 356.2 521.1 356.8C519.0 357.4 517.3 356.8 517.6 355.9Z" fill="none" stroke="#e8454a" stroke-width="1.0"/>
<path d="M360.0 326.0C361.2 326.1 365.1 325.9 367.0 326.5C368.9 327.1 370.3 327.6 371.4 329.8C372.5 332.0 372.5 335.8 373.6 339.7C374.7 343.6 376.5 348.6 378.0 353.0C379.5 357.4 381.4 362.5 382.5 366.2C383.6 369.9 383.6 372.3 384.7 375.1C385.8 377.9 384.7 381.2 389.1 382.8C393.5 384.4 403.9 384.5 411.2 385.0C418.5 385.5 423.9 385.5 433.2 385.7C442.5 385.9 457.9 386.4 467.0 386.1C476.1 385.8 481.2 385.2 487.6 384.1C494.0 383.0 499.4 381.6 505.3 379.7C511.2 377.8 518.2 374.8 522.9 372.7C527.6 370.6 530.6 369.5 533.5 367.4C536.4 365.3 538.8 363.2 540.5 360.3C542.2 357.4 542.8 353.5 543.5 350.0C544.2 346.5 544.2 342.8 544.5 339.2C544.8 335.6 545.1 331.7 545.5 328.6C545.9 325.5 546.8 323.1 547.0 320.5C547.2 317.9 546.6 315.0 547.0 313.0C547.4 311.0 548.1 309.6 549.5 308.5C550.9 307.4 553.6 306.2 555.5 306.6C557.4 307.0 560.4 309.4 561.0 311.0C561.6 312.6 558.8 314.7 559.0 316.5C559.2 318.3 560.1 320.6 562.1 322.0C564.1 323.4 567.9 323.0 570.9 324.8C573.9 326.6 577.0 329.6 580.0 333.0C583.0 336.4 586.1 341.7 589.0 345.0C591.9 348.3 594.9 350.8 597.4 353.0C599.9 355.2 601.8 356.9 604.0 358.0C606.2 359.1 608.4 359.8 610.6 359.6C612.8 359.4 615.5 358.1 617.0 357.0C618.5 355.9 619.5 354.6 619.5 353.0C619.5 351.4 619.4 348.8 617.0 347.5C614.6 346.2 608.5 346.6 605.0 345.5C601.5 344.4 597.8 343.2 596.0 341.0C594.2 338.8 593.9 334.4 594.5 332.0C595.1 329.6 596.9 327.6 599.5 326.5C602.1 325.4 606.1 325.1 610.0 325.2C613.9 325.2 619.0 325.5 622.7 326.8C626.5 328.1 630.0 330.4 632.5 332.9C635.0 335.3 635.4 339.3 637.4 341.5C639.4 343.7 642.3 345.9 644.8 345.9C647.2 345.9 650.1 343.9 652.1 341.5C654.1 339.1 655.4 334.1 657.0 331.7C658.6 329.2 659.4 327.8 661.9 326.8C664.4 325.8 669.0 325.5 671.7 325.5C674.4 325.5 675.8 326.5 678.0 326.8C680.2 327.1 683.8 327.4 685.0 327.5" fill="none" stroke="#5656fa" stroke-width="1.0" stroke-dasharray="2.2 1.1"/>
<path d="M556.5 311.8C556.5 312.3 556.1 313.0 555.6 313.4C555.1 313.8 554.2 314.1 553.5 314.1C552.8 314.1 551.9 313.8 551.4 313.4C550.9 313.0 550.5 312.3 550.5 311.8C550.5 311.3 550.9 310.6 551.4 310.2C551.9 309.8 552.8 309.5 553.5 309.5C554.2 309.5 555.1 309.8 555.6 310.2C556.1 310.6 556.5 311.3 556.5 311.8Z" fill="none" stroke="#5656fa" stroke-width="1.0" stroke-dasharray="2.2 1.1"/>
<path d="M548.8 330.9C549.7 327.7 551.0 325.7 553.2 325.0C555.4 324.3 559.2 325.3 562.1 326.5C565.0 327.7 568.3 329.4 570.9 332.0C573.5 334.6 575.3 338.0 577.5 341.9C579.7 345.8 582.5 351.5 584.2 355.2C585.9 358.9 587.5 361.1 587.5 364.0C587.5 366.9 587.0 370.8 584.2 372.8C581.4 374.8 575.3 375.8 570.9 376.2C566.5 376.6 561.0 376.0 557.7 375.1C554.4 374.2 552.5 372.8 551.0 370.6C549.5 368.4 549.3 366.2 548.8 361.8C548.3 357.4 547.9 349.4 547.9 344.2C547.9 339.0 547.9 334.1 548.8 330.9Z" fill="none" stroke="#5656fa" stroke-width="1.0" stroke-dasharray="2.2 1.1"/>
<path d="M552.1 344.2C552.1 340.1 551.9 337.1 553.2 335.0C554.5 332.9 557.7 331.4 559.9 331.5C562.1 331.6 565.0 333.2 566.5 335.3C568.0 337.4 567.6 341.2 568.7 344.2C569.8 347.1 572.0 350.1 573.1 353.0C574.2 355.9 576.0 359.6 575.3 361.8C574.6 364.0 571.6 365.6 568.7 366.2C565.8 366.8 560.3 366.2 557.7 365.1C555.1 364.0 554.1 363.1 553.2 359.6C552.3 356.1 552.1 348.3 552.1 344.2Z" fill="none" stroke="#5656fa" stroke-width="1.0" stroke-dasharray="2.2 1.1"/>
<path d="M563.0 339.7C563.0 340.5 562.7 341.5 562.2 342.2C561.7 342.8 560.9 343.4 560.1 343.7C559.3 343.9 558.3 343.9 557.5 343.7C556.7 343.4 555.9 342.8 555.4 342.2C554.9 341.5 554.6 340.5 554.6 339.7C554.6 338.9 554.9 337.9 555.4 337.2C555.9 336.6 556.7 336.0 557.5 335.7C558.3 335.5 559.3 335.5 560.1 335.7C560.9 336.0 561.7 336.6 562.2 337.2C562.7 337.9 563.0 338.9 563.0 339.7Z" fill="none" stroke="#5656fa" stroke-width="1.0" stroke-dasharray="2.2 1.1"/>
<path d="M585.3 330.5C585.3 330.9 585.0 331.5 584.6 331.8C584.2 332.2 583.5 332.4 583.0 332.4C582.5 332.4 581.8 332.2 581.4 331.8C581.0 331.5 580.7 330.9 580.7 330.5C580.7 330.1 581.0 329.5 581.4 329.2C581.8 328.8 582.5 328.6 583.0 328.6C583.5 328.6 584.2 328.8 584.6 329.2C585.0 329.5 585.3 330.1 585.3 330.5Z" fill="none" stroke="#e8454a" stroke-width="1.0"/>
<path d="M598.5 335.3C598.5 333.5 599.2 330.9 602.0 329.8C604.8 328.7 611.1 328.5 615.1 328.5C619.1 328.5 623.5 328.7 626.1 330.0C628.7 331.3 630.7 334.6 630.5 336.5C630.3 338.4 628.1 340.5 625.0 341.5C621.9 342.5 615.8 342.5 612.0 342.3C608.2 342.1 604.2 341.7 602.0 340.5C599.8 339.3 598.5 337.1 598.5 335.3Z" fill="none" stroke="#5656fa" stroke-width="1.0" stroke-dasharray="2.2 1.1"/>
<path d="M604.5 335.5C604.8 334.4 606.8 332.9 609.5 332.5C612.2 332.1 618.0 332.3 620.5 333.0C623.0 333.7 624.9 335.4 624.5 336.5C624.1 337.6 620.8 339.3 618.0 339.8C615.2 340.3 610.2 340.0 608.0 339.3C605.8 338.6 604.2 336.6 604.5 335.5Z" fill="none" stroke="#5656fa" stroke-width="1.0" stroke-dasharray="2.2 1.1"/>
<path d="M675.4 333.6C675.4 334.5 674.9 335.5 674.2 336.2C673.5 336.9 672.3 337.5 671.2 337.8C670.0 338.1 668.6 338.1 667.4 337.8C666.3 337.5 665.1 336.9 664.4 336.2C663.7 335.5 663.2 334.5 663.2 333.6C663.2 332.7 663.7 331.7 664.4 331.0C665.1 330.3 666.3 329.7 667.4 329.4C668.6 329.1 670.0 329.1 671.2 329.4C672.3 329.7 673.5 330.3 674.2 331.0C674.9 331.7 675.4 332.7 675.4 333.6Z" fill="none" stroke="#5656fa" stroke-width="1.0" stroke-dasharray="2.2 1.1"/>
<path d="M668.8 361.1C668.8 362.1 668.1 363.3 666.9 364.2C665.7 365.0 663.7 365.9 661.7 366.4C659.7 366.9 657.0 367.2 654.6 367.2C652.2 367.2 649.5 366.9 647.5 366.4C645.5 365.9 643.5 365.0 642.3 364.2C641.1 363.3 640.4 362.1 640.4 361.1C640.4 360.1 641.1 358.9 642.3 358.1C643.5 357.2 645.5 356.3 647.5 355.8C649.5 355.3 652.2 355.0 654.6 355.0C657.0 355.0 659.7 355.3 661.7 355.8C663.7 356.3 665.7 357.2 666.9 358.1C668.1 358.9 668.8 360.1 668.8 361.1Z" fill="none" stroke="#5656fa" stroke-width="1.0" stroke-dasharray="2.2 1.1"/>
<path d="M457.5 361.0C457.5 361.9 456.7 362.8 455.4 363.6C454.1 364.4 452.0 365.1 449.6 365.7C447.2 366.2 444.1 366.7 441.2 366.8C438.2 367.0 434.8 367.0 431.8 366.8C428.9 366.7 425.8 366.2 423.4 365.7C421.0 365.1 418.9 364.4 417.6 363.6C416.3 362.8 415.5 361.9 415.5 361.0C415.5 360.1 416.3 359.2 417.6 358.4C418.9 357.6 421.0 356.9 423.4 356.3C425.8 355.8 428.9 355.3 431.8 355.2C434.8 355.0 438.2 355.0 441.2 355.2C444.1 355.3 447.2 355.8 449.6 356.3C452.0 356.9 454.1 357.6 455.4 358.4C456.7 359.2 457.5 360.1 457.5 361.0Z" fill="none" stroke="#5656fa" stroke-width="1.0" stroke-dasharray="2.2 1.1"/>
<path d="M408.9 298.5C408.8 297.9 408.0 296.3 408.4 295.2C408.8 294.1 409.8 292.8 411.2 291.9C412.6 291.0 416.0 290.1 417.0 289.7" fill="none" stroke="#5656fa" stroke-width="1.0" stroke-dasharray="2.2 1.1"/>
<path d="M466.0 287.4C467.0 286.1 469.7 281.8 472.0 279.5C474.3 277.2 476.2 275.9 480.0 273.4C483.8 270.9 489.7 267.0 494.6 264.7C499.5 262.4 504.3 260.6 509.2 259.5C514.1 258.4 518.9 258.2 523.8 258.1C528.7 258.0 534.3 258.2 538.4 258.8C542.5 259.4 545.7 260.7 548.6 261.7C551.5 262.7 554.8 264.3 556.0 264.8" fill="none" stroke="#1b2836" stroke-width="1.1"/>
<path d="M495.8 298.5C497.3 298.1 501.2 297.1 505.0 296.4C508.8 295.7 512.9 294.9 518.5 294.4C524.1 293.9 532.0 293.2 538.7 293.3C545.5 293.4 553.2 294.3 559.0 295.1C564.8 295.9 568.8 297.6 573.5 298.0C578.2 298.4 582.5 298.1 587.0 297.8C591.5 297.5 596.0 297.0 600.5 296.4C605.0 295.8 609.5 295.0 614.0 294.1C618.5 293.2 624.3 291.8 627.5 291.0C630.7 290.2 632.1 289.8 633.0 289.5" fill="none" stroke="#1b2836" stroke-width="1.1"/>
<path d="M556.2 259.6L561.6 266.6L553.1 266.3L557.1 264.4Z" fill="#1b2836"/>
<path d="M629.7 287.1L637.9 289.2L631.4 294.6L632.8 290.2Z" fill="#1b2836"/>
</g>
<rect x="367.45" y="234.9" width="310.55" height="154.70" fill="none" stroke="#7a7a7a" stroke-width="1"/>
<line x1="362.4" y1="234.9" x2="367.45" y2="234.9" stroke="#7a7a7a" stroke-width="1"/>
<text x="357.1" y="237.7" font-size="7.9" text-anchor="end">90N</text>
<line x1="362.4" y1="260.7" x2="367.45" y2="260.7" stroke="#7a7a7a" stroke-width="1"/>
<text x="357.1" y="263.5" font-size="7.9" text-anchor="end">60N</text>
<line x1="362.4" y1="286.5" x2="367.45" y2="286.5" stroke="#7a7a7a" stroke-width="1"/>
<text x="357.1" y="289.3" font-size="7.9" text-anchor="end">30N</text>
<line x1="362.4" y1="312.2" x2="367.45" y2="312.2" stroke="#7a7a7a" stroke-width="1"/>
<text x="357.1" y="315.1" font-size="7.9" text-anchor="end">0</text>
<line x1="362.4" y1="338.0" x2="367.45" y2="338.0" stroke="#7a7a7a" stroke-width="1"/>
<text x="357.1" y="340.8" font-size="7.9" text-anchor="end">30S</text>
<line x1="362.4" y1="363.8" x2="367.45" y2="363.8" stroke="#7a7a7a" stroke-width="1"/>
<text x="357.1" y="366.6" font-size="7.9" text-anchor="end">60S</text>
<line x1="362.4" y1="389.6" x2="367.45" y2="389.6" stroke="#7a7a7a" stroke-width="1"/>
<text x="357.1" y="392.4" font-size="7.9" text-anchor="end">90S</text>
<line x1="367.4" y1="389.6" x2="367.4" y2="394.6" stroke="#7a7a7a" stroke-width="1"/>
<text x="367.4" y="406.8" font-size="7.9" text-anchor="middle">180</text>
<line x1="419.2" y1="389.6" x2="419.2" y2="394.6" stroke="#7a7a7a" stroke-width="1"/>
<text x="419.2" y="406.8" font-size="7.9" text-anchor="middle">120W</text>
<line x1="471.0" y1="389.6" x2="471.0" y2="394.6" stroke="#7a7a7a" stroke-width="1"/>
<text x="471.0" y="406.8" font-size="7.9" text-anchor="middle">60W</text>
<line x1="522.7" y1="389.6" x2="522.7" y2="394.6" stroke="#7a7a7a" stroke-width="1"/>
<text x="522.7" y="406.8" font-size="7.9" text-anchor="middle">0</text>
<line x1="574.5" y1="389.6" x2="574.5" y2="394.6" stroke="#7a7a7a" stroke-width="1"/>
<text x="574.5" y="406.8" font-size="7.9" text-anchor="middle">60E</text>
<line x1="626.2" y1="389.6" x2="626.2" y2="394.6" stroke="#7a7a7a" stroke-width="1"/>
<text x="626.2" y="406.8" font-size="7.9" text-anchor="middle">120E</text>
<line x1="678.0" y1="389.6" x2="678.0" y2="394.6" stroke="#7a7a7a" stroke-width="1"/>
<text x="678.0" y="406.8" font-size="7.9" text-anchor="middle">180</text>
<text x="522.7" y="224.4" font-size="11.5" text-anchor="middle">day 15</text>
</svg></body></html>
